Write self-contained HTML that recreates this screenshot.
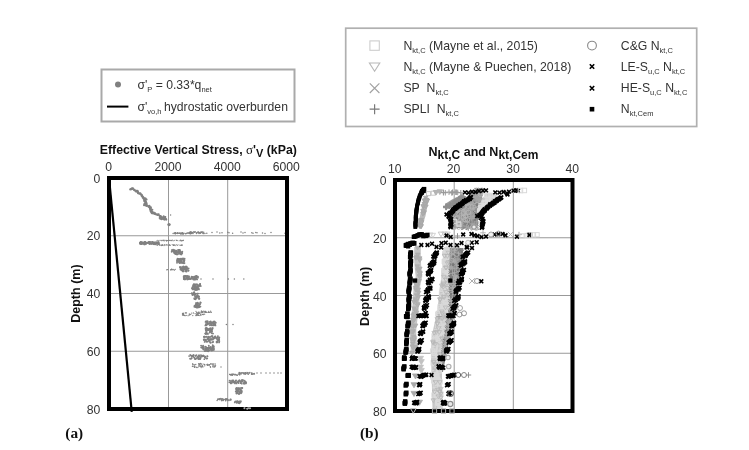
<!DOCTYPE html><html><head><meta charset="utf-8"><title>Chart</title><style>
html,body{margin:0;padding:0;background:#fff;}svg{display:block;filter:blur(0.35px);}text{font-family:"Liberation Sans",sans-serif;}
.ser{font-family:"Liberation Serif",serif;}
</style></head><body>
<svg width="749" height="450" viewBox="0 0 749 450">
<rect width="749" height="450" fill="#fff"/>
<rect x="101.5" y="69.5" width="193" height="52" fill="#fff" stroke="#a9a9a9" stroke-width="2"/>
<circle cx="118" cy="84.5" r="3" fill="#808080"/>
<path d="M107 106.6H128.4" stroke="#000" stroke-width="2"/>
<text x="137.4" y="88.6" font-size="12.2" fill="#333">σ'<tspan font-size="7.5" dy="3">P</tspan><tspan dy="-3" font-size="12.2"> = 0.33*q</tspan><tspan font-size="7.5" dy="3">net</tspan></text>
<text x="137.4" y="110.9" font-size="12.2" fill="#333">σ'<tspan font-size="7.5" dy="3">vo,h</tspan><tspan dy="-3" dx="-0.9" font-size="12.2"> hydrostatic overburden</tspan></text>
<rect x="345.7" y="28.2" width="351" height="98.3" fill="#fff" stroke="#b0b0b0" stroke-width="1.7"/>
<rect x="369.9" y="40.9" width="9.4" height="9.4" stroke="#cdcdcd" stroke-width="1.1" fill="none"/>
<path d="M369.40000000000003 62.99999999999999H379.8L374.6 71.19999999999999Z" stroke="#b8b8b8" stroke-width="1.1" fill="none"/>
<path d="M369.8 83.4L379.4 93.0M369.8 93.0L379.4 83.4" stroke="#a0a0a0" stroke-width="1.1" fill="none"/>
<path d="M369.6 109.2H379.6M374.6 104.2V114.2" stroke="#7a7a7a" stroke-width="1.2" fill="none"/>
<circle cx="592.0" cy="45.6" r="4.4" stroke="#8a8a8a" stroke-width="1.1" fill="none"/>
<path d="M589.8 64.3L594.2 68.8M589.8 68.8L594.2 64.3" stroke="#000" stroke-width="1.6" fill="none"/>
<path d="M589.8 86.0L594.2 90.5M589.8 90.5L594.2 86.0" stroke="#000" stroke-width="1.6" fill="none"/>
<rect x="589.7" y="106.9" width="4.6" height="4.6" stroke="#000" stroke-width="0" fill="#000"/>
<text x="403.4" y="49.5" font-size="12.25" fill="#333">N<tspan font-size="7.5" dy="3">kt,C</tspan><tspan dy="-3" font-size="12.25"> (Mayne et al., 2015)</tspan></text>
<text x="403.4" y="70.5" font-size="12.25" fill="#333">N<tspan font-size="7.5" dy="3">kt,C</tspan><tspan dy="-3" font-size="12.25"> (Mayne &amp; Puechen, 2018)</tspan></text>
<text x="403.4" y="92.10000000000001" font-size="12.25" fill="#333">SP&#160;&#160;N<tspan font-size="7.5" dy="3">kt,C</tspan><tspan dy="-3" font-size="12.25"></tspan></text>
<text x="403.4" y="113.10000000000001" font-size="12.25" fill="#333">SPLI&#160;&#160;N<tspan font-size="7.5" dy="3">kt,C</tspan><tspan dy="-3" font-size="12.25"></tspan></text>
<text x="620.8" y="49.5" font-size="12.25" fill="#333">C&amp;G N<tspan font-size="7.5" dy="3">kt,C</tspan><tspan dy="-3" font-size="12.25"></tspan></text>
<text x="620.8" y="70.5" font-size="12.25" fill="#333">LE-S<tspan font-size="7.5" dy="3">u,C</tspan><tspan dy="-3" font-size="12.25"> N</tspan><tspan font-size="7.5" dy="3">kt,C</tspan><tspan dy="-3" font-size="12.25"></tspan></text>
<text x="620.8" y="92.10000000000001" font-size="12.25" fill="#333">HE-S<tspan font-size="7.5" dy="3">u,C</tspan><tspan dy="-3" font-size="12.25"> N</tspan><tspan font-size="7.5" dy="3">kt,C</tspan><tspan dy="-3" font-size="12.25"></tspan></text>
<text x="620.8" y="113.10000000000001" font-size="12.25" fill="#333">N<tspan font-size="7.5" dy="3">kt,Cem</tspan><tspan dy="-3" font-size="12.25"></tspan></text>
<path d="M168.5 178V409" stroke="#999" stroke-width="1"/>
<path d="M227.7 178V409" stroke="#999" stroke-width="1"/>
<path d="M109 235.75H287" stroke="#999" stroke-width="1"/>
<path d="M109 293.50H287" stroke="#999" stroke-width="1"/>
<path d="M109 351.25H287" stroke="#999" stroke-width="1"/>
<g><circle cx="130.3" cy="189.4" r="1.15" fill="#808080"/><circle cx="131.3" cy="189.0" r="1.15" fill="#808080"/><circle cx="131.8" cy="189.0" r="1.15" fill="#808080"/><circle cx="131.8" cy="188.8" r="1.15" fill="#808080"/><circle cx="132.4" cy="188.4" r="1.15" fill="#808080"/><circle cx="133.1" cy="188.6" r="1.15" fill="#808080"/><circle cx="134.2" cy="190.1" r="1.15" fill="#808080"/><circle cx="134.5" cy="190.0" r="1.15" fill="#808080"/><circle cx="135.7" cy="191.3" r="1.15" fill="#808080"/><circle cx="136.2" cy="191.0" r="1.15" fill="#808080"/><circle cx="137.4" cy="191.0" r="1.15" fill="#808080"/><circle cx="137.8" cy="191.7" r="1.15" fill="#808080"/><circle cx="137.3" cy="191.9" r="1.15" fill="#808080"/><circle cx="138.1" cy="193.2" r="1.15" fill="#808080"/><circle cx="138.6" cy="193.3" r="1.15" fill="#808080"/><circle cx="139.9" cy="193.5" r="1.15" fill="#808080"/><circle cx="140.4" cy="193.6" r="1.15" fill="#808080"/><circle cx="140.4" cy="194.1" r="1.15" fill="#808080"/><circle cx="141.7" cy="195.0" r="1.15" fill="#808080"/><circle cx="141.6" cy="195.8" r="1.15" fill="#808080"/><circle cx="142.2" cy="196.0" r="1.15" fill="#808080"/><circle cx="143.1" cy="197.1" r="1.15" fill="#808080"/><circle cx="142.7" cy="197.5" r="1.15" fill="#808080"/><circle cx="143.5" cy="198.5" r="1.15" fill="#808080"/><circle cx="144.2" cy="198.3" r="1.15" fill="#808080"/><circle cx="144.9" cy="198.7" r="1.15" fill="#808080"/><circle cx="144.5" cy="200.1" r="1.15" fill="#808080"/><circle cx="144.5" cy="200.4" r="1.15" fill="#808080"/><circle cx="144.5" cy="201.3" r="1.15" fill="#808080"/><circle cx="145.7" cy="202.0" r="1.15" fill="#808080"/><circle cx="146.0" cy="202.4" r="1.15" fill="#808080"/><circle cx="145.9" cy="203.4" r="1.15" fill="#808080"/><circle cx="145.9" cy="204.0" r="1.15" fill="#808080"/><circle cx="146.5" cy="205.3" r="1.15" fill="#808080"/><circle cx="146.7" cy="205.3" r="1.15" fill="#808080"/><circle cx="146.8" cy="205.7" r="1.15" fill="#808080"/><circle cx="148.3" cy="206.4" r="1.15" fill="#808080"/><circle cx="149.3" cy="205.9" r="1.15" fill="#808080"/><circle cx="149.3" cy="206.7" r="1.15" fill="#808080"/><circle cx="149.2" cy="207.1" r="1.15" fill="#808080"/><circle cx="149.8" cy="207.3" r="1.15" fill="#808080"/><circle cx="150.0" cy="208.7" r="1.15" fill="#808080"/><circle cx="150.5" cy="208.7" r="1.15" fill="#808080"/><circle cx="151.0" cy="210.2" r="1.15" fill="#808080"/><circle cx="150.7" cy="210.4" r="1.15" fill="#808080"/><circle cx="151.5" cy="211.6" r="1.15" fill="#808080"/><circle cx="152.0" cy="212.3" r="1.15" fill="#808080"/><circle cx="151.4" cy="212.5" r="1.15" fill="#808080"/><circle cx="152.2" cy="213.3" r="1.15" fill="#808080"/><circle cx="153.7" cy="212.7" r="1.15" fill="#808080"/><circle cx="153.2" cy="213.0" r="1.15" fill="#808080"/><circle cx="154.0" cy="213.5" r="1.15" fill="#808080"/><circle cx="155.1" cy="213.5" r="1.15" fill="#808080"/><circle cx="155.0" cy="213.9" r="1.15" fill="#808080"/><circle cx="156.2" cy="214.4" r="1.15" fill="#808080"/><circle cx="157.7" cy="214.7" r="1.15" fill="#808080"/><circle cx="157.7" cy="214.9" r="1.15" fill="#808080"/><circle cx="158.6" cy="214.5" r="1.15" fill="#808080"/><circle cx="159.6" cy="215.8" r="1.15" fill="#808080"/><circle cx="160.2" cy="216.3" r="1.15" fill="#808080"/><circle cx="160.2" cy="216.2" r="1.15" fill="#808080"/><circle cx="160.4" cy="217.0" r="1.15" fill="#808080"/><circle cx="161.0" cy="216.7" r="1.15" fill="#808080"/><circle cx="161.8" cy="217.3" r="1.15" fill="#808080"/><circle cx="162.7" cy="217.6" r="1.15" fill="#808080"/><circle cx="162.8" cy="218.2" r="1.15" fill="#808080"/><circle cx="163.7" cy="218.7" r="1.15" fill="#808080"/><circle cx="164.3" cy="219.6" r="1.15" fill="#808080"/><circle cx="165.9" cy="219.1" r="1.15" fill="#808080"/><circle cx="166.2" cy="219.6" r="1.15" fill="#808080"/><circle cx="145.1" cy="199.4" r="1.1" fill="#808080"/><circle cx="146.5" cy="205.5" r="1.1" fill="#808080"/><circle cx="145.4" cy="201.9" r="1.1" fill="#808080"/><circle cx="144.3" cy="199.2" r="1.1" fill="#808080"/><circle cx="145.0" cy="200.4" r="1.1" fill="#808080"/><circle cx="146.5" cy="199.6" r="1.1" fill="#808080"/><circle cx="144.1" cy="205.2" r="1.1" fill="#808080"/><circle cx="145.6" cy="199.5" r="1.1" fill="#808080"/><circle cx="145.6" cy="198.7" r="1.1" fill="#808080"/><circle cx="145.6" cy="205.3" r="1.1" fill="#808080"/><circle cx="146.6" cy="203.4" r="1.1" fill="#808080"/><circle cx="144.8" cy="201.1" r="1.1" fill="#808080"/><circle cx="144.5" cy="203.9" r="1.1" fill="#808080"/><circle cx="145.6" cy="204.0" r="1.1" fill="#808080"/><circle cx="150.8" cy="208.3" r="1.0" fill="#808080"/><circle cx="152.0" cy="212.9" r="1.0" fill="#808080"/><circle cx="152.1" cy="211.8" r="1.0" fill="#808080"/><circle cx="152.0" cy="211.4" r="1.0" fill="#808080"/><circle cx="150.6" cy="210.1" r="1.0" fill="#808080"/><circle cx="150.9" cy="207.2" r="1.0" fill="#808080"/><circle cx="150.1" cy="208.7" r="1.0" fill="#808080"/><circle cx="150.6" cy="211.2" r="1.0" fill="#808080"/><circle cx="152.4" cy="209.7" r="1.0" fill="#808080"/><circle cx="152.3" cy="212.9" r="1.0" fill="#808080"/><circle cx="165.2" cy="217.0" r="1.0" fill="#808080"/><circle cx="160.4" cy="216.4" r="1.0" fill="#808080"/><circle cx="160.3" cy="216.3" r="1.0" fill="#808080"/><circle cx="163.1" cy="219.1" r="1.0" fill="#808080"/><circle cx="164.5" cy="217.4" r="1.0" fill="#808080"/><circle cx="163.2" cy="218.7" r="1.0" fill="#808080"/><circle cx="159.6" cy="218.1" r="1.0" fill="#808080"/><circle cx="164.9" cy="218.6" r="1.0" fill="#808080"/><circle cx="163.9" cy="217.4" r="1.0" fill="#808080"/><circle cx="160.2" cy="218.7" r="1.0" fill="#808080"/><circle cx="161.2" cy="218.7" r="1.0" fill="#808080"/><circle cx="165.3" cy="217.1" r="1.0" fill="#808080"/><circle cx="161.6" cy="219.3" r="1.0" fill="#808080"/><circle cx="163.7" cy="216.2" r="1.0" fill="#808080"/><circle cx="170.6" cy="215.0" r="0.7" fill="#808080"/><circle cx="169.0" cy="224.6" r="1.7" fill="#808080"/><circle cx="175.3" cy="233.0" r="0.75" fill="#808080"/><circle cx="189.3" cy="233.6" r="0.75" fill="#808080"/><circle cx="175.6" cy="233.6" r="0.75" fill="#808080"/><circle cx="190.6" cy="233.5" r="0.75" fill="#808080"/><circle cx="179.3" cy="233.3" r="0.75" fill="#808080"/><circle cx="175.4" cy="232.8" r="0.75" fill="#808080"/><circle cx="190.5" cy="233.4" r="0.75" fill="#808080"/><circle cx="182.5" cy="233.7" r="0.75" fill="#808080"/><circle cx="180.8" cy="233.7" r="0.75" fill="#808080"/><circle cx="187.9" cy="233.0" r="0.75" fill="#808080"/><circle cx="177.5" cy="233.1" r="0.75" fill="#808080"/><circle cx="177.3" cy="233.4" r="0.75" fill="#808080"/><circle cx="177.7" cy="233.2" r="0.75" fill="#808080"/><circle cx="175.4" cy="233.7" r="0.75" fill="#808080"/><circle cx="179.4" cy="233.3" r="0.75" fill="#808080"/><circle cx="183.5" cy="233.7" r="0.75" fill="#808080"/><circle cx="180.6" cy="233.7" r="0.75" fill="#808080"/><circle cx="182.0" cy="233.3" r="0.75" fill="#808080"/><circle cx="182.4" cy="232.8" r="0.75" fill="#808080"/><circle cx="180.9" cy="233.0" r="0.75" fill="#808080"/><circle cx="173.1" cy="233.6" r="0.75" fill="#808080"/><circle cx="176.1" cy="233.3" r="0.75" fill="#808080"/><circle cx="186.1" cy="233.4" r="0.75" fill="#808080"/><circle cx="178.9" cy="233.3" r="0.75" fill="#808080"/><circle cx="183.0" cy="233.6" r="0.75" fill="#808080"/><circle cx="174.9" cy="233.4" r="0.75" fill="#808080"/><circle cx="177.5" cy="233.1" r="0.75" fill="#808080"/><circle cx="186.9" cy="233.3" r="0.75" fill="#808080"/><circle cx="183.1" cy="233.6" r="0.75" fill="#808080"/><circle cx="189.4" cy="233.2" r="0.75" fill="#808080"/><circle cx="184.0" cy="233.3" r="0.75" fill="#808080"/><circle cx="182.2" cy="233.5" r="0.75" fill="#808080"/><circle cx="181.1" cy="233.3" r="0.75" fill="#808080"/><circle cx="181.6" cy="233.7" r="0.75" fill="#808080"/><circle cx="185.6" cy="233.7" r="0.75" fill="#808080"/><circle cx="190.0" cy="233.1" r="0.75" fill="#808080"/><circle cx="183.1" cy="233.7" r="0.75" fill="#808080"/><circle cx="188.1" cy="232.9" r="0.75" fill="#808080"/><circle cx="175.2" cy="233.2" r="0.75" fill="#808080"/><circle cx="174.3" cy="233.0" r="0.75" fill="#808080"/><circle cx="190.3" cy="233.0" r="0.75" fill="#808080"/><circle cx="203.1" cy="233.4" r="0.75" fill="#808080"/><circle cx="191.8" cy="233.1" r="0.75" fill="#808080"/><circle cx="200.9" cy="232.1" r="0.75" fill="#808080"/><circle cx="204.9" cy="233.5" r="0.75" fill="#808080"/><circle cx="193.0" cy="233.5" r="0.75" fill="#808080"/><circle cx="196.2" cy="232.7" r="0.75" fill="#808080"/><circle cx="206.8" cy="233.3" r="0.75" fill="#808080"/><circle cx="191.9" cy="232.6" r="0.75" fill="#808080"/><circle cx="198.3" cy="232.4" r="0.75" fill="#808080"/><circle cx="192.5" cy="232.4" r="0.75" fill="#808080"/><circle cx="202.0" cy="231.8" r="0.75" fill="#808080"/><circle cx="199.0" cy="232.6" r="0.75" fill="#808080"/><circle cx="189.3" cy="232.4" r="0.75" fill="#808080"/><circle cx="200.2" cy="232.7" r="0.75" fill="#808080"/><circle cx="190.2" cy="233.6" r="0.75" fill="#808080"/><circle cx="203.2" cy="233.5" r="0.75" fill="#808080"/><circle cx="190.9" cy="232.3" r="0.75" fill="#808080"/><circle cx="189.7" cy="233.2" r="0.75" fill="#808080"/><circle cx="193.9" cy="232.0" r="0.75" fill="#808080"/><circle cx="196.6" cy="233.4" r="0.75" fill="#808080"/><circle cx="203.7" cy="232.3" r="0.75" fill="#808080"/><circle cx="191.7" cy="233.5" r="0.75" fill="#808080"/><circle cx="199.3" cy="233.1" r="0.75" fill="#808080"/><circle cx="190.6" cy="231.9" r="0.75" fill="#808080"/><circle cx="201.4" cy="232.6" r="0.75" fill="#808080"/><circle cx="190.3" cy="233.5" r="0.75" fill="#808080"/><circle cx="200.4" cy="233.2" r="0.75" fill="#808080"/><circle cx="190.5" cy="233.3" r="0.75" fill="#808080"/><circle cx="190.2" cy="233.4" r="0.75" fill="#808080"/><circle cx="197.2" cy="232.4" r="0.75" fill="#808080"/><circle cx="199.0" cy="233.5" r="0.75" fill="#808080"/><circle cx="193.8" cy="232.0" r="0.75" fill="#808080"/><circle cx="198.5" cy="232.2" r="0.75" fill="#808080"/><circle cx="191.0" cy="232.1" r="0.75" fill="#808080"/><circle cx="189.9" cy="232.2" r="0.75" fill="#808080"/><circle cx="194.6" cy="232.3" r="0.75" fill="#808080"/><circle cx="202.7" cy="232.3" r="0.75" fill="#808080"/><circle cx="198.0" cy="232.1" r="0.75" fill="#808080"/><circle cx="195.2" cy="231.8" r="0.75" fill="#808080"/><circle cx="212.0" cy="232.4" r="0.75" fill="#808080"/><circle cx="217.0" cy="232.0" r="0.75" fill="#808080"/><circle cx="219.8" cy="233.0" r="0.75" fill="#808080"/><circle cx="222.0" cy="232.8" r="0.75" fill="#808080"/><circle cx="227.8" cy="232.3" r="0.75" fill="#808080"/><circle cx="229.0" cy="232.7" r="0.75" fill="#808080"/><circle cx="232.6" cy="233.3" r="0.75" fill="#808080"/><circle cx="241.0" cy="232.1" r="0.75" fill="#808080"/><circle cx="243.0" cy="233.1" r="0.75" fill="#808080"/><circle cx="245.0" cy="232.6" r="0.75" fill="#808080"/><circle cx="251.8" cy="232.7" r="0.75" fill="#808080"/><circle cx="253.0" cy="233.2" r="0.75" fill="#808080"/><circle cx="255.8" cy="232.6" r="0.75" fill="#808080"/><circle cx="257.0" cy="232.7" r="0.75" fill="#808080"/><circle cx="262.5" cy="233.0" r="0.75" fill="#808080"/><circle cx="265.0" cy="233.4" r="0.75" fill="#808080"/><circle cx="271.0" cy="232.5" r="0.75" fill="#808080"/><circle cx="285.0" cy="233.2" r="0.75" fill="#808080"/><circle cx="153.4" cy="243.5" r="0.9" fill="#808080"/><circle cx="147.7" cy="242.7" r="0.9" fill="#808080"/><circle cx="141.0" cy="242.1" r="0.9" fill="#808080"/><circle cx="141.3" cy="243.7" r="0.9" fill="#808080"/><circle cx="144.9" cy="242.2" r="0.9" fill="#808080"/><circle cx="141.6" cy="244.0" r="0.9" fill="#808080"/><circle cx="156.5" cy="243.5" r="0.9" fill="#808080"/><circle cx="145.4" cy="242.4" r="0.9" fill="#808080"/><circle cx="145.6" cy="243.0" r="0.9" fill="#808080"/><circle cx="143.0" cy="243.0" r="0.9" fill="#808080"/><circle cx="145.0" cy="244.3" r="0.9" fill="#808080"/><circle cx="158.5" cy="243.2" r="0.9" fill="#808080"/><circle cx="144.6" cy="244.3" r="0.9" fill="#808080"/><circle cx="145.9" cy="242.7" r="0.9" fill="#808080"/><circle cx="140.0" cy="242.8" r="0.9" fill="#808080"/><circle cx="149.0" cy="243.1" r="0.9" fill="#808080"/><circle cx="143.8" cy="243.1" r="0.9" fill="#808080"/><circle cx="140.1" cy="242.5" r="0.9" fill="#808080"/><circle cx="141.7" cy="242.8" r="0.9" fill="#808080"/><circle cx="140.8" cy="241.9" r="0.9" fill="#808080"/><circle cx="145.8" cy="242.4" r="0.9" fill="#808080"/><circle cx="151.1" cy="243.2" r="0.9" fill="#808080"/><circle cx="154.3" cy="243.5" r="0.9" fill="#808080"/><circle cx="153.6" cy="244.1" r="0.9" fill="#808080"/><circle cx="147.4" cy="242.6" r="0.9" fill="#808080"/><circle cx="158.7" cy="242.2" r="0.9" fill="#808080"/><circle cx="153.8" cy="243.5" r="0.9" fill="#808080"/><circle cx="140.8" cy="244.0" r="0.9" fill="#808080"/><circle cx="156.9" cy="243.4" r="0.9" fill="#808080"/><circle cx="153.9" cy="243.9" r="0.9" fill="#808080"/><circle cx="142.6" cy="243.2" r="0.9" fill="#808080"/><circle cx="149.6" cy="244.0" r="0.9" fill="#808080"/><circle cx="155.3" cy="243.9" r="0.9" fill="#808080"/><circle cx="151.1" cy="244.1" r="0.9" fill="#808080"/><circle cx="153.0" cy="243.6" r="0.9" fill="#808080"/><circle cx="144.4" cy="241.9" r="0.9" fill="#808080"/><circle cx="142.5" cy="242.7" r="0.9" fill="#808080"/><circle cx="142.0" cy="244.0" r="0.9" fill="#808080"/><circle cx="150.6" cy="243.4" r="0.9" fill="#808080"/><circle cx="151.9" cy="243.6" r="0.9" fill="#808080"/><circle cx="149.3" cy="241.8" r="0.9" fill="#808080"/><circle cx="155.2" cy="243.7" r="0.9" fill="#808080"/><circle cx="149.6" cy="243.2" r="0.9" fill="#808080"/><circle cx="152.5" cy="242.0" r="0.9" fill="#808080"/><circle cx="154.0" cy="242.5" r="0.9" fill="#808080"/><circle cx="141.4" cy="242.5" r="0.9" fill="#808080"/><circle cx="153.9" cy="242.3" r="0.9" fill="#808080"/><circle cx="154.1" cy="244.3" r="0.9" fill="#808080"/><circle cx="149.4" cy="242.8" r="0.9" fill="#808080"/><circle cx="149.1" cy="243.6" r="0.9" fill="#808080"/><circle cx="154.6" cy="243.4" r="0.9" fill="#808080"/><circle cx="152.2" cy="242.0" r="0.9" fill="#808080"/><circle cx="142.8" cy="242.5" r="0.9" fill="#808080"/><circle cx="154.1" cy="242.6" r="0.9" fill="#808080"/><circle cx="150.8" cy="241.8" r="0.9" fill="#808080"/><circle cx="141.2" cy="242.5" r="0.9" fill="#808080"/><circle cx="152.8" cy="243.6" r="0.9" fill="#808080"/><circle cx="152.8" cy="242.6" r="0.9" fill="#808080"/><circle cx="149.8" cy="243.0" r="0.9" fill="#808080"/><circle cx="148.9" cy="242.1" r="0.9" fill="#808080"/><circle cx="157.0" cy="242.3" r="0.9" fill="#808080"/><circle cx="158.6" cy="244.2" r="0.9" fill="#808080"/><circle cx="140.3" cy="243.0" r="0.9" fill="#808080"/><circle cx="155.6" cy="244.3" r="0.9" fill="#808080"/><circle cx="148.5" cy="242.5" r="0.9" fill="#808080"/><circle cx="144.0" cy="244.3" r="0.9" fill="#808080"/><circle cx="144.0" cy="243.3" r="0.9" fill="#808080"/><circle cx="142.7" cy="243.2" r="0.9" fill="#808080"/><circle cx="158.1" cy="242.1" r="0.9" fill="#808080"/><circle cx="155.6" cy="243.1" r="0.9" fill="#808080"/><circle cx="156.9" cy="243.6" r="0.9" fill="#808080"/><circle cx="144.4" cy="244.1" r="0.9" fill="#808080"/><circle cx="149.2" cy="241.9" r="0.9" fill="#808080"/><circle cx="140.1" cy="243.1" r="0.9" fill="#808080"/><circle cx="148.6" cy="242.6" r="0.9" fill="#808080"/><circle cx="142.7" cy="242.7" r="0.9" fill="#808080"/><circle cx="146.0" cy="244.0" r="0.9" fill="#808080"/><circle cx="140.0" cy="243.8" r="0.9" fill="#808080"/><circle cx="155.9" cy="242.1" r="0.9" fill="#808080"/><circle cx="157.6" cy="243.7" r="0.9" fill="#808080"/><circle cx="157.1" cy="242.6" r="0.9" fill="#808080"/><circle cx="147.1" cy="242.8" r="0.9" fill="#808080"/><circle cx="159.0" cy="243.3" r="0.9" fill="#808080"/><circle cx="146.9" cy="242.9" r="0.9" fill="#808080"/><circle cx="145.2" cy="241.9" r="0.9" fill="#808080"/><circle cx="158.8" cy="240.8" r="0.55" fill="#808080"/><circle cx="164.0" cy="240.8" r="0.55" fill="#808080"/><circle cx="163.0" cy="240.3" r="0.55" fill="#808080"/><circle cx="170.3" cy="240.3" r="0.55" fill="#808080"/><circle cx="166.5" cy="240.9" r="0.55" fill="#808080"/><circle cx="180.8" cy="240.7" r="0.55" fill="#808080"/><circle cx="173.7" cy="240.8" r="0.55" fill="#808080"/><circle cx="182.3" cy="240.5" r="0.55" fill="#808080"/><circle cx="176.1" cy="240.1" r="0.55" fill="#808080"/><circle cx="176.5" cy="240.5" r="0.55" fill="#808080"/><circle cx="177.1" cy="240.6" r="0.55" fill="#808080"/><circle cx="164.0" cy="240.1" r="0.55" fill="#808080"/><circle cx="181.9" cy="240.2" r="0.55" fill="#808080"/><circle cx="169.2" cy="240.4" r="0.55" fill="#808080"/><circle cx="164.3" cy="240.7" r="0.55" fill="#808080"/><circle cx="183.3" cy="240.3" r="0.55" fill="#808080"/><circle cx="174.4" cy="240.3" r="0.55" fill="#808080"/><circle cx="171.6" cy="240.4" r="0.55" fill="#808080"/><circle cx="160.7" cy="240.2" r="0.55" fill="#808080"/><circle cx="161.8" cy="240.8" r="0.55" fill="#808080"/><circle cx="169.9" cy="240.3" r="0.55" fill="#808080"/><circle cx="181.4" cy="240.9" r="0.55" fill="#808080"/><circle cx="168.6" cy="240.2" r="0.55" fill="#808080"/><circle cx="161.4" cy="240.2" r="0.55" fill="#808080"/><circle cx="165.6" cy="240.2" r="0.55" fill="#808080"/><circle cx="162.7" cy="240.3" r="0.55" fill="#808080"/><circle cx="171.9" cy="240.8" r="0.55" fill="#808080"/><circle cx="177.0" cy="240.4" r="0.55" fill="#808080"/><circle cx="167.6" cy="240.5" r="0.55" fill="#808080"/><circle cx="166.6" cy="240.4" r="0.55" fill="#808080"/><circle cx="157.7" cy="240.3" r="0.55" fill="#808080"/><circle cx="183.1" cy="240.2" r="0.55" fill="#808080"/><circle cx="170.1" cy="240.6" r="0.55" fill="#808080"/><circle cx="180.2" cy="240.3" r="0.55" fill="#808080"/><circle cx="163.6" cy="240.3" r="0.55" fill="#808080"/><circle cx="167.2" cy="240.5" r="0.55" fill="#808080"/><circle cx="182.7" cy="240.8" r="0.55" fill="#808080"/><circle cx="180.4" cy="240.1" r="0.55" fill="#808080"/><circle cx="156.9" cy="240.7" r="0.55" fill="#808080"/><circle cx="181.1" cy="240.5" r="0.55" fill="#808080"/><circle cx="172.4" cy="240.1" r="0.55" fill="#808080"/><circle cx="167.0" cy="240.8" r="0.55" fill="#808080"/><circle cx="179.1" cy="240.8" r="0.55" fill="#808080"/><circle cx="183.2" cy="240.3" r="0.55" fill="#808080"/><circle cx="159.1" cy="240.2" r="0.55" fill="#808080"/><circle cx="170.1" cy="245.3" r="0.55" fill="#808080"/><circle cx="181.4" cy="245.3" r="0.55" fill="#808080"/><circle cx="173.5" cy="245.4" r="0.55" fill="#808080"/><circle cx="168.3" cy="245.2" r="0.55" fill="#808080"/><circle cx="157.1" cy="245.4" r="0.55" fill="#808080"/><circle cx="162.3" cy="245.5" r="0.55" fill="#808080"/><circle cx="173.4" cy="244.9" r="0.55" fill="#808080"/><circle cx="159.5" cy="244.9" r="0.55" fill="#808080"/><circle cx="173.2" cy="245.3" r="0.55" fill="#808080"/><circle cx="159.0" cy="244.7" r="0.55" fill="#808080"/><circle cx="170.2" cy="245.2" r="0.55" fill="#808080"/><circle cx="166.5" cy="244.8" r="0.55" fill="#808080"/><circle cx="172.2" cy="244.6" r="0.55" fill="#808080"/><circle cx="164.1" cy="245.1" r="0.55" fill="#808080"/><circle cx="181.9" cy="245.2" r="0.55" fill="#808080"/><circle cx="179.9" cy="245.1" r="0.55" fill="#808080"/><circle cx="162.3" cy="244.8" r="0.55" fill="#808080"/><circle cx="181.9" cy="245.3" r="0.55" fill="#808080"/><circle cx="164.3" cy="244.6" r="0.55" fill="#808080"/><circle cx="169.5" cy="245.3" r="0.55" fill="#808080"/><circle cx="167.3" cy="244.9" r="0.55" fill="#808080"/><circle cx="174.0" cy="245.5" r="0.55" fill="#808080"/><circle cx="162.1" cy="244.6" r="0.55" fill="#808080"/><circle cx="165.1" cy="245.0" r="0.55" fill="#808080"/><circle cx="174.4" cy="244.8" r="0.55" fill="#808080"/><circle cx="177.5" cy="245.3" r="0.55" fill="#808080"/><circle cx="169.6" cy="244.8" r="0.55" fill="#808080"/><circle cx="182.2" cy="244.9" r="0.55" fill="#808080"/><circle cx="178.1" cy="244.8" r="0.55" fill="#808080"/><circle cx="162.0" cy="245.4" r="0.55" fill="#808080"/><circle cx="164.0" cy="245.6" r="0.55" fill="#808080"/><circle cx="169.4" cy="244.8" r="0.55" fill="#808080"/><circle cx="162.0" cy="245.0" r="0.55" fill="#808080"/><circle cx="174.0" cy="245.5" r="0.55" fill="#808080"/><circle cx="160.0" cy="245.0" r="0.55" fill="#808080"/><circle cx="161.7" cy="245.6" r="0.55" fill="#808080"/><circle cx="159.8" cy="244.7" r="0.55" fill="#808080"/><circle cx="157.6" cy="245.0" r="0.55" fill="#808080"/><circle cx="180.3" cy="245.5" r="0.55" fill="#808080"/><circle cx="175.8" cy="245.6" r="0.55" fill="#808080"/><circle cx="181.2" cy="244.9" r="0.55" fill="#808080"/><circle cx="161.0" cy="245.5" r="0.55" fill="#808080"/><circle cx="176.2" cy="244.6" r="0.55" fill="#808080"/><circle cx="173.9" cy="245.0" r="0.55" fill="#808080"/><circle cx="166.1" cy="244.9" r="0.55" fill="#808080"/><circle cx="173.1" cy="249.8" r="0.95" fill="#808080"/><circle cx="174.0" cy="250.7" r="0.95" fill="#808080"/><circle cx="179.6" cy="250.1" r="0.95" fill="#808080"/><circle cx="179.7" cy="250.4" r="0.95" fill="#808080"/><circle cx="174.7" cy="252.0" r="0.95" fill="#808080"/><circle cx="178.5" cy="251.0" r="0.95" fill="#808080"/><circle cx="172.1" cy="251.1" r="0.95" fill="#808080"/><circle cx="174.8" cy="252.3" r="0.95" fill="#808080"/><circle cx="173.3" cy="250.8" r="0.95" fill="#808080"/><circle cx="179.1" cy="249.9" r="0.95" fill="#808080"/><circle cx="175.1" cy="252.0" r="0.95" fill="#808080"/><circle cx="178.1" cy="249.9" r="0.95" fill="#808080"/><circle cx="172.0" cy="250.0" r="0.95" fill="#808080"/><circle cx="179.3" cy="250.5" r="0.95" fill="#808080"/><circle cx="177.9" cy="252.2" r="0.95" fill="#808080"/><circle cx="174.5" cy="250.5" r="0.95" fill="#808080"/><circle cx="179.6" cy="251.5" r="0.95" fill="#808080"/><circle cx="173.9" cy="251.7" r="0.95" fill="#808080"/><circle cx="174.3" cy="250.5" r="0.95" fill="#808080"/><circle cx="171.7" cy="251.8" r="0.95" fill="#808080"/><circle cx="179.3" cy="251.5" r="0.95" fill="#808080"/><circle cx="179.5" cy="249.9" r="0.95" fill="#808080"/><circle cx="173.6" cy="251.1" r="0.95" fill="#808080"/><circle cx="179.6" cy="252.4" r="0.95" fill="#808080"/><circle cx="174.9" cy="250.5" r="0.95" fill="#808080"/><circle cx="175.3" cy="251.1" r="0.95" fill="#808080"/><circle cx="179.4" cy="250.3" r="0.95" fill="#808080"/><circle cx="178.4" cy="251.8" r="0.95" fill="#808080"/><circle cx="178.5" cy="251.9" r="0.95" fill="#808080"/><circle cx="176.7" cy="250.7" r="0.95" fill="#808080"/><circle cx="176.7" cy="252.5" r="0.95" fill="#808080"/><circle cx="180.6" cy="251.7" r="0.95" fill="#808080"/><circle cx="175.7" cy="253.7" r="0.95" fill="#808080"/><circle cx="176.1" cy="251.7" r="0.95" fill="#808080"/><circle cx="174.3" cy="253.1" r="0.95" fill="#808080"/><circle cx="176.7" cy="254.3" r="0.95" fill="#808080"/><circle cx="181.4" cy="254.4" r="0.95" fill="#808080"/><circle cx="176.2" cy="251.7" r="0.95" fill="#808080"/><circle cx="174.8" cy="252.9" r="0.95" fill="#808080"/><circle cx="180.0" cy="252.8" r="0.95" fill="#808080"/><circle cx="176.0" cy="252.7" r="0.95" fill="#808080"/><circle cx="179.2" cy="253.5" r="0.95" fill="#808080"/><circle cx="180.3" cy="254.0" r="0.95" fill="#808080"/><circle cx="179.6" cy="251.9" r="0.95" fill="#808080"/><circle cx="181.1" cy="252.4" r="0.95" fill="#808080"/><circle cx="178.8" cy="252.6" r="0.95" fill="#808080"/><circle cx="180.2" cy="252.1" r="0.95" fill="#808080"/><circle cx="176.1" cy="252.2" r="0.95" fill="#808080"/><circle cx="175.3" cy="254.1" r="0.95" fill="#808080"/><circle cx="178.9" cy="252.4" r="0.95" fill="#808080"/><circle cx="177.3" cy="254.4" r="0.95" fill="#808080"/><circle cx="178.3" cy="252.2" r="0.95" fill="#808080"/><circle cx="180.8" cy="253.4" r="0.95" fill="#808080"/><circle cx="182.3" cy="251.8" r="0.95" fill="#808080"/><circle cx="178.0" cy="253.9" r="0.95" fill="#808080"/><circle cx="181.1" cy="254.2" r="0.95" fill="#808080"/><circle cx="174.3" cy="252.4" r="0.95" fill="#808080"/><circle cx="175.0" cy="252.0" r="0.95" fill="#808080"/><circle cx="182.2" cy="253.2" r="0.95" fill="#808080"/><circle cx="181.8" cy="252.6" r="0.95" fill="#808080"/><circle cx="183.9" cy="260.5" r="0.95" fill="#808080"/><circle cx="179.1" cy="262.1" r="0.95" fill="#808080"/><circle cx="184.6" cy="258.8" r="0.95" fill="#808080"/><circle cx="181.8" cy="261.3" r="0.95" fill="#808080"/><circle cx="178.7" cy="260.1" r="0.95" fill="#808080"/><circle cx="178.1" cy="259.3" r="0.95" fill="#808080"/><circle cx="179.0" cy="261.2" r="0.95" fill="#808080"/><circle cx="182.2" cy="259.3" r="0.95" fill="#808080"/><circle cx="177.1" cy="259.9" r="0.95" fill="#808080"/><circle cx="182.4" cy="259.2" r="0.95" fill="#808080"/><circle cx="179.5" cy="259.3" r="0.95" fill="#808080"/><circle cx="183.4" cy="261.0" r="0.95" fill="#808080"/><circle cx="177.5" cy="258.8" r="0.95" fill="#808080"/><circle cx="180.2" cy="261.0" r="0.95" fill="#808080"/><circle cx="182.1" cy="258.7" r="0.95" fill="#808080"/><circle cx="178.3" cy="261.7" r="0.95" fill="#808080"/><circle cx="180.3" cy="259.7" r="0.95" fill="#808080"/><circle cx="179.5" cy="263.0" r="0.95" fill="#808080"/><circle cx="179.5" cy="261.1" r="0.95" fill="#808080"/><circle cx="179.9" cy="260.3" r="0.95" fill="#808080"/><circle cx="183.9" cy="263.2" r="0.95" fill="#808080"/><circle cx="179.9" cy="259.3" r="0.95" fill="#808080"/><circle cx="182.8" cy="259.3" r="0.95" fill="#808080"/><circle cx="177.0" cy="262.7" r="0.95" fill="#808080"/><circle cx="180.4" cy="262.3" r="0.95" fill="#808080"/><circle cx="180.2" cy="262.6" r="0.95" fill="#808080"/><circle cx="180.7" cy="259.1" r="0.95" fill="#808080"/><circle cx="177.1" cy="261.0" r="0.95" fill="#808080"/><circle cx="182.1" cy="262.8" r="0.95" fill="#808080"/><circle cx="177.7" cy="261.3" r="0.95" fill="#808080"/><circle cx="180.0" cy="260.8" r="0.95" fill="#808080"/><circle cx="178.2" cy="259.7" r="0.95" fill="#808080"/><circle cx="181.2" cy="262.8" r="0.95" fill="#808080"/><circle cx="177.9" cy="260.7" r="0.95" fill="#808080"/><circle cx="183.4" cy="263.0" r="0.95" fill="#808080"/><circle cx="178.6" cy="258.9" r="0.95" fill="#808080"/><circle cx="184.5" cy="263.1" r="0.95" fill="#808080"/><circle cx="180.9" cy="258.6" r="0.95" fill="#808080"/><circle cx="184.4" cy="260.2" r="0.95" fill="#808080"/><circle cx="184.2" cy="261.3" r="0.95" fill="#808080"/><circle cx="183.6" cy="259.1" r="0.95" fill="#808080"/><circle cx="183.3" cy="259.4" r="0.95" fill="#808080"/><circle cx="180.2" cy="262.4" r="0.95" fill="#808080"/><circle cx="183.6" cy="259.2" r="0.95" fill="#808080"/><circle cx="178.7" cy="260.3" r="0.95" fill="#808080"/><circle cx="181.1" cy="260.2" r="0.95" fill="#808080"/><circle cx="178.0" cy="259.5" r="0.95" fill="#808080"/><circle cx="182.8" cy="262.7" r="0.95" fill="#808080"/><circle cx="177.3" cy="261.1" r="0.95" fill="#808080"/><circle cx="183.1" cy="258.5" r="0.95" fill="#808080"/><circle cx="175.3" cy="269.3" r="0.6" fill="#808080"/><circle cx="172.8" cy="269.8" r="0.6" fill="#808080"/><circle cx="173.0" cy="269.5" r="0.6" fill="#808080"/><circle cx="170.9" cy="269.8" r="0.6" fill="#808080"/><circle cx="170.9" cy="269.9" r="0.6" fill="#808080"/><circle cx="171.1" cy="269.6" r="0.6" fill="#808080"/><circle cx="166.6" cy="269.8" r="0.6" fill="#808080"/><circle cx="171.6" cy="269.4" r="0.6" fill="#808080"/><circle cx="174.5" cy="270.0" r="0.6" fill="#808080"/><circle cx="171.3" cy="269.4" r="0.6" fill="#808080"/><circle cx="171.4" cy="269.3" r="0.6" fill="#808080"/><circle cx="167.8" cy="269.6" r="0.6" fill="#808080"/><circle cx="167.4" cy="269.6" r="0.6" fill="#808080"/><circle cx="171.8" cy="269.2" r="0.6" fill="#808080"/><circle cx="173.1" cy="269.3" r="0.6" fill="#808080"/><circle cx="174.2" cy="270.0" r="0.6" fill="#808080"/><circle cx="183.4" cy="266.5" r="0.95" fill="#808080"/><circle cx="183.4" cy="267.5" r="0.95" fill="#808080"/><circle cx="186.6" cy="266.7" r="0.95" fill="#808080"/><circle cx="186.0" cy="269.5" r="0.95" fill="#808080"/><circle cx="185.0" cy="268.9" r="0.95" fill="#808080"/><circle cx="181.1" cy="269.4" r="0.95" fill="#808080"/><circle cx="183.3" cy="269.4" r="0.95" fill="#808080"/><circle cx="186.4" cy="266.8" r="0.95" fill="#808080"/><circle cx="185.5" cy="269.3" r="0.95" fill="#808080"/><circle cx="180.2" cy="267.4" r="0.95" fill="#808080"/><circle cx="185.2" cy="266.8" r="0.95" fill="#808080"/><circle cx="186.2" cy="267.2" r="0.95" fill="#808080"/><circle cx="185.7" cy="266.8" r="0.95" fill="#808080"/><circle cx="183.4" cy="269.2" r="0.95" fill="#808080"/><circle cx="181.2" cy="267.1" r="0.95" fill="#808080"/><circle cx="183.4" cy="267.3" r="0.95" fill="#808080"/><circle cx="180.0" cy="266.9" r="0.95" fill="#808080"/><circle cx="180.9" cy="269.3" r="0.95" fill="#808080"/><circle cx="184.7" cy="269.2" r="0.95" fill="#808080"/><circle cx="180.9" cy="268.8" r="0.95" fill="#808080"/><circle cx="180.5" cy="268.0" r="0.95" fill="#808080"/><circle cx="184.3" cy="267.5" r="0.95" fill="#808080"/><circle cx="186.1" cy="268.1" r="0.95" fill="#808080"/><circle cx="183.9" cy="269.1" r="0.95" fill="#808080"/><circle cx="180.5" cy="269.5" r="0.95" fill="#808080"/><circle cx="184.3" cy="267.6" r="0.95" fill="#808080"/><circle cx="185.5" cy="267.1" r="0.95" fill="#808080"/><circle cx="186.9" cy="268.1" r="0.95" fill="#808080"/><circle cx="182.3" cy="268.7" r="0.95" fill="#808080"/><circle cx="182.9" cy="266.9" r="0.95" fill="#808080"/><circle cx="187.2" cy="268.2" r="0.95" fill="#808080"/><circle cx="187.7" cy="268.9" r="0.95" fill="#808080"/><circle cx="186.5" cy="271.5" r="0.95" fill="#808080"/><circle cx="186.1" cy="270.4" r="0.95" fill="#808080"/><circle cx="184.2" cy="268.0" r="0.95" fill="#808080"/><circle cx="182.2" cy="268.5" r="0.95" fill="#808080"/><circle cx="186.3" cy="269.6" r="0.95" fill="#808080"/><circle cx="185.6" cy="271.2" r="0.95" fill="#808080"/><circle cx="182.9" cy="268.8" r="0.95" fill="#808080"/><circle cx="186.6" cy="268.1" r="0.95" fill="#808080"/><circle cx="182.0" cy="269.3" r="0.95" fill="#808080"/><circle cx="182.7" cy="269.3" r="0.95" fill="#808080"/><circle cx="183.6" cy="270.1" r="0.95" fill="#808080"/><circle cx="186.1" cy="268.7" r="0.95" fill="#808080"/><circle cx="186.4" cy="269.7" r="0.95" fill="#808080"/><circle cx="182.9" cy="271.4" r="0.95" fill="#808080"/><circle cx="183.7" cy="268.5" r="0.95" fill="#808080"/><circle cx="182.7" cy="270.3" r="0.95" fill="#808080"/><circle cx="188.1" cy="270.8" r="0.95" fill="#808080"/><circle cx="184.8" cy="269.0" r="0.95" fill="#808080"/><circle cx="182.1" cy="270.3" r="0.95" fill="#808080"/><circle cx="185.9" cy="269.3" r="0.95" fill="#808080"/><circle cx="186.5" cy="269.6" r="0.95" fill="#808080"/><circle cx="188.6" cy="270.6" r="0.95" fill="#808080"/><circle cx="183.7" cy="271.3" r="0.95" fill="#808080"/><circle cx="182.3" cy="269.9" r="0.95" fill="#808080"/><circle cx="184.8" cy="268.9" r="0.95" fill="#808080"/><circle cx="182.4" cy="270.8" r="0.95" fill="#808080"/><circle cx="182.1" cy="270.0" r="0.95" fill="#808080"/><circle cx="188.6" cy="268.5" r="0.95" fill="#808080"/><circle cx="186.6" cy="278.1" r="0.95" fill="#808080"/><circle cx="191.2" cy="278.2" r="0.95" fill="#808080"/><circle cx="195.7" cy="276.5" r="0.95" fill="#808080"/><circle cx="188.2" cy="276.9" r="0.95" fill="#808080"/><circle cx="184.4" cy="279.2" r="0.95" fill="#808080"/><circle cx="195.2" cy="278.5" r="0.95" fill="#808080"/><circle cx="183.8" cy="279.0" r="0.95" fill="#808080"/><circle cx="194.7" cy="277.6" r="0.95" fill="#808080"/><circle cx="194.6" cy="277.5" r="0.95" fill="#808080"/><circle cx="187.0" cy="276.2" r="0.95" fill="#808080"/><circle cx="187.1" cy="275.9" r="0.95" fill="#808080"/><circle cx="188.6" cy="278.6" r="0.95" fill="#808080"/><circle cx="193.9" cy="279.0" r="0.95" fill="#808080"/><circle cx="194.2" cy="276.8" r="0.95" fill="#808080"/><circle cx="191.8" cy="277.5" r="0.95" fill="#808080"/><circle cx="195.3" cy="277.8" r="0.95" fill="#808080"/><circle cx="187.6" cy="278.2" r="0.95" fill="#808080"/><circle cx="197.9" cy="276.6" r="0.95" fill="#808080"/><circle cx="196.6" cy="275.9" r="0.95" fill="#808080"/><circle cx="187.5" cy="276.7" r="0.95" fill="#808080"/><circle cx="194.6" cy="279.4" r="0.95" fill="#808080"/><circle cx="194.7" cy="277.0" r="0.95" fill="#808080"/><circle cx="196.6" cy="277.0" r="0.95" fill="#808080"/><circle cx="187.2" cy="279.2" r="0.95" fill="#808080"/><circle cx="193.0" cy="278.4" r="0.95" fill="#808080"/><circle cx="193.5" cy="279.5" r="0.95" fill="#808080"/><circle cx="190.6" cy="279.0" r="0.95" fill="#808080"/><circle cx="194.0" cy="279.1" r="0.95" fill="#808080"/><circle cx="190.1" cy="278.6" r="0.95" fill="#808080"/><circle cx="192.1" cy="277.0" r="0.95" fill="#808080"/><circle cx="186.8" cy="278.2" r="0.95" fill="#808080"/><circle cx="184.8" cy="279.3" r="0.95" fill="#808080"/><circle cx="185.8" cy="275.9" r="0.95" fill="#808080"/><circle cx="185.3" cy="279.3" r="0.95" fill="#808080"/><circle cx="188.8" cy="276.3" r="0.95" fill="#808080"/><circle cx="184.1" cy="276.0" r="0.95" fill="#808080"/><circle cx="193.9" cy="278.2" r="0.95" fill="#808080"/><circle cx="193.9" cy="278.6" r="0.95" fill="#808080"/><circle cx="184.7" cy="278.0" r="0.95" fill="#808080"/><circle cx="189.0" cy="278.9" r="0.95" fill="#808080"/><circle cx="195.7" cy="279.2" r="0.95" fill="#808080"/><circle cx="184.7" cy="279.1" r="0.95" fill="#808080"/><circle cx="197.1" cy="279.4" r="0.95" fill="#808080"/><circle cx="185.3" cy="276.6" r="0.95" fill="#808080"/><circle cx="185.3" cy="275.9" r="0.95" fill="#808080"/><circle cx="196.2" cy="278.9" r="0.95" fill="#808080"/><circle cx="193.0" cy="278.9" r="0.95" fill="#808080"/><circle cx="193.0" cy="276.9" r="0.95" fill="#808080"/><circle cx="185.2" cy="276.2" r="0.95" fill="#808080"/><circle cx="194.8" cy="276.6" r="0.95" fill="#808080"/><circle cx="188.4" cy="277.4" r="0.95" fill="#808080"/><circle cx="184.0" cy="276.8" r="0.95" fill="#808080"/><circle cx="187.9" cy="278.5" r="0.95" fill="#808080"/><circle cx="189.1" cy="277.0" r="0.95" fill="#808080"/><circle cx="197.9" cy="277.7" r="0.95" fill="#808080"/><circle cx="196.2" cy="278.1" r="0.95" fill="#808080"/><circle cx="184.2" cy="277.4" r="0.95" fill="#808080"/><circle cx="190.1" cy="278.7" r="0.95" fill="#808080"/><circle cx="188.8" cy="278.5" r="0.95" fill="#808080"/><circle cx="191.6" cy="276.6" r="0.95" fill="#808080"/><circle cx="196.4" cy="276.1" r="0.95" fill="#808080"/><circle cx="195.8" cy="276.4" r="0.95" fill="#808080"/><circle cx="183.7" cy="276.6" r="0.95" fill="#808080"/><circle cx="194.9" cy="279.5" r="0.95" fill="#808080"/><circle cx="183.8" cy="277.7" r="0.95" fill="#808080"/><circle cx="190.9" cy="278.8" r="0.95" fill="#808080"/><circle cx="186.4" cy="277.7" r="0.95" fill="#808080"/><circle cx="188.8" cy="279.0" r="0.95" fill="#808080"/><circle cx="187.5" cy="279.4" r="0.95" fill="#808080"/><circle cx="187.9" cy="276.6" r="0.95" fill="#808080"/><circle cx="201.0" cy="279.0" r="0.75" fill="#808080"/><circle cx="213.0" cy="279.0" r="0.75" fill="#808080"/><circle cx="228.3" cy="279.0" r="0.75" fill="#808080"/><circle cx="234.4" cy="279.0" r="0.75" fill="#808080"/><circle cx="243.8" cy="279.0" r="0.75" fill="#808080"/><circle cx="198.4" cy="285.4" r="0.95" fill="#808080"/><circle cx="193.4" cy="285.8" r="0.95" fill="#808080"/><circle cx="193.2" cy="286.3" r="0.95" fill="#808080"/><circle cx="198.4" cy="286.3" r="0.95" fill="#808080"/><circle cx="197.8" cy="284.9" r="0.95" fill="#808080"/><circle cx="195.9" cy="285.1" r="0.95" fill="#808080"/><circle cx="200.1" cy="284.1" r="0.95" fill="#808080"/><circle cx="200.1" cy="283.9" r="0.95" fill="#808080"/><circle cx="194.3" cy="284.6" r="0.95" fill="#808080"/><circle cx="200.2" cy="285.4" r="0.95" fill="#808080"/><circle cx="195.7" cy="286.6" r="0.95" fill="#808080"/><circle cx="194.5" cy="285.3" r="0.95" fill="#808080"/><circle cx="197.0" cy="286.2" r="0.95" fill="#808080"/><circle cx="198.9" cy="285.9" r="0.95" fill="#808080"/><circle cx="195.5" cy="284.8" r="0.95" fill="#808080"/><circle cx="193.8" cy="286.5" r="0.95" fill="#808080"/><circle cx="198.1" cy="286.2" r="0.95" fill="#808080"/><circle cx="193.9" cy="285.2" r="0.95" fill="#808080"/><circle cx="199.1" cy="285.7" r="0.95" fill="#808080"/><circle cx="193.6" cy="285.3" r="0.95" fill="#808080"/><circle cx="200.0" cy="284.6" r="0.95" fill="#808080"/><circle cx="194.1" cy="284.8" r="0.95" fill="#808080"/><circle cx="198.5" cy="286.5" r="0.95" fill="#808080"/><circle cx="193.8" cy="284.3" r="0.95" fill="#808080"/><circle cx="194.6" cy="284.8" r="0.95" fill="#808080"/><circle cx="196.9" cy="284.3" r="0.95" fill="#808080"/><circle cx="195.3" cy="284.4" r="0.95" fill="#808080"/><circle cx="200.8" cy="286.1" r="0.95" fill="#808080"/><circle cx="193.4" cy="286.9" r="0.95" fill="#808080"/><circle cx="193.4" cy="285.0" r="0.95" fill="#808080"/><circle cx="198.9" cy="289.4" r="0.95" fill="#808080"/><circle cx="197.1" cy="288.1" r="0.95" fill="#808080"/><circle cx="193.1" cy="288.9" r="0.95" fill="#808080"/><circle cx="192.5" cy="287.3" r="0.95" fill="#808080"/><circle cx="194.5" cy="286.6" r="0.95" fill="#808080"/><circle cx="194.6" cy="289.4" r="0.95" fill="#808080"/><circle cx="196.8" cy="288.4" r="0.95" fill="#808080"/><circle cx="196.3" cy="288.2" r="0.95" fill="#808080"/><circle cx="192.7" cy="288.7" r="0.95" fill="#808080"/><circle cx="194.7" cy="289.2" r="0.95" fill="#808080"/><circle cx="198.3" cy="288.1" r="0.95" fill="#808080"/><circle cx="195.9" cy="289.3" r="0.95" fill="#808080"/><circle cx="194.8" cy="287.3" r="0.95" fill="#808080"/><circle cx="197.0" cy="289.8" r="0.95" fill="#808080"/><circle cx="197.4" cy="289.1" r="0.95" fill="#808080"/><circle cx="197.9" cy="289.0" r="0.95" fill="#808080"/><circle cx="196.4" cy="288.2" r="0.95" fill="#808080"/><circle cx="194.0" cy="288.8" r="0.95" fill="#808080"/><circle cx="192.4" cy="288.1" r="0.95" fill="#808080"/><circle cx="197.4" cy="289.1" r="0.95" fill="#808080"/><circle cx="196.3" cy="287.4" r="0.95" fill="#808080"/><circle cx="194.8" cy="288.2" r="0.95" fill="#808080"/><circle cx="196.2" cy="288.0" r="0.95" fill="#808080"/><circle cx="196.6" cy="289.9" r="0.95" fill="#808080"/><circle cx="193.0" cy="288.9" r="0.95" fill="#808080"/><circle cx="197.4" cy="287.9" r="0.95" fill="#808080"/><circle cx="195.3" cy="290.1" r="0.95" fill="#808080"/><circle cx="192.0" cy="288.5" r="0.95" fill="#808080"/><circle cx="192.9" cy="289.4" r="0.95" fill="#808080"/><circle cx="198.6" cy="288.4" r="0.95" fill="#808080"/><circle cx="192.4" cy="293.7" r="0.95" fill="#808080"/><circle cx="195.3" cy="294.2" r="0.95" fill="#808080"/><circle cx="195.1" cy="293.9" r="0.95" fill="#808080"/><circle cx="197.3" cy="293.6" r="0.95" fill="#808080"/><circle cx="194.4" cy="294.8" r="0.95" fill="#808080"/><circle cx="193.1" cy="294.1" r="0.95" fill="#808080"/><circle cx="194.3" cy="294.3" r="0.95" fill="#808080"/><circle cx="192.5" cy="295.0" r="0.95" fill="#808080"/><circle cx="194.1" cy="292.2" r="0.95" fill="#808080"/><circle cx="193.5" cy="293.2" r="0.95" fill="#808080"/><circle cx="191.8" cy="293.3" r="0.95" fill="#808080"/><circle cx="194.5" cy="294.1" r="0.95" fill="#808080"/><circle cx="194.1" cy="292.8" r="0.95" fill="#808080"/><circle cx="193.2" cy="294.2" r="0.95" fill="#808080"/><circle cx="198.0" cy="293.6" r="0.95" fill="#808080"/><circle cx="193.2" cy="294.4" r="0.95" fill="#808080"/><circle cx="194.3" cy="292.6" r="0.95" fill="#808080"/><circle cx="192.6" cy="294.3" r="0.95" fill="#808080"/><circle cx="197.1" cy="293.9" r="0.95" fill="#808080"/><circle cx="194.8" cy="293.7" r="0.95" fill="#808080"/><circle cx="195.6" cy="299.2" r="0.95" fill="#808080"/><circle cx="196.3" cy="297.9" r="0.95" fill="#808080"/><circle cx="198.7" cy="298.6" r="0.95" fill="#808080"/><circle cx="196.9" cy="296.6" r="0.95" fill="#808080"/><circle cx="197.3" cy="296.0" r="0.95" fill="#808080"/><circle cx="198.8" cy="296.8" r="0.95" fill="#808080"/><circle cx="198.9" cy="296.5" r="0.95" fill="#808080"/><circle cx="196.4" cy="296.5" r="0.95" fill="#808080"/><circle cx="196.7" cy="296.2" r="0.95" fill="#808080"/><circle cx="194.4" cy="298.2" r="0.95" fill="#808080"/><circle cx="195.9" cy="296.4" r="0.95" fill="#808080"/><circle cx="196.0" cy="297.3" r="0.95" fill="#808080"/><circle cx="196.7" cy="297.9" r="0.95" fill="#808080"/><circle cx="197.9" cy="296.9" r="0.95" fill="#808080"/><circle cx="199.3" cy="298.7" r="0.95" fill="#808080"/><circle cx="194.7" cy="298.6" r="0.95" fill="#808080"/><circle cx="199.2" cy="298.5" r="0.95" fill="#808080"/><circle cx="195.1" cy="298.7" r="0.95" fill="#808080"/><circle cx="197.8" cy="295.6" r="0.95" fill="#808080"/><circle cx="194.5" cy="299.1" r="0.95" fill="#808080"/><circle cx="197.9" cy="296.5" r="0.95" fill="#808080"/><circle cx="194.9" cy="296.0" r="0.95" fill="#808080"/><circle cx="195.9" cy="306.5" r="0.95" fill="#808080"/><circle cx="196.7" cy="303.1" r="0.95" fill="#808080"/><circle cx="200.4" cy="306.6" r="0.95" fill="#808080"/><circle cx="195.5" cy="307.1" r="0.95" fill="#808080"/><circle cx="198.4" cy="306.5" r="0.95" fill="#808080"/><circle cx="198.8" cy="307.1" r="0.95" fill="#808080"/><circle cx="199.6" cy="306.8" r="0.95" fill="#808080"/><circle cx="195.7" cy="306.0" r="0.95" fill="#808080"/><circle cx="197.9" cy="306.3" r="0.95" fill="#808080"/><circle cx="197.3" cy="307.1" r="0.95" fill="#808080"/><circle cx="198.1" cy="303.7" r="0.95" fill="#808080"/><circle cx="195.9" cy="303.1" r="0.95" fill="#808080"/><circle cx="197.7" cy="302.6" r="0.95" fill="#808080"/><circle cx="197.5" cy="303.1" r="0.95" fill="#808080"/><circle cx="197.6" cy="305.0" r="0.95" fill="#808080"/><circle cx="198.0" cy="307.0" r="0.95" fill="#808080"/><circle cx="194.4" cy="306.8" r="0.95" fill="#808080"/><circle cx="197.5" cy="305.3" r="0.95" fill="#808080"/><circle cx="198.8" cy="306.8" r="0.95" fill="#808080"/><circle cx="196.9" cy="304.6" r="0.95" fill="#808080"/><circle cx="200.7" cy="302.7" r="0.95" fill="#808080"/><circle cx="198.6" cy="305.7" r="0.95" fill="#808080"/><circle cx="194.6" cy="305.6" r="0.95" fill="#808080"/><circle cx="198.9" cy="307.3" r="0.95" fill="#808080"/><circle cx="196.6" cy="307.6" r="0.95" fill="#808080"/><circle cx="197.8" cy="304.9" r="0.95" fill="#808080"/><circle cx="200.3" cy="302.5" r="0.95" fill="#808080"/><circle cx="199.1" cy="305.7" r="0.95" fill="#808080"/><circle cx="196.6" cy="307.0" r="0.95" fill="#808080"/><circle cx="196.8" cy="304.9" r="0.95" fill="#808080"/><circle cx="197.9" cy="306.5" r="0.95" fill="#808080"/><circle cx="195.8" cy="304.7" r="0.95" fill="#808080"/><circle cx="197.2" cy="305.3" r="0.95" fill="#808080"/><circle cx="199.9" cy="303.9" r="0.95" fill="#808080"/><circle cx="199.9" cy="304.5" r="0.95" fill="#808080"/><circle cx="197.7" cy="303.8" r="0.95" fill="#808080"/><circle cx="197.7" cy="307.6" r="0.95" fill="#808080"/><circle cx="198.7" cy="306.6" r="0.95" fill="#808080"/><circle cx="196.6" cy="304.0" r="0.95" fill="#808080"/><circle cx="196.4" cy="305.5" r="0.95" fill="#808080"/><circle cx="196.7" cy="315.2" r="0.65" fill="#808080"/><circle cx="183.3" cy="315.0" r="0.65" fill="#808080"/><circle cx="202.4" cy="314.4" r="0.65" fill="#808080"/><circle cx="183.5" cy="313.7" r="0.65" fill="#808080"/><circle cx="182.5" cy="313.4" r="0.65" fill="#808080"/><circle cx="203.2" cy="314.6" r="0.65" fill="#808080"/><circle cx="197.3" cy="315.2" r="0.65" fill="#808080"/><circle cx="203.0" cy="314.6" r="0.65" fill="#808080"/><circle cx="196.3" cy="314.7" r="0.65" fill="#808080"/><circle cx="198.1" cy="314.6" r="0.65" fill="#808080"/><circle cx="197.8" cy="313.4" r="0.65" fill="#808080"/><circle cx="197.5" cy="314.2" r="0.65" fill="#808080"/><circle cx="199.6" cy="313.1" r="0.65" fill="#808080"/><circle cx="186.5" cy="312.9" r="0.65" fill="#808080"/><circle cx="199.9" cy="315.5" r="0.65" fill="#808080"/><circle cx="197.2" cy="313.9" r="0.65" fill="#808080"/><circle cx="201.0" cy="315.2" r="0.65" fill="#808080"/><circle cx="195.1" cy="313.6" r="0.65" fill="#808080"/><circle cx="189.2" cy="314.1" r="0.65" fill="#808080"/><circle cx="189.6" cy="314.1" r="0.65" fill="#808080"/><circle cx="196.9" cy="315.6" r="0.65" fill="#808080"/><circle cx="183.6" cy="314.5" r="0.65" fill="#808080"/><circle cx="183.3" cy="313.2" r="0.65" fill="#808080"/><circle cx="200.7" cy="314.5" r="0.65" fill="#808080"/><circle cx="203.2" cy="314.1" r="0.65" fill="#808080"/><circle cx="182.7" cy="314.0" r="0.65" fill="#808080"/><circle cx="195.8" cy="315.6" r="0.65" fill="#808080"/><circle cx="204.6" cy="314.2" r="0.65" fill="#808080"/><circle cx="191.7" cy="313.1" r="0.65" fill="#808080"/><circle cx="197.0" cy="313.4" r="0.65" fill="#808080"/><circle cx="185.8" cy="312.8" r="0.65" fill="#808080"/><circle cx="182.5" cy="314.9" r="0.65" fill="#808080"/><circle cx="185.1" cy="315.7" r="0.65" fill="#808080"/><circle cx="184.4" cy="315.4" r="0.65" fill="#808080"/><circle cx="185.3" cy="312.9" r="0.65" fill="#808080"/><circle cx="198.7" cy="313.5" r="0.65" fill="#808080"/><circle cx="199.0" cy="313.4" r="0.65" fill="#808080"/><circle cx="183.5" cy="315.1" r="0.65" fill="#808080"/><circle cx="198.5" cy="315.4" r="0.65" fill="#808080"/><circle cx="198.9" cy="313.1" r="0.65" fill="#808080"/><circle cx="196.6" cy="314.9" r="0.65" fill="#808080"/><circle cx="192.8" cy="315.6" r="0.65" fill="#808080"/><circle cx="188.1" cy="315.7" r="0.65" fill="#808080"/><circle cx="198.6" cy="312.8" r="0.65" fill="#808080"/><circle cx="182.7" cy="314.8" r="0.65" fill="#808080"/><circle cx="200.9" cy="313.0" r="0.65" fill="#808080"/><circle cx="189.4" cy="315.0" r="0.65" fill="#808080"/><circle cx="186.2" cy="315.4" r="0.65" fill="#808080"/><circle cx="193.4" cy="313.0" r="0.65" fill="#808080"/><circle cx="190.7" cy="314.5" r="0.65" fill="#808080"/><circle cx="202.9" cy="312.0" r="0.65" fill="#808080"/><circle cx="198.3" cy="312.2" r="0.65" fill="#808080"/><circle cx="201.7" cy="312.0" r="0.65" fill="#808080"/><circle cx="205.9" cy="311.6" r="0.65" fill="#808080"/><circle cx="202.1" cy="312.2" r="0.65" fill="#808080"/><circle cx="210.8" cy="312.2" r="0.65" fill="#808080"/><circle cx="204.9" cy="311.3" r="0.65" fill="#808080"/><circle cx="197.0" cy="312.6" r="0.65" fill="#808080"/><circle cx="207.0" cy="312.3" r="0.65" fill="#808080"/><circle cx="201.2" cy="311.9" r="0.65" fill="#808080"/><circle cx="211.3" cy="312.3" r="0.65" fill="#808080"/><circle cx="205.4" cy="311.4" r="0.65" fill="#808080"/><circle cx="202.7" cy="312.4" r="0.65" fill="#808080"/><circle cx="201.9" cy="312.0" r="0.65" fill="#808080"/><circle cx="205.4" cy="312.4" r="0.65" fill="#808080"/><circle cx="208.7" cy="311.3" r="0.65" fill="#808080"/><circle cx="196.0" cy="311.3" r="0.65" fill="#808080"/><circle cx="202.6" cy="311.9" r="0.65" fill="#808080"/><circle cx="208.8" cy="312.4" r="0.65" fill="#808080"/><circle cx="196.7" cy="312.3" r="0.65" fill="#808080"/><circle cx="208.7" cy="312.4" r="0.65" fill="#808080"/><circle cx="205.0" cy="311.3" r="0.65" fill="#808080"/><circle cx="209.4" cy="312.3" r="0.65" fill="#808080"/><circle cx="206.7" cy="312.4" r="0.65" fill="#808080"/><circle cx="201.4" cy="311.0" r="0.65" fill="#808080"/><circle cx="204.7" cy="312.2" r="0.65" fill="#808080"/><circle cx="199.1" cy="312.2" r="0.65" fill="#808080"/><circle cx="210.6" cy="311.2" r="0.65" fill="#808080"/><circle cx="205.5" cy="312.0" r="0.65" fill="#808080"/><circle cx="203.3" cy="311.2" r="0.65" fill="#808080"/><circle cx="207.8" cy="324.4" r="0.95" fill="#808080"/><circle cx="213.5" cy="323.2" r="0.95" fill="#808080"/><circle cx="205.9" cy="324.6" r="0.95" fill="#808080"/><circle cx="213.3" cy="322.3" r="0.95" fill="#808080"/><circle cx="211.3" cy="325.0" r="0.95" fill="#808080"/><circle cx="214.6" cy="323.4" r="0.95" fill="#808080"/><circle cx="210.1" cy="323.7" r="0.95" fill="#808080"/><circle cx="207.0" cy="322.1" r="0.95" fill="#808080"/><circle cx="207.0" cy="324.2" r="0.95" fill="#808080"/><circle cx="208.9" cy="323.6" r="0.95" fill="#808080"/><circle cx="209.3" cy="323.4" r="0.95" fill="#808080"/><circle cx="206.6" cy="321.5" r="0.95" fill="#808080"/><circle cx="215.8" cy="322.8" r="0.95" fill="#808080"/><circle cx="206.1" cy="323.9" r="0.95" fill="#808080"/><circle cx="213.5" cy="321.9" r="0.95" fill="#808080"/><circle cx="211.4" cy="322.7" r="0.95" fill="#808080"/><circle cx="210.6" cy="321.4" r="0.95" fill="#808080"/><circle cx="205.4" cy="325.4" r="0.95" fill="#808080"/><circle cx="214.4" cy="323.3" r="0.95" fill="#808080"/><circle cx="211.1" cy="322.4" r="0.95" fill="#808080"/><circle cx="213.4" cy="323.0" r="0.95" fill="#808080"/><circle cx="215.2" cy="324.4" r="0.95" fill="#808080"/><circle cx="213.8" cy="325.3" r="0.95" fill="#808080"/><circle cx="207.7" cy="321.5" r="0.95" fill="#808080"/><circle cx="207.2" cy="322.0" r="0.95" fill="#808080"/><circle cx="205.9" cy="321.5" r="0.95" fill="#808080"/><circle cx="211.0" cy="324.9" r="0.95" fill="#808080"/><circle cx="209.9" cy="325.2" r="0.95" fill="#808080"/><circle cx="214.8" cy="321.6" r="0.95" fill="#808080"/><circle cx="211.5" cy="322.9" r="0.95" fill="#808080"/><circle cx="206.3" cy="325.2" r="0.95" fill="#808080"/><circle cx="207.8" cy="323.6" r="0.95" fill="#808080"/><circle cx="211.9" cy="325.2" r="0.95" fill="#808080"/><circle cx="212.2" cy="322.9" r="0.95" fill="#808080"/><circle cx="209.8" cy="322.0" r="0.95" fill="#808080"/><circle cx="215.4" cy="325.4" r="0.95" fill="#808080"/><circle cx="207.4" cy="321.5" r="0.95" fill="#808080"/><circle cx="207.8" cy="322.7" r="0.95" fill="#808080"/><circle cx="214.7" cy="325.0" r="0.95" fill="#808080"/><circle cx="214.0" cy="321.5" r="0.95" fill="#808080"/><circle cx="213.5" cy="324.2" r="0.95" fill="#808080"/><circle cx="212.0" cy="325.3" r="0.95" fill="#808080"/><circle cx="205.6" cy="321.9" r="0.95" fill="#808080"/><circle cx="213.2" cy="325.2" r="0.95" fill="#808080"/><circle cx="212.3" cy="322.5" r="0.95" fill="#808080"/><circle cx="226.4" cy="324.4" r="0.75" fill="#808080"/><circle cx="233.0" cy="324.4" r="0.75" fill="#808080"/><circle cx="209.7" cy="332.5" r="0.95" fill="#808080"/><circle cx="205.8" cy="329.9" r="0.95" fill="#808080"/><circle cx="207.1" cy="328.7" r="0.95" fill="#808080"/><circle cx="208.9" cy="329.0" r="0.95" fill="#808080"/><circle cx="206.9" cy="328.9" r="0.95" fill="#808080"/><circle cx="210.4" cy="328.1" r="0.95" fill="#808080"/><circle cx="210.7" cy="329.2" r="0.95" fill="#808080"/><circle cx="205.3" cy="333.6" r="0.95" fill="#808080"/><circle cx="206.8" cy="333.6" r="0.95" fill="#808080"/><circle cx="211.9" cy="333.3" r="0.95" fill="#808080"/><circle cx="206.1" cy="330.7" r="0.95" fill="#808080"/><circle cx="205.8" cy="333.6" r="0.95" fill="#808080"/><circle cx="211.7" cy="331.8" r="0.95" fill="#808080"/><circle cx="208.6" cy="330.0" r="0.95" fill="#808080"/><circle cx="211.6" cy="330.9" r="0.95" fill="#808080"/><circle cx="210.0" cy="328.9" r="0.95" fill="#808080"/><circle cx="206.8" cy="328.3" r="0.95" fill="#808080"/><circle cx="210.7" cy="331.3" r="0.95" fill="#808080"/><circle cx="206.2" cy="333.2" r="0.95" fill="#808080"/><circle cx="207.1" cy="330.5" r="0.95" fill="#808080"/><circle cx="206.2" cy="329.6" r="0.95" fill="#808080"/><circle cx="211.7" cy="330.0" r="0.95" fill="#808080"/><circle cx="206.3" cy="330.9" r="0.95" fill="#808080"/><circle cx="207.5" cy="333.4" r="0.95" fill="#808080"/><circle cx="205.9" cy="333.9" r="0.95" fill="#808080"/><circle cx="205.5" cy="333.4" r="0.95" fill="#808080"/><circle cx="210.3" cy="329.3" r="0.95" fill="#808080"/><circle cx="208.8" cy="329.7" r="0.95" fill="#808080"/><circle cx="207.1" cy="329.2" r="0.95" fill="#808080"/><circle cx="207.9" cy="333.9" r="0.95" fill="#808080"/><circle cx="213.0" cy="333.6" r="0.95" fill="#808080"/><circle cx="205.8" cy="329.7" r="0.95" fill="#808080"/><circle cx="212.2" cy="328.3" r="0.95" fill="#808080"/><circle cx="210.8" cy="329.8" r="0.95" fill="#808080"/><circle cx="212.8" cy="328.1" r="0.95" fill="#808080"/><circle cx="211.5" cy="330.0" r="0.95" fill="#808080"/><circle cx="206.1" cy="328.0" r="0.95" fill="#808080"/><circle cx="211.7" cy="331.2" r="0.95" fill="#808080"/><circle cx="206.5" cy="330.6" r="0.95" fill="#808080"/><circle cx="212.3" cy="329.3" r="0.95" fill="#808080"/><circle cx="209.6" cy="328.8" r="0.95" fill="#808080"/><circle cx="206.4" cy="332.6" r="0.95" fill="#808080"/><circle cx="210.7" cy="329.2" r="0.95" fill="#808080"/><circle cx="205.6" cy="328.5" r="0.95" fill="#808080"/><circle cx="209.9" cy="331.0" r="0.95" fill="#808080"/><circle cx="207.2" cy="329.2" r="0.95" fill="#808080"/><circle cx="209.9" cy="332.2" r="0.95" fill="#808080"/><circle cx="211.5" cy="331.5" r="0.95" fill="#808080"/><circle cx="206.6" cy="328.4" r="0.95" fill="#808080"/><circle cx="210.9" cy="330.4" r="0.95" fill="#808080"/><circle cx="215.3" cy="336.4" r="0.95" fill="#808080"/><circle cx="216.8" cy="338.3" r="0.95" fill="#808080"/><circle cx="217.3" cy="341.9" r="0.95" fill="#808080"/><circle cx="211.6" cy="336.1" r="0.95" fill="#808080"/><circle cx="218.4" cy="339.2" r="0.95" fill="#808080"/><circle cx="217.7" cy="337.8" r="0.95" fill="#808080"/><circle cx="206.7" cy="341.7" r="0.95" fill="#808080"/><circle cx="209.6" cy="337.1" r="0.95" fill="#808080"/><circle cx="209.7" cy="340.0" r="0.95" fill="#808080"/><circle cx="203.8" cy="339.5" r="0.95" fill="#808080"/><circle cx="210.9" cy="339.5" r="0.95" fill="#808080"/><circle cx="205.6" cy="340.9" r="0.95" fill="#808080"/><circle cx="216.8" cy="341.9" r="0.95" fill="#808080"/><circle cx="208.9" cy="340.8" r="0.95" fill="#808080"/><circle cx="209.8" cy="341.1" r="0.95" fill="#808080"/><circle cx="204.7" cy="341.9" r="0.95" fill="#808080"/><circle cx="219.1" cy="339.4" r="0.95" fill="#808080"/><circle cx="212.0" cy="339.6" r="0.95" fill="#808080"/><circle cx="212.4" cy="336.1" r="0.95" fill="#808080"/><circle cx="219.3" cy="337.5" r="0.95" fill="#808080"/><circle cx="206.6" cy="336.7" r="0.95" fill="#808080"/><circle cx="207.7" cy="341.6" r="0.95" fill="#808080"/><circle cx="204.2" cy="336.7" r="0.95" fill="#808080"/><circle cx="215.0" cy="337.3" r="0.95" fill="#808080"/><circle cx="204.0" cy="340.1" r="0.95" fill="#808080"/><circle cx="213.0" cy="339.6" r="0.95" fill="#808080"/><circle cx="215.0" cy="336.7" r="0.95" fill="#808080"/><circle cx="217.7" cy="340.9" r="0.95" fill="#808080"/><circle cx="204.4" cy="336.8" r="0.95" fill="#808080"/><circle cx="211.6" cy="339.4" r="0.95" fill="#808080"/><circle cx="208.2" cy="336.8" r="0.95" fill="#808080"/><circle cx="210.2" cy="336.9" r="0.95" fill="#808080"/><circle cx="213.2" cy="341.9" r="0.95" fill="#808080"/><circle cx="206.1" cy="339.9" r="0.95" fill="#808080"/><circle cx="215.7" cy="337.1" r="0.95" fill="#808080"/><circle cx="217.0" cy="342.4" r="0.95" fill="#808080"/><circle cx="210.0" cy="338.9" r="0.95" fill="#808080"/><circle cx="217.2" cy="339.6" r="0.95" fill="#808080"/><circle cx="210.1" cy="342.4" r="0.95" fill="#808080"/><circle cx="216.2" cy="338.3" r="0.95" fill="#808080"/><circle cx="207.6" cy="338.3" r="0.95" fill="#808080"/><circle cx="210.7" cy="342.7" r="0.95" fill="#808080"/><circle cx="216.7" cy="342.2" r="0.95" fill="#808080"/><circle cx="216.8" cy="341.8" r="0.95" fill="#808080"/><circle cx="204.6" cy="339.5" r="0.95" fill="#808080"/><circle cx="219.1" cy="342.4" r="0.95" fill="#808080"/><circle cx="207.7" cy="338.9" r="0.95" fill="#808080"/><circle cx="213.9" cy="338.5" r="0.95" fill="#808080"/><circle cx="212.2" cy="336.5" r="0.95" fill="#808080"/><circle cx="210.7" cy="339.4" r="0.95" fill="#808080"/><circle cx="204.0" cy="336.9" r="0.95" fill="#808080"/><circle cx="219.3" cy="341.3" r="0.95" fill="#808080"/><circle cx="218.8" cy="340.3" r="0.95" fill="#808080"/><circle cx="216.7" cy="342.0" r="0.95" fill="#808080"/><circle cx="217.9" cy="336.2" r="0.95" fill="#808080"/><circle cx="214.0" cy="337.8" r="0.95" fill="#808080"/><circle cx="214.6" cy="337.9" r="0.95" fill="#808080"/><circle cx="212.4" cy="342.3" r="0.95" fill="#808080"/><circle cx="213.7" cy="337.7" r="0.95" fill="#808080"/><circle cx="212.1" cy="338.9" r="0.95" fill="#808080"/><circle cx="219.0" cy="338.0" r="0.95" fill="#808080"/><circle cx="208.6" cy="340.4" r="0.95" fill="#808080"/><circle cx="205.6" cy="340.0" r="0.95" fill="#808080"/><circle cx="219.1" cy="339.5" r="0.95" fill="#808080"/><circle cx="208.0" cy="339.2" r="0.95" fill="#808080"/><circle cx="212.3" cy="337.0" r="0.95" fill="#808080"/><circle cx="205.7" cy="336.9" r="0.95" fill="#808080"/><circle cx="208.4" cy="338.8" r="0.95" fill="#808080"/><circle cx="208.3" cy="337.7" r="0.95" fill="#808080"/><circle cx="205.1" cy="339.7" r="0.95" fill="#808080"/><circle cx="212.3" cy="348.9" r="0.95" fill="#808080"/><circle cx="208.6" cy="349.1" r="0.95" fill="#808080"/><circle cx="203.7" cy="349.5" r="0.95" fill="#808080"/><circle cx="207.2" cy="348.5" r="0.95" fill="#808080"/><circle cx="209.2" cy="348.1" r="0.95" fill="#808080"/><circle cx="205.2" cy="346.7" r="0.95" fill="#808080"/><circle cx="204.0" cy="348.3" r="0.95" fill="#808080"/><circle cx="206.1" cy="348.8" r="0.95" fill="#808080"/><circle cx="201.2" cy="347.4" r="0.95" fill="#808080"/><circle cx="212.5" cy="346.7" r="0.95" fill="#808080"/><circle cx="208.5" cy="348.2" r="0.95" fill="#808080"/><circle cx="204.8" cy="351.1" r="0.95" fill="#808080"/><circle cx="205.0" cy="349.9" r="0.95" fill="#808080"/><circle cx="203.1" cy="345.7" r="0.95" fill="#808080"/><circle cx="212.7" cy="347.9" r="0.95" fill="#808080"/><circle cx="201.8" cy="347.6" r="0.95" fill="#808080"/><circle cx="206.9" cy="349.6" r="0.95" fill="#808080"/><circle cx="202.5" cy="346.6" r="0.95" fill="#808080"/><circle cx="213.9" cy="349.7" r="0.95" fill="#808080"/><circle cx="203.1" cy="347.3" r="0.95" fill="#808080"/><circle cx="205.7" cy="349.3" r="0.95" fill="#808080"/><circle cx="209.3" cy="350.3" r="0.95" fill="#808080"/><circle cx="212.0" cy="348.4" r="0.95" fill="#808080"/><circle cx="210.9" cy="349.7" r="0.95" fill="#808080"/><circle cx="211.2" cy="348.1" r="0.95" fill="#808080"/><circle cx="211.5" cy="349.5" r="0.95" fill="#808080"/><circle cx="213.3" cy="346.1" r="0.95" fill="#808080"/><circle cx="212.7" cy="345.3" r="0.95" fill="#808080"/><circle cx="211.3" cy="348.8" r="0.95" fill="#808080"/><circle cx="207.7" cy="351.0" r="0.95" fill="#808080"/><circle cx="208.7" cy="347.8" r="0.95" fill="#808080"/><circle cx="211.5" cy="350.4" r="0.95" fill="#808080"/><circle cx="209.1" cy="347.5" r="0.95" fill="#808080"/><circle cx="207.1" cy="348.0" r="0.95" fill="#808080"/><circle cx="210.7" cy="347.0" r="0.95" fill="#808080"/><circle cx="206.2" cy="348.6" r="0.95" fill="#808080"/><circle cx="206.2" cy="347.2" r="0.95" fill="#808080"/><circle cx="211.5" cy="350.3" r="0.95" fill="#808080"/><circle cx="207.7" cy="347.9" r="0.95" fill="#808080"/><circle cx="203.5" cy="347.1" r="0.95" fill="#808080"/><circle cx="202.9" cy="348.7" r="0.95" fill="#808080"/><circle cx="208.8" cy="345.8" r="0.95" fill="#808080"/><circle cx="213.3" cy="347.2" r="0.95" fill="#808080"/><circle cx="212.3" cy="350.2" r="0.95" fill="#808080"/><circle cx="213.8" cy="346.5" r="0.95" fill="#808080"/><circle cx="206.7" cy="350.7" r="0.95" fill="#808080"/><circle cx="201.1" cy="345.6" r="0.95" fill="#808080"/><circle cx="208.6" cy="348.2" r="0.95" fill="#808080"/><circle cx="213.3" cy="349.9" r="0.95" fill="#808080"/><circle cx="208.2" cy="351.2" r="0.95" fill="#808080"/><circle cx="207.9" cy="348.4" r="0.95" fill="#808080"/><circle cx="210.2" cy="347.6" r="0.95" fill="#808080"/><circle cx="205.8" cy="348.8" r="0.95" fill="#808080"/><circle cx="205.7" cy="350.9" r="0.95" fill="#808080"/><circle cx="210.1" cy="348.4" r="0.95" fill="#808080"/><circle cx="202.3" cy="347.5" r="0.95" fill="#808080"/><circle cx="206.4" cy="348.6" r="0.95" fill="#808080"/><circle cx="208.7" cy="350.5" r="0.95" fill="#808080"/><circle cx="213.9" cy="348.2" r="0.95" fill="#808080"/><circle cx="206.9" cy="349.0" r="0.95" fill="#808080"/><circle cx="207.6" cy="356.3" r="0.85" fill="#808080"/><circle cx="198.9" cy="358.4" r="0.85" fill="#808080"/><circle cx="192.2" cy="356.2" r="0.85" fill="#808080"/><circle cx="207.3" cy="358.4" r="0.85" fill="#808080"/><circle cx="198.6" cy="355.3" r="0.85" fill="#808080"/><circle cx="205.7" cy="357.8" r="0.85" fill="#808080"/><circle cx="204.3" cy="359.2" r="0.85" fill="#808080"/><circle cx="205.6" cy="356.7" r="0.85" fill="#808080"/><circle cx="191.9" cy="356.1" r="0.85" fill="#808080"/><circle cx="198.6" cy="357.0" r="0.85" fill="#808080"/><circle cx="192.5" cy="355.6" r="0.85" fill="#808080"/><circle cx="200.8" cy="357.5" r="0.85" fill="#808080"/><circle cx="195.6" cy="359.2" r="0.85" fill="#808080"/><circle cx="200.9" cy="355.0" r="0.85" fill="#808080"/><circle cx="196.7" cy="358.3" r="0.85" fill="#808080"/><circle cx="194.7" cy="357.8" r="0.85" fill="#808080"/><circle cx="189.1" cy="356.1" r="0.85" fill="#808080"/><circle cx="204.7" cy="357.4" r="0.85" fill="#808080"/><circle cx="201.5" cy="355.7" r="0.85" fill="#808080"/><circle cx="198.3" cy="357.2" r="0.85" fill="#808080"/><circle cx="194.0" cy="357.6" r="0.85" fill="#808080"/><circle cx="198.9" cy="359.2" r="0.85" fill="#808080"/><circle cx="199.7" cy="356.6" r="0.85" fill="#808080"/><circle cx="191.3" cy="355.5" r="0.85" fill="#808080"/><circle cx="203.2" cy="355.3" r="0.85" fill="#808080"/><circle cx="190.9" cy="355.6" r="0.85" fill="#808080"/><circle cx="198.8" cy="358.4" r="0.85" fill="#808080"/><circle cx="200.5" cy="358.3" r="0.85" fill="#808080"/><circle cx="190.2" cy="354.9" r="0.85" fill="#808080"/><circle cx="203.4" cy="356.2" r="0.85" fill="#808080"/><circle cx="202.4" cy="356.4" r="0.85" fill="#808080"/><circle cx="192.2" cy="356.0" r="0.85" fill="#808080"/><circle cx="190.9" cy="358.8" r="0.85" fill="#808080"/><circle cx="199.9" cy="356.3" r="0.85" fill="#808080"/><circle cx="197.4" cy="356.5" r="0.85" fill="#808080"/><circle cx="190.0" cy="358.7" r="0.85" fill="#808080"/><circle cx="199.9" cy="359.0" r="0.85" fill="#808080"/><circle cx="197.2" cy="357.5" r="0.85" fill="#808080"/><circle cx="193.7" cy="355.0" r="0.85" fill="#808080"/><circle cx="206.4" cy="358.6" r="0.85" fill="#808080"/><circle cx="194.9" cy="358.8" r="0.85" fill="#808080"/><circle cx="204.3" cy="356.1" r="0.85" fill="#808080"/><circle cx="200.3" cy="359.0" r="0.85" fill="#808080"/><circle cx="198.3" cy="359.0" r="0.85" fill="#808080"/><circle cx="193.5" cy="356.5" r="0.85" fill="#808080"/><circle cx="202.4" cy="355.8" r="0.85" fill="#808080"/><circle cx="194.8" cy="358.7" r="0.85" fill="#808080"/><circle cx="198.1" cy="358.3" r="0.85" fill="#808080"/><circle cx="193.6" cy="355.6" r="0.85" fill="#808080"/><circle cx="195.7" cy="355.6" r="0.85" fill="#808080"/><circle cx="207.2" cy="356.1" r="0.85" fill="#808080"/><circle cx="199.5" cy="355.3" r="0.85" fill="#808080"/><circle cx="199.0" cy="356.5" r="0.85" fill="#808080"/><circle cx="196.5" cy="355.1" r="0.85" fill="#808080"/><circle cx="191.3" cy="358.4" r="0.85" fill="#808080"/><circle cx="195.6" cy="355.9" r="0.85" fill="#808080"/><circle cx="192.6" cy="356.0" r="0.85" fill="#808080"/><circle cx="193.4" cy="355.0" r="0.85" fill="#808080"/><circle cx="201.4" cy="356.3" r="0.85" fill="#808080"/><circle cx="191.9" cy="357.9" r="0.85" fill="#808080"/><circle cx="194.0" cy="364.7" r="0.65" fill="#808080"/><circle cx="212.8" cy="364.0" r="0.65" fill="#808080"/><circle cx="202.9" cy="367.1" r="0.65" fill="#808080"/><circle cx="212.1" cy="364.2" r="0.65" fill="#808080"/><circle cx="200.6" cy="366.6" r="0.65" fill="#808080"/><circle cx="201.2" cy="367.6" r="0.65" fill="#808080"/><circle cx="197.0" cy="367.6" r="0.65" fill="#808080"/><circle cx="204.5" cy="364.5" r="0.65" fill="#808080"/><circle cx="203.2" cy="364.1" r="0.65" fill="#808080"/><circle cx="209.6" cy="364.6" r="0.65" fill="#808080"/><circle cx="214.5" cy="366.0" r="0.65" fill="#808080"/><circle cx="201.0" cy="364.6" r="0.65" fill="#808080"/><circle cx="207.1" cy="364.4" r="0.65" fill="#808080"/><circle cx="213.8" cy="364.0" r="0.65" fill="#808080"/><circle cx="204.7" cy="365.8" r="0.65" fill="#808080"/><circle cx="198.5" cy="366.8" r="0.65" fill="#808080"/><circle cx="201.4" cy="366.3" r="0.65" fill="#808080"/><circle cx="206.1" cy="364.8" r="0.65" fill="#808080"/><circle cx="201.6" cy="363.9" r="0.65" fill="#808080"/><circle cx="196.2" cy="367.2" r="0.65" fill="#808080"/><circle cx="199.8" cy="366.3" r="0.65" fill="#808080"/><circle cx="194.5" cy="365.9" r="0.65" fill="#808080"/><circle cx="200.8" cy="365.7" r="0.65" fill="#808080"/><circle cx="199.2" cy="363.8" r="0.65" fill="#808080"/><circle cx="199.6" cy="364.5" r="0.65" fill="#808080"/><circle cx="194.9" cy="366.6" r="0.65" fill="#808080"/><circle cx="198.8" cy="365.2" r="0.65" fill="#808080"/><circle cx="214.7" cy="366.8" r="0.65" fill="#808080"/><circle cx="214.0" cy="367.2" r="0.65" fill="#808080"/><circle cx="195.0" cy="364.7" r="0.65" fill="#808080"/><circle cx="192.4" cy="366.4" r="0.65" fill="#808080"/><circle cx="208.5" cy="365.0" r="0.65" fill="#808080"/><circle cx="202.1" cy="366.3" r="0.65" fill="#808080"/><circle cx="209.4" cy="364.6" r="0.65" fill="#808080"/><circle cx="213.1" cy="365.0" r="0.65" fill="#808080"/><circle cx="207.6" cy="364.3" r="0.65" fill="#808080"/><circle cx="194.6" cy="367.4" r="0.65" fill="#808080"/><circle cx="210.3" cy="366.6" r="0.65" fill="#808080"/><circle cx="192.7" cy="363.7" r="0.65" fill="#808080"/><circle cx="195.8" cy="364.4" r="0.65" fill="#808080"/><circle cx="199.4" cy="365.1" r="0.65" fill="#808080"/><circle cx="192.7" cy="364.8" r="0.65" fill="#808080"/><circle cx="207.8" cy="364.3" r="0.65" fill="#808080"/><circle cx="212.9" cy="366.0" r="0.65" fill="#808080"/><circle cx="209.8" cy="364.6" r="0.65" fill="#808080"/><circle cx="202.7" cy="366.4" r="0.65" fill="#808080"/><circle cx="200.5" cy="363.5" r="0.65" fill="#808080"/><circle cx="212.8" cy="366.8" r="0.65" fill="#808080"/><circle cx="198.9" cy="363.7" r="0.65" fill="#808080"/><circle cx="213.3" cy="366.1" r="0.65" fill="#808080"/><circle cx="192.9" cy="364.6" r="0.65" fill="#808080"/><circle cx="194.5" cy="366.9" r="0.65" fill="#808080"/><circle cx="197.0" cy="367.4" r="0.65" fill="#808080"/><circle cx="210.7" cy="363.9" r="0.65" fill="#808080"/><circle cx="209.3" cy="365.2" r="0.65" fill="#808080"/><circle cx="210.6" cy="367.1" r="0.65" fill="#808080"/><circle cx="198.8" cy="363.9" r="0.65" fill="#808080"/><circle cx="215.6" cy="365.3" r="0.65" fill="#808080"/><circle cx="215.2" cy="366.5" r="0.65" fill="#808080"/><circle cx="210.4" cy="367.1" r="0.65" fill="#808080"/><circle cx="207.6" cy="365.4" r="0.65" fill="#808080"/><circle cx="193.1" cy="366.5" r="0.65" fill="#808080"/><circle cx="202.5" cy="365.7" r="0.65" fill="#808080"/><circle cx="215.2" cy="364.0" r="0.65" fill="#808080"/><circle cx="211.0" cy="363.7" r="0.65" fill="#808080"/><circle cx="221.0" cy="367.0" r="0.7" fill="#808080"/><circle cx="236.7" cy="375.1" r="0.7" fill="#808080"/><circle cx="231.9" cy="374.8" r="0.7" fill="#808080"/><circle cx="239.7" cy="374.9" r="0.7" fill="#808080"/><circle cx="235.0" cy="374.3" r="0.7" fill="#808080"/><circle cx="229.7" cy="374.5" r="0.7" fill="#808080"/><circle cx="233.5" cy="374.3" r="0.7" fill="#808080"/><circle cx="232.4" cy="374.2" r="0.7" fill="#808080"/><circle cx="236.8" cy="374.9" r="0.7" fill="#808080"/><circle cx="231.6" cy="374.3" r="0.7" fill="#808080"/><circle cx="234.7" cy="374.6" r="0.7" fill="#808080"/><circle cx="239.3" cy="374.5" r="0.7" fill="#808080"/><circle cx="232.3" cy="375.2" r="0.7" fill="#808080"/><circle cx="230.6" cy="374.8" r="0.7" fill="#808080"/><circle cx="232.7" cy="375.1" r="0.7" fill="#808080"/><circle cx="235.0" cy="375.1" r="0.7" fill="#808080"/><circle cx="230.9" cy="374.9" r="0.7" fill="#808080"/><circle cx="235.6" cy="374.6" r="0.7" fill="#808080"/><circle cx="237.4" cy="375.2" r="0.7" fill="#808080"/><circle cx="230.3" cy="374.4" r="0.7" fill="#808080"/><circle cx="233.0" cy="374.3" r="0.7" fill="#808080"/><circle cx="229.7" cy="374.4" r="0.7" fill="#808080"/><circle cx="231.2" cy="375.0" r="0.7" fill="#808080"/><circle cx="245.4" cy="372.8" r="0.75" fill="#808080"/><circle cx="243.4" cy="373.4" r="0.75" fill="#808080"/><circle cx="244.0" cy="372.9" r="0.75" fill="#808080"/><circle cx="239.2" cy="372.6" r="0.75" fill="#808080"/><circle cx="254.4" cy="374.0" r="0.75" fill="#808080"/><circle cx="239.4" cy="373.9" r="0.75" fill="#808080"/><circle cx="254.2" cy="373.6" r="0.75" fill="#808080"/><circle cx="239.8" cy="373.5" r="0.75" fill="#808080"/><circle cx="245.2" cy="372.9" r="0.75" fill="#808080"/><circle cx="247.0" cy="372.6" r="0.75" fill="#808080"/><circle cx="253.2" cy="373.8" r="0.75" fill="#808080"/><circle cx="248.4" cy="374.3" r="0.75" fill="#808080"/><circle cx="248.8" cy="373.1" r="0.75" fill="#808080"/><circle cx="242.1" cy="372.8" r="0.75" fill="#808080"/><circle cx="238.5" cy="374.0" r="0.75" fill="#808080"/><circle cx="251.9" cy="373.1" r="0.75" fill="#808080"/><circle cx="241.1" cy="373.7" r="0.75" fill="#808080"/><circle cx="252.0" cy="374.3" r="0.75" fill="#808080"/><circle cx="240.8" cy="374.0" r="0.75" fill="#808080"/><circle cx="251.7" cy="373.9" r="0.75" fill="#808080"/><circle cx="243.4" cy="372.9" r="0.75" fill="#808080"/><circle cx="251.6" cy="373.2" r="0.75" fill="#808080"/><circle cx="244.1" cy="373.6" r="0.75" fill="#808080"/><circle cx="244.1" cy="374.1" r="0.75" fill="#808080"/><circle cx="241.9" cy="372.7" r="0.75" fill="#808080"/><circle cx="247.4" cy="373.7" r="0.75" fill="#808080"/><circle cx="251.5" cy="373.9" r="0.75" fill="#808080"/><circle cx="252.9" cy="374.3" r="0.75" fill="#808080"/><circle cx="246.2" cy="373.5" r="0.75" fill="#808080"/><circle cx="240.6" cy="373.1" r="0.75" fill="#808080"/><circle cx="247.6" cy="372.7" r="0.75" fill="#808080"/><circle cx="249.4" cy="372.9" r="0.75" fill="#808080"/><circle cx="245.3" cy="374.3" r="0.75" fill="#808080"/><circle cx="239.5" cy="372.7" r="0.75" fill="#808080"/><circle cx="245.3" cy="372.9" r="0.75" fill="#808080"/><circle cx="249.9" cy="372.6" r="0.75" fill="#808080"/><circle cx="257.0" cy="373.0" r="0.75" fill="#808080"/><circle cx="261.0" cy="373.0" r="0.75" fill="#808080"/><circle cx="266.0" cy="373.0" r="0.75" fill="#808080"/><circle cx="270.0" cy="373.0" r="0.75" fill="#808080"/><circle cx="274.0" cy="373.0" r="0.75" fill="#808080"/><circle cx="278.0" cy="373.0" r="0.75" fill="#808080"/><circle cx="281.0" cy="373.0" r="0.75" fill="#808080"/><circle cx="243.6" cy="383.3" r="0.85" fill="#808080"/><circle cx="242.7" cy="381.7" r="0.85" fill="#808080"/><circle cx="233.9" cy="382.6" r="0.85" fill="#808080"/><circle cx="238.0" cy="381.6" r="0.85" fill="#808080"/><circle cx="234.9" cy="381.7" r="0.85" fill="#808080"/><circle cx="240.6" cy="383.2" r="0.85" fill="#808080"/><circle cx="244.7" cy="380.6" r="0.85" fill="#808080"/><circle cx="234.1" cy="381.7" r="0.85" fill="#808080"/><circle cx="238.8" cy="381.4" r="0.85" fill="#808080"/><circle cx="232.4" cy="380.3" r="0.85" fill="#808080"/><circle cx="234.6" cy="381.8" r="0.85" fill="#808080"/><circle cx="245.9" cy="383.5" r="0.85" fill="#808080"/><circle cx="244.1" cy="383.8" r="0.85" fill="#808080"/><circle cx="245.7" cy="382.4" r="0.85" fill="#808080"/><circle cx="243.1" cy="380.2" r="0.85" fill="#808080"/><circle cx="240.8" cy="382.4" r="0.85" fill="#808080"/><circle cx="234.2" cy="382.2" r="0.85" fill="#808080"/><circle cx="245.6" cy="381.9" r="0.85" fill="#808080"/><circle cx="240.3" cy="381.2" r="0.85" fill="#808080"/><circle cx="235.0" cy="383.5" r="0.85" fill="#808080"/><circle cx="229.5" cy="380.7" r="0.85" fill="#808080"/><circle cx="240.8" cy="381.7" r="0.85" fill="#808080"/><circle cx="230.5" cy="382.6" r="0.85" fill="#808080"/><circle cx="235.5" cy="382.3" r="0.85" fill="#808080"/><circle cx="236.2" cy="382.1" r="0.85" fill="#808080"/><circle cx="238.8" cy="381.5" r="0.85" fill="#808080"/><circle cx="231.0" cy="380.7" r="0.85" fill="#808080"/><circle cx="244.5" cy="382.1" r="0.85" fill="#808080"/><circle cx="231.0" cy="383.4" r="0.85" fill="#808080"/><circle cx="233.4" cy="380.4" r="0.85" fill="#808080"/><circle cx="238.2" cy="381.0" r="0.85" fill="#808080"/><circle cx="237.5" cy="382.2" r="0.85" fill="#808080"/><circle cx="232.9" cy="382.2" r="0.85" fill="#808080"/><circle cx="231.0" cy="382.0" r="0.85" fill="#808080"/><circle cx="239.2" cy="380.3" r="0.85" fill="#808080"/><circle cx="236.1" cy="380.3" r="0.85" fill="#808080"/><circle cx="236.6" cy="383.4" r="0.85" fill="#808080"/><circle cx="238.6" cy="382.8" r="0.85" fill="#808080"/><circle cx="242.2" cy="380.4" r="0.85" fill="#808080"/><circle cx="246.2" cy="382.8" r="0.85" fill="#808080"/><circle cx="230.8" cy="383.2" r="0.85" fill="#808080"/><circle cx="235.8" cy="380.7" r="0.85" fill="#808080"/><circle cx="245.7" cy="382.2" r="0.85" fill="#808080"/><circle cx="242.5" cy="380.5" r="0.85" fill="#808080"/><circle cx="242.5" cy="380.2" r="0.85" fill="#808080"/><circle cx="233.1" cy="381.5" r="0.85" fill="#808080"/><circle cx="229.3" cy="382.3" r="0.85" fill="#808080"/><circle cx="232.7" cy="381.2" r="0.85" fill="#808080"/><circle cx="241.3" cy="381.7" r="0.85" fill="#808080"/><circle cx="244.5" cy="382.4" r="0.85" fill="#808080"/><circle cx="244.2" cy="382.2" r="0.85" fill="#808080"/><circle cx="245.0" cy="383.4" r="0.85" fill="#808080"/><circle cx="231.9" cy="382.9" r="0.85" fill="#808080"/><circle cx="234.9" cy="383.0" r="0.85" fill="#808080"/><circle cx="240.8" cy="383.2" r="0.85" fill="#808080"/><circle cx="231.1" cy="381.5" r="0.85" fill="#808080"/><circle cx="241.8" cy="383.7" r="0.85" fill="#808080"/><circle cx="241.6" cy="380.2" r="0.85" fill="#808080"/><circle cx="239.5" cy="380.4" r="0.85" fill="#808080"/><circle cx="238.5" cy="383.1" r="0.85" fill="#808080"/><circle cx="236.5" cy="393.5" r="0.95" fill="#808080"/><circle cx="240.3" cy="389.4" r="0.95" fill="#808080"/><circle cx="237.1" cy="390.6" r="0.95" fill="#808080"/><circle cx="241.3" cy="391.4" r="0.95" fill="#808080"/><circle cx="236.5" cy="387.9" r="0.95" fill="#808080"/><circle cx="236.5" cy="392.8" r="0.95" fill="#808080"/><circle cx="237.0" cy="391.2" r="0.95" fill="#808080"/><circle cx="237.7" cy="392.1" r="0.95" fill="#808080"/><circle cx="238.3" cy="388.7" r="0.95" fill="#808080"/><circle cx="241.6" cy="391.1" r="0.95" fill="#808080"/><circle cx="240.4" cy="392.8" r="0.95" fill="#808080"/><circle cx="242.1" cy="387.9" r="0.95" fill="#808080"/><circle cx="238.1" cy="388.7" r="0.95" fill="#808080"/><circle cx="239.1" cy="393.2" r="0.95" fill="#808080"/><circle cx="241.1" cy="388.0" r="0.95" fill="#808080"/><circle cx="237.0" cy="392.9" r="0.95" fill="#808080"/><circle cx="240.3" cy="390.2" r="0.95" fill="#808080"/><circle cx="238.9" cy="388.8" r="0.95" fill="#808080"/><circle cx="241.4" cy="390.2" r="0.95" fill="#808080"/><circle cx="241.6" cy="391.6" r="0.95" fill="#808080"/><circle cx="236.3" cy="389.8" r="0.95" fill="#808080"/><circle cx="237.2" cy="393.3" r="0.95" fill="#808080"/><circle cx="239.7" cy="388.1" r="0.95" fill="#808080"/><circle cx="236.9" cy="390.0" r="0.95" fill="#808080"/><circle cx="238.9" cy="391.4" r="0.95" fill="#808080"/><circle cx="238.4" cy="390.0" r="0.95" fill="#808080"/><circle cx="235.8" cy="391.4" r="0.95" fill="#808080"/><circle cx="238.0" cy="387.9" r="0.95" fill="#808080"/><circle cx="238.8" cy="393.9" r="0.95" fill="#808080"/><circle cx="236.1" cy="388.7" r="0.95" fill="#808080"/><circle cx="240.2" cy="389.5" r="0.95" fill="#808080"/><circle cx="237.6" cy="390.9" r="0.95" fill="#808080"/><circle cx="237.5" cy="391.3" r="0.95" fill="#808080"/><circle cx="239.3" cy="393.7" r="0.95" fill="#808080"/><circle cx="242.3" cy="388.0" r="0.95" fill="#808080"/><circle cx="239.5" cy="392.6" r="0.95" fill="#808080"/><circle cx="241.6" cy="392.6" r="0.95" fill="#808080"/><circle cx="240.0" cy="391.7" r="0.95" fill="#808080"/><circle cx="238.2" cy="389.5" r="0.95" fill="#808080"/><circle cx="241.0" cy="393.2" r="0.95" fill="#808080"/><circle cx="230.9" cy="400.0" r="0.75" fill="#808080"/><circle cx="221.5" cy="400.2" r="0.75" fill="#808080"/><circle cx="227.9" cy="399.7" r="0.75" fill="#808080"/><circle cx="226.4" cy="399.3" r="0.75" fill="#808080"/><circle cx="225.2" cy="399.5" r="0.75" fill="#808080"/><circle cx="217.9" cy="399.3" r="0.75" fill="#808080"/><circle cx="221.8" cy="400.7" r="0.75" fill="#808080"/><circle cx="224.1" cy="399.4" r="0.75" fill="#808080"/><circle cx="220.6" cy="399.1" r="0.75" fill="#808080"/><circle cx="222.2" cy="398.9" r="0.75" fill="#808080"/><circle cx="217.1" cy="400.4" r="0.75" fill="#808080"/><circle cx="223.7" cy="399.5" r="0.75" fill="#808080"/><circle cx="225.4" cy="399.2" r="0.75" fill="#808080"/><circle cx="219.5" cy="398.7" r="0.75" fill="#808080"/><circle cx="221.5" cy="399.2" r="0.75" fill="#808080"/><circle cx="227.8" cy="399.8" r="0.75" fill="#808080"/><circle cx="230.9" cy="399.3" r="0.75" fill="#808080"/><circle cx="230.6" cy="399.8" r="0.75" fill="#808080"/><circle cx="218.2" cy="399.0" r="0.75" fill="#808080"/><circle cx="225.6" cy="400.7" r="0.75" fill="#808080"/><circle cx="222.3" cy="400.2" r="0.75" fill="#808080"/><circle cx="223.3" cy="400.4" r="0.75" fill="#808080"/><circle cx="218.0" cy="399.6" r="0.75" fill="#808080"/><circle cx="230.3" cy="399.2" r="0.75" fill="#808080"/><circle cx="220.8" cy="398.6" r="0.75" fill="#808080"/><circle cx="219.4" cy="399.2" r="0.75" fill="#808080"/><circle cx="227.4" cy="399.1" r="0.75" fill="#808080"/><circle cx="222.9" cy="399.0" r="0.75" fill="#808080"/><circle cx="225.9" cy="400.4" r="0.75" fill="#808080"/><circle cx="226.6" cy="399.0" r="0.75" fill="#808080"/><circle cx="227.9" cy="400.6" r="0.75" fill="#808080"/><circle cx="225.9" cy="398.8" r="0.75" fill="#808080"/><circle cx="229.0" cy="400.4" r="0.75" fill="#808080"/><circle cx="222.0" cy="398.9" r="0.75" fill="#808080"/><circle cx="219.8" cy="399.7" r="0.75" fill="#808080"/><circle cx="230.0" cy="399.9" r="0.75" fill="#808080"/><circle cx="240.5" cy="401.6" r="0.85" fill="#808080"/><circle cx="236.6" cy="402.8" r="0.85" fill="#808080"/><circle cx="238.7" cy="402.0" r="0.85" fill="#808080"/><circle cx="238.9" cy="401.9" r="0.85" fill="#808080"/><circle cx="234.8" cy="402.1" r="0.85" fill="#808080"/><circle cx="234.7" cy="402.5" r="0.85" fill="#808080"/><circle cx="236.6" cy="402.2" r="0.85" fill="#808080"/><circle cx="238.3" cy="401.7" r="0.85" fill="#808080"/><circle cx="237.5" cy="401.1" r="0.85" fill="#808080"/><circle cx="240.5" cy="402.4" r="0.85" fill="#808080"/><circle cx="240.9" cy="401.2" r="0.85" fill="#808080"/><circle cx="238.5" cy="402.8" r="0.85" fill="#808080"/><circle cx="236.6" cy="401.3" r="0.85" fill="#808080"/><circle cx="235.4" cy="401.4" r="0.85" fill="#808080"/><circle cx="239.5" cy="401.3" r="0.85" fill="#808080"/><circle cx="239.8" cy="402.1" r="0.85" fill="#808080"/><circle cx="238.0" cy="402.5" r="0.85" fill="#808080"/><circle cx="238.1" cy="402.6" r="0.85" fill="#808080"/><circle cx="238.4" cy="401.9" r="0.85" fill="#808080"/><circle cx="239.3" cy="401.7" r="0.85" fill="#808080"/><circle cx="239.1" cy="402.9" r="0.85" fill="#808080"/><circle cx="239.5" cy="401.8" r="0.85" fill="#808080"/><circle cx="239.5" cy="403.3" r="0.85" fill="#808080"/><circle cx="237.4" cy="401.7" r="0.85" fill="#808080"/></g>
<path d="M109 178L131.75 411.8" stroke="#000" stroke-width="2.2"/>
<rect x="109" y="178" width="178" height="231" fill="none" stroke="#000" stroke-width="4"/>
<circle cx="247.3" cy="408.9" r="0.8" fill="#aaa"/><circle cx="244.8" cy="408.0" r="0.8" fill="#aaa"/><circle cx="247.0" cy="408.7" r="0.8" fill="#aaa"/><circle cx="249.0" cy="408.4" r="0.8" fill="#aaa"/><circle cx="250.3" cy="408.2" r="0.8" fill="#aaa"/><circle cx="248.8" cy="408.1" r="0.8" fill="#aaa"/><circle cx="244.2" cy="408.1" r="0.8" fill="#aaa"/><circle cx="244.4" cy="408.5" r="0.8" fill="#aaa"/><circle cx="247.6" cy="408.2" r="0.8" fill="#aaa"/><circle cx="250.0" cy="408.4" r="0.8" fill="#aaa"/>
<text x="198.3" y="154" font-size="12.3" font-weight="bold" fill="#111" text-anchor="middle">Effective Vertical Stress, <tspan class="ser" font-weight="normal" font-size="13">σ</tspan>'<tspan dy="3" font-size="11">V</tspan><tspan dy="-3"> (kPa)</tspan></text>
<text x="108.7" y="171.2" font-size="12.2" fill="#333" text-anchor="middle">0</text>
<text x="168" y="171.2" font-size="12.2" fill="#333" text-anchor="middle">2000</text>
<text x="227.2" y="171.2" font-size="12.2" fill="#333" text-anchor="middle">4000</text>
<text x="286.3" y="171.2" font-size="12.2" fill="#333" text-anchor="middle">6000</text>
<text x="100.3" y="182.6" font-size="12.2" fill="#333" text-anchor="end">0</text>
<text x="100.3" y="240.3" font-size="12.2" fill="#333" text-anchor="end">20</text>
<text x="100.3" y="298.1" font-size="12.2" fill="#333" text-anchor="end">40</text>
<text x="100.3" y="355.9" font-size="12.2" fill="#333" text-anchor="end">60</text>
<text x="100.3" y="413.6" font-size="12.2" fill="#333" text-anchor="end">80</text>
<text transform="translate(79.8,293.6) rotate(-90)" font-size="12.5" font-weight="bold" fill="#111" text-anchor="middle">Depth (m)</text>
<text x="65.3" y="437.7" font-size="15.3" font-weight="bold" class="ser" fill="#111">(a)</text>
<path d="M454.2 180V411" stroke="#999" stroke-width="1"/>
<path d="M513.3 180V411" stroke="#999" stroke-width="1"/>
<path d="M395 237.75H572.5" stroke="#999" stroke-width="1"/>
<path d="M395 295.50H572.5" stroke="#999" stroke-width="1"/>
<path d="M395 353.25H572.5" stroke="#999" stroke-width="1"/>
<g><rect x="426.5" y="191.6" width="4" height="4" stroke="#c9c9c9" stroke-width="1" fill="none"/><rect x="431.2" y="191.2" width="4" height="4" stroke="#c9c9c9" stroke-width="1" fill="none"/><path d="M433.3 190.5H438.8L436.0 195.1Z" stroke="#b4b4b4" stroke-width="1" fill="#b4b4b4"/><path d="M437.1 189.8H442.6L439.8 194.5Z" stroke="#b4b4b4" stroke-width="1" fill="#b4b4b4"/><path d="M440.7 192.7H446.2M443.4 190.0V195.5" stroke="#9a9a9a" stroke-width="1" fill="none"/><path d="M440.8 192.3H446.3M443.5 189.6V195.1" stroke="#9a9a9a" stroke-width="1" fill="none"/><path d="M442.5 192.7H448.0M445.3 190.0V195.5" stroke="#9a9a9a" stroke-width="1" fill="none"/><path d="M446.3 192.1H451.8M449.0 189.4V194.9" stroke="#9a9a9a" stroke-width="1" fill="none"/><path d="M449.0 192.9H454.5M451.7 190.1V195.6" stroke="#9a9a9a" stroke-width="1" fill="none"/><path d="M449.7 192.6H455.2M452.5 189.8V195.3" stroke="#9a9a9a" stroke-width="1" fill="none"/><path d="M450.0 192.1H455.5M452.7 189.4V194.9" stroke="#9a9a9a" stroke-width="1" fill="none"/><path d="M452.9 192.1H458.4M455.7 189.4V194.9" stroke="#9a9a9a" stroke-width="1" fill="none"/><path d="M453.7 192.3H459.2M456.4 189.5V195.0" stroke="#9a9a9a" stroke-width="1" fill="none"/><path d="M454.9 192.5H460.4M457.7 189.7V195.2" stroke="#9a9a9a" stroke-width="1" fill="none"/><path d="M458.1 192.8H463.6M460.8 190.0V195.5" stroke="#9a9a9a" stroke-width="1" fill="none"/><path d="M424.0 198.0L422.0 206.0L420.0 216.0L417.5 227.0L422.0 227.0L425.5 216.0L427.5 206.0L429.0 198.0Z" fill="#bcbcbc" opacity="1"/><path d="M421.6 211.3H426.1L423.8 215.1Z" stroke="#a8a8a8" stroke-width="0.8" fill="#adadad"/><path d="M421.8 210.7H426.3L424.0 214.5Z" stroke="#a8a8a8" stroke-width="0.8" fill="#adadad"/><path d="M420.7 209.5H425.2L422.9 213.3Z" stroke="#a8a8a8" stroke-width="0.8" fill="#adadad"/><path d="M418.8 225.1H423.3L421.0 229.0Z" stroke="#a8a8a8" stroke-width="0.8" fill="#adadad"/><path d="M419.4 220.6H423.9L421.6 224.4Z" stroke="#a8a8a8" stroke-width="0.8" fill="#adadad"/><path d="M421.3 205.3H425.8L423.6 209.2Z" stroke="#a8a8a8" stroke-width="0.8" fill="#adadad"/><path d="M420.9 204.6H425.4L423.2 208.4Z" stroke="#a8a8a8" stroke-width="0.8" fill="#adadad"/><path d="M419.0 218.4H423.5L421.3 222.2Z" stroke="#a8a8a8" stroke-width="0.8" fill="#adadad"/><path d="M418.4 220.8H422.9L420.6 224.6Z" stroke="#a8a8a8" stroke-width="0.8" fill="#adadad"/><path d="M418.7 224.0H423.2L421.0 227.8Z" stroke="#a8a8a8" stroke-width="0.8" fill="#adadad"/><path d="M423.4 196.2H427.9L425.6 200.0Z" stroke="#a8a8a8" stroke-width="0.8" fill="#adadad"/><path d="M418.1 222.6H422.6L420.4 226.4Z" stroke="#a8a8a8" stroke-width="0.8" fill="#adadad"/><path d="M417.4 224.6H421.9L419.6 228.5Z" stroke="#a8a8a8" stroke-width="0.8" fill="#adadad"/><path d="M424.2 198.3H428.7L426.4 202.1Z" stroke="#a8a8a8" stroke-width="0.8" fill="#adadad"/><path d="M418.5 218.8H423.0L420.8 222.6Z" stroke="#a8a8a8" stroke-width="0.8" fill="#adadad"/><path d="M423.2 198.7H427.7L425.4 202.6Z" stroke="#a8a8a8" stroke-width="0.8" fill="#adadad"/><path d="M418.5 224.2H423.0L420.7 228.0Z" stroke="#a8a8a8" stroke-width="0.8" fill="#adadad"/><path d="M422.7 199.6H427.2L424.9 203.4Z" stroke="#a8a8a8" stroke-width="0.8" fill="#adadad"/><path d="M422.2 199.1H426.7L424.5 203.0Z" stroke="#a8a8a8" stroke-width="0.8" fill="#adadad"/><path d="M418.1 219.3H422.6L420.4 223.1Z" stroke="#a8a8a8" stroke-width="0.8" fill="#adadad"/><path d="M420.7 212.4H425.2L422.9 216.2Z" stroke="#a8a8a8" stroke-width="0.8" fill="#adadad"/><path d="M423.8 201.7H428.3L426.1 205.6Z" stroke="#a8a8a8" stroke-width="0.8" fill="#adadad"/><path d="M423.9 200.0H428.4L426.1 203.8Z" stroke="#a8a8a8" stroke-width="0.8" fill="#adadad"/><path d="M423.3 199.6H427.8L425.5 203.4Z" stroke="#a8a8a8" stroke-width="0.8" fill="#adadad"/><path d="M422.1 202.4H426.6L424.4 206.2Z" stroke="#a8a8a8" stroke-width="0.8" fill="#adadad"/><path d="M418.5 224.4H423.0L420.8 228.2Z" stroke="#a8a8a8" stroke-width="0.8" fill="#adadad"/><path d="M423.7 205.0H428.2L425.9 208.8Z" stroke="#a8a8a8" stroke-width="0.8" fill="#adadad"/><path d="M422.6 202.3H427.1L424.8 206.1Z" stroke="#a8a8a8" stroke-width="0.8" fill="#adadad"/><path d="M419.1 221.0H423.6L421.3 224.8Z" stroke="#a8a8a8" stroke-width="0.8" fill="#adadad"/><path d="M425.2 199.1H429.7L427.4 202.9Z" stroke="#a8a8a8" stroke-width="0.8" fill="#adadad"/><path d="M462.0 194.5L452.0 199.5L445.0 204.0L449.0 209.5L458.0 203.0L467.0 197.0Z" fill="#9c9c9c" opacity="1"/><path d="M459.2 196.3H464.7M462.0 193.6V199.1" stroke="#8e8e8e" stroke-width="1.1" fill="none"/><path d="M460.5 196.9H466.0M463.2 194.2V199.7" stroke="#8e8e8e" stroke-width="1.1" fill="none"/><path d="M458.0 197.2H463.5M460.8 194.5V200.0" stroke="#8e8e8e" stroke-width="1.1" fill="none"/><path d="M456.6 198.2H462.1M459.3 195.4V200.9" stroke="#8e8e8e" stroke-width="1.1" fill="none"/><path d="M456.4 198.7H461.9M459.1 196.0V201.5" stroke="#8e8e8e" stroke-width="1.1" fill="none"/><path d="M456.1 199.2H461.6M458.8 196.4V201.9" stroke="#8e8e8e" stroke-width="1.1" fill="none"/><path d="M457.4 199.7H462.9M460.1 197.0V202.5" stroke="#8e8e8e" stroke-width="1.1" fill="none"/><path d="M455.3 200.6H460.8M458.0 197.8V203.3" stroke="#8e8e8e" stroke-width="1.1" fill="none"/><path d="M453.1 200.5H458.6M455.9 197.8V203.3" stroke="#8e8e8e" stroke-width="1.1" fill="none"/><path d="M454.9 201.6H460.4M457.7 198.8V204.3" stroke="#8e8e8e" stroke-width="1.1" fill="none"/><path d="M451.9 201.6H457.4M454.6 198.9V204.4" stroke="#8e8e8e" stroke-width="1.1" fill="none"/><path d="M452.8 202.7H458.3M455.6 200.0V205.5" stroke="#8e8e8e" stroke-width="1.1" fill="none"/><path d="M450.2 203.3H455.7M452.9 200.5V206.0" stroke="#8e8e8e" stroke-width="1.1" fill="none"/><path d="M451.8 203.5H457.3M454.6 200.8V206.3" stroke="#8e8e8e" stroke-width="1.1" fill="none"/><path d="M449.5 203.6H455.0M452.2 200.9V206.4" stroke="#8e8e8e" stroke-width="1.1" fill="none"/><path d="M447.4 204.8H452.9M450.1 202.1V207.6" stroke="#8e8e8e" stroke-width="1.1" fill="none"/><path d="M447.3 205.2H452.8M450.1 202.4V207.9" stroke="#8e8e8e" stroke-width="1.1" fill="none"/><path d="M446.5 205.7H452.0M449.2 202.9V208.4" stroke="#8e8e8e" stroke-width="1.1" fill="none"/><path d="M446.7 205.6H452.2M449.5 202.9V208.4" stroke="#8e8e8e" stroke-width="1.1" fill="none"/><path d="M444.3 206.4H449.8M447.1 203.6V209.1" stroke="#8e8e8e" stroke-width="1.1" fill="none"/><path d="M443.0 206.4H448.5M445.8 203.6V209.1" stroke="#8e8e8e" stroke-width="1.1" fill="none"/><path d="M443.8 207.3H449.3M446.6 204.5V210.0" stroke="#8e8e8e" stroke-width="1.1" fill="none"/><path d="M443.1 207.2H448.6M445.8 204.5V210.0" stroke="#8e8e8e" stroke-width="1.1" fill="none"/><path d="M443.2 207.6H448.7M446.0 204.8V210.3" stroke="#8e8e8e" stroke-width="1.1" fill="none"/><path d="M476.0 190.0L468.0 198.0L461.0 204.0L454.0 210.0L449.5 215.0L451.0 221.0L452.0 228.0L478.0 228.0L478.0 221.0L478.0 215.0L478.5 210.0L480.0 204.0L482.0 198.0L483.0 190.0Z" fill="#929292" opacity="1"/><path d="M475.1 187.9L480.6 193.4M475.1 193.4L480.6 187.9" stroke="#7e7e7e" stroke-width="0.9" fill="none"/><path d="M457.0 204.2L462.5 209.7M457.0 209.7L462.5 204.2" stroke="#7e7e7e" stroke-width="0.9" fill="none"/><path d="M471.6 193.9L477.1 199.4M471.6 199.4L477.1 193.9" stroke="#7e7e7e" stroke-width="0.9" fill="none"/><path d="M453.8 209.0L459.3 214.5M453.8 214.5L459.3 209.0" stroke="#7e7e7e" stroke-width="0.9" fill="none"/><path d="M474.5 201.0L480.0 206.5M474.5 206.5L480.0 201.0" stroke="#7e7e7e" stroke-width="0.9" fill="none"/><path d="M466.0 224.5L471.5 230.0M466.0 230.0L471.5 224.5" stroke="#7e7e7e" stroke-width="0.9" fill="none"/><path d="M463.4 213.5L468.9 219.0M463.4 219.0L468.9 213.5" stroke="#7e7e7e" stroke-width="0.9" fill="none"/><path d="M469.3 192.6L474.8 198.1M469.3 198.1L474.8 192.6" stroke="#7e7e7e" stroke-width="0.9" fill="none"/><path d="M478.7 187.9L484.2 193.4M478.7 193.4L484.2 187.9" stroke="#7e7e7e" stroke-width="0.9" fill="none"/><path d="M473.3 213.9L478.8 219.4M473.3 219.4L478.8 213.9" stroke="#7e7e7e" stroke-width="0.9" fill="none"/><path d="M477.1 188.1L482.6 193.6M477.1 193.6L482.6 188.1" stroke="#7e7e7e" stroke-width="0.9" fill="none"/><path d="M469.5 205.6L475.0 211.1M469.5 211.1L475.0 205.6" stroke="#7e7e7e" stroke-width="0.9" fill="none"/><path d="M476.9 199.4L482.4 204.9M476.9 204.9L482.4 199.4" stroke="#7e7e7e" stroke-width="0.9" fill="none"/><path d="M475.5 190.1L481.0 195.6M475.5 195.6L481.0 190.1" stroke="#7e7e7e" stroke-width="0.9" fill="none"/><path d="M471.7 215.3L477.2 220.8M471.7 220.8L477.2 215.3" stroke="#7e7e7e" stroke-width="0.9" fill="none"/><path d="M466.6 215.3L472.1 220.8M466.6 220.8L472.1 215.3" stroke="#7e7e7e" stroke-width="0.9" fill="none"/><path d="M472.1 217.4L477.6 222.9M472.1 222.9L477.6 217.4" stroke="#7e7e7e" stroke-width="0.9" fill="none"/><path d="M471.3 200.6L476.8 206.1M471.3 206.1L476.8 200.6" stroke="#7e7e7e" stroke-width="0.9" fill="none"/><path d="M471.1 221.5L476.6 227.0M471.1 227.0L476.6 221.5" stroke="#7e7e7e" stroke-width="0.9" fill="none"/><path d="M471.9 203.1L477.4 208.6M471.9 208.6L477.4 203.1" stroke="#7e7e7e" stroke-width="0.9" fill="none"/><path d="M463.7 220.1L469.2 225.6M463.7 225.6L469.2 220.1" stroke="#7e7e7e" stroke-width="0.9" fill="none"/><path d="M458.6 211.0L464.1 216.5M458.6 216.5L464.1 211.0" stroke="#7e7e7e" stroke-width="0.9" fill="none"/><path d="M465.1 209.4L470.6 214.9M465.1 214.9L470.6 209.4" stroke="#7e7e7e" stroke-width="0.9" fill="none"/><path d="M476.1 190.3L481.6 195.8M476.1 195.8L481.6 190.3" stroke="#7e7e7e" stroke-width="0.9" fill="none"/><path d="M471.4 225.0L476.9 230.5M471.4 230.5L476.9 225.0" stroke="#7e7e7e" stroke-width="0.9" fill="none"/><path d="M458.5 214.9L464.0 220.4M458.5 220.4L464.0 214.9" stroke="#7e7e7e" stroke-width="0.9" fill="none"/><path d="M463.5 215.2L469.0 220.7M463.5 220.7L469.0 215.2" stroke="#7e7e7e" stroke-width="0.9" fill="none"/><path d="M472.4 204.0L477.9 209.5M472.4 209.5L477.9 204.0" stroke="#7e7e7e" stroke-width="0.9" fill="none"/><path d="M476.9 190.4L482.4 195.9M476.9 195.9L482.4 190.4" stroke="#7e7e7e" stroke-width="0.9" fill="none"/><path d="M476.7 188.4L482.2 193.9M476.7 193.9L482.2 188.4" stroke="#7e7e7e" stroke-width="0.9" fill="none"/><path d="M459.1 205.5L464.6 211.0M459.1 211.0L464.6 205.5" stroke="#7e7e7e" stroke-width="0.9" fill="none"/><path d="M461.1 213.8L466.6 219.3M461.1 219.3L466.6 213.8" stroke="#7e7e7e" stroke-width="0.9" fill="none"/><path d="M472.4 210.6L477.9 216.1M472.4 216.1L477.9 210.6" stroke="#7e7e7e" stroke-width="0.9" fill="none"/><path d="M464.4 197.0L469.9 202.5M464.4 202.5L469.9 197.0" stroke="#7e7e7e" stroke-width="0.9" fill="none"/><path d="M472.3 198.7L477.8 204.2M472.3 204.2L477.8 198.7" stroke="#7e7e7e" stroke-width="0.9" fill="none"/><path d="M468.5 194.9L474.0 200.4M468.5 200.4L474.0 194.9" stroke="#7e7e7e" stroke-width="0.9" fill="none"/><path d="M465.9 221.7L471.4 227.2M465.9 227.2L471.4 221.7" stroke="#7e7e7e" stroke-width="0.9" fill="none"/><path d="M473.4 204.0L478.9 209.5M473.4 209.5L478.9 204.0" stroke="#7e7e7e" stroke-width="0.9" fill="none"/><path d="M471.5 199.7L477.0 205.2M471.5 205.2L477.0 199.7" stroke="#7e7e7e" stroke-width="0.9" fill="none"/><path d="M471.7 194.8L477.2 200.3M471.7 200.3L477.2 194.8" stroke="#7e7e7e" stroke-width="0.9" fill="none"/><path d="M472.1 217.9L477.6 223.4M472.1 223.4L477.6 217.9" stroke="#7e7e7e" stroke-width="0.9" fill="none"/><path d="M459.1 220.7L464.6 226.2M459.1 226.2L464.6 220.7" stroke="#7e7e7e" stroke-width="0.9" fill="none"/><path d="M458.0 209.4L463.5 214.9M458.0 214.9L463.5 209.4" stroke="#7e7e7e" stroke-width="0.9" fill="none"/><path d="M473.8 192.4L479.3 197.9M473.8 197.9L479.3 192.4" stroke="#7e7e7e" stroke-width="0.9" fill="none"/><path d="M470.5 219.1L476.0 224.6M470.5 224.6L476.0 219.1" stroke="#7e7e7e" stroke-width="0.9" fill="none"/><path d="M473.0 214.3L478.5 219.8M473.0 219.8L478.5 214.3" stroke="#7e7e7e" stroke-width="0.9" fill="none"/><path d="M465.7 197.8L471.2 203.3M465.7 203.3L471.2 197.8" stroke="#7e7e7e" stroke-width="0.9" fill="none"/><path d="M461.1 204.4L466.6 209.9M461.1 209.9L466.6 204.4" stroke="#7e7e7e" stroke-width="0.9" fill="none"/><path d="M471.1 195.4L476.6 200.9M471.1 200.9L476.6 195.4" stroke="#7e7e7e" stroke-width="0.9" fill="none"/><path d="M461.5 211.0L467.0 216.5M461.5 216.5L467.0 211.0" stroke="#7e7e7e" stroke-width="0.9" fill="none"/><path d="M474.5 199.2L480.0 204.7M474.5 204.7L480.0 199.2" stroke="#7e7e7e" stroke-width="0.9" fill="none"/><path d="M461.1 224.6L466.6 230.1M461.1 230.1L466.6 224.6" stroke="#7e7e7e" stroke-width="0.9" fill="none"/><path d="M471.6 190.1L477.1 195.6M471.6 195.6L477.1 190.1" stroke="#7e7e7e" stroke-width="0.9" fill="none"/><path d="M450.6 220.4L456.1 225.9M450.6 225.9L456.1 220.4" stroke="#7e7e7e" stroke-width="0.9" fill="none"/><path d="M463.1 214.2L468.6 219.7M463.1 219.7L468.6 214.2" stroke="#7e7e7e" stroke-width="0.9" fill="none"/><path d="M473.9 199.0L479.4 204.5M473.9 204.5L479.4 199.0" stroke="#7e7e7e" stroke-width="0.9" fill="none"/><path d="M474.3 188.0L479.8 193.5M474.3 193.5L479.8 188.0" stroke="#7e7e7e" stroke-width="0.9" fill="none"/><path d="M455.9 204.5L461.4 210.0M455.9 210.0L461.4 204.5" stroke="#7e7e7e" stroke-width="0.9" fill="none"/><path d="M455.2 218.8L460.7 224.3M455.2 224.3L460.7 218.8" stroke="#7e7e7e" stroke-width="0.9" fill="none"/><path d="M469.4 192.6L474.9 198.1M469.4 198.1L474.9 192.6" stroke="#7e7e7e" stroke-width="0.9" fill="none"/><path d="M460.2 211.2L465.7 216.7M460.2 216.7L465.7 211.2" stroke="#7e7e7e" stroke-width="0.9" fill="none"/><path d="M465.5 211.2L471.0 216.7M465.5 216.7L471.0 211.2" stroke="#7e7e7e" stroke-width="0.9" fill="none"/><path d="M473.2 217.9L478.7 223.4M473.2 223.4L478.7 217.9" stroke="#7e7e7e" stroke-width="0.9" fill="none"/><path d="M453.2 213.3L458.7 218.8M453.2 218.8L458.7 213.3" stroke="#7e7e7e" stroke-width="0.9" fill="none"/><path d="M458.2 205.3L463.7 210.8M458.2 210.8L463.7 205.3" stroke="#7e7e7e" stroke-width="0.9" fill="none"/><path d="M476.4 187.7L481.9 193.2M476.4 193.2L481.9 187.7" stroke="#7e7e7e" stroke-width="0.9" fill="none"/><path d="M452.9 214.4L458.4 219.9M452.9 219.9L458.4 214.4" stroke="#7e7e7e" stroke-width="0.9" fill="none"/><path d="M468.3 197.6L473.8 203.1M468.3 203.1L473.8 197.6" stroke="#7e7e7e" stroke-width="0.9" fill="none"/><path d="M461.7 213.7L467.2 219.2M461.7 219.2L467.2 213.7" stroke="#7e7e7e" stroke-width="0.9" fill="none"/><path d="M468.3 210.6L473.8 216.1M468.3 216.1L473.8 210.6" stroke="#7e7e7e" stroke-width="0.9" fill="none"/><path d="M472.3 202.2L477.8 207.7M472.3 207.7L477.8 202.2" stroke="#7e7e7e" stroke-width="0.9" fill="none"/><path d="M451.9 221.7L457.4 227.2M451.9 227.2L457.4 221.7" stroke="#7e7e7e" stroke-width="0.9" fill="none"/><path d="M467.5 222.7L473.0 228.2M467.5 228.2L473.0 222.7" stroke="#7e7e7e" stroke-width="0.9" fill="none"/><path d="M473.5 192.2L479.0 197.7M473.5 197.7L479.0 192.2" stroke="#7e7e7e" stroke-width="0.9" fill="none"/><path d="M472.1 211.0L477.6 216.5M472.1 216.5L477.6 211.0" stroke="#7e7e7e" stroke-width="0.9" fill="none"/><path d="M468.7 201.6L474.2 207.1M468.7 207.1L474.2 201.6" stroke="#7e7e7e" stroke-width="0.9" fill="none"/><path d="M469.2 220.7L474.7 226.2M469.2 226.2L474.7 220.7" stroke="#7e7e7e" stroke-width="0.9" fill="none"/><path d="M461.2 223.1L466.7 228.6M461.2 228.6L466.7 223.1" stroke="#7e7e7e" stroke-width="0.9" fill="none"/><path d="M453.4 212.0L458.9 217.5M453.4 217.5L458.9 212.0" stroke="#7e7e7e" stroke-width="0.9" fill="none"/><path d="M469.5 214.7L475.0 220.2M469.5 220.2L475.0 214.7" stroke="#7e7e7e" stroke-width="0.9" fill="none"/><path d="M467.0 211.6L472.5 217.1M467.0 217.1L472.5 211.6" stroke="#7e7e7e" stroke-width="0.9" fill="none"/><path d="M477.0 195.4L482.5 200.9M477.0 200.9L482.5 195.4" stroke="#7e7e7e" stroke-width="0.9" fill="none"/><path d="M473.7 224.5L479.2 230.0M473.7 230.0L479.2 224.5" stroke="#7e7e7e" stroke-width="0.9" fill="none"/><path d="M469.9 207.7L475.4 213.2M469.9 213.2L475.4 207.7" stroke="#7e7e7e" stroke-width="0.9" fill="none"/><path d="M475.5 199.4L481.0 204.9M475.5 204.9L481.0 199.4" stroke="#7e7e7e" stroke-width="0.9" fill="none"/><path d="M458.1 219.8L463.6 225.3M458.1 225.3L463.6 219.8" stroke="#7e7e7e" stroke-width="0.9" fill="none"/><path d="M474.5 190.4L480.0 195.9M474.5 195.9L480.0 190.4" stroke="#7e7e7e" stroke-width="0.9" fill="none"/><path d="M469.3 208.2L474.8 213.7M469.3 213.7L474.8 208.2" stroke="#7e7e7e" stroke-width="0.9" fill="none"/><path d="M454.6 205.8L460.1 211.3M454.6 211.3L460.1 205.8" stroke="#7e7e7e" stroke-width="0.9" fill="none"/><path d="M450.8 218.0L456.3 223.5M450.8 223.5L456.3 218.0" stroke="#7e7e7e" stroke-width="0.9" fill="none"/><path d="M453.4 217.6L458.9 223.1M453.4 223.1L458.9 217.6" stroke="#7e7e7e" stroke-width="0.9" fill="none"/><path d="M473.3 200.0L478.8 205.5M473.3 205.5L478.8 200.0" stroke="#7e7e7e" stroke-width="0.9" fill="none"/><path d="M470.3 192.6L475.8 198.1M470.3 198.1L475.8 192.6" stroke="#7e7e7e" stroke-width="0.9" fill="none"/><path d="M468.7 206.9L474.2 212.4M468.7 212.4L474.2 206.9" stroke="#7e7e7e" stroke-width="0.9" fill="none"/><path d="M466.5 219.2L472.0 224.7M466.5 224.7L472.0 219.2" stroke="#7e7e7e" stroke-width="0.9" fill="none"/><path d="M461.9 223.2L467.4 228.7M461.9 228.7L467.4 223.2" stroke="#7e7e7e" stroke-width="0.9" fill="none"/><path d="M452.1 223.3L457.6 228.8M452.1 228.8L457.6 223.3" stroke="#7e7e7e" stroke-width="0.9" fill="none"/><path d="M472.3 195.7L477.8 201.2M472.3 201.2L477.8 195.7" stroke="#7e7e7e" stroke-width="0.9" fill="none"/><path d="M473.3 198.3L478.8 203.8M473.3 203.8L478.8 198.3" stroke="#7e7e7e" stroke-width="0.9" fill="none"/><path d="M462.0 211.5L467.5 217.0M462.0 217.0L467.5 211.5" stroke="#7e7e7e" stroke-width="0.9" fill="none"/><path d="M463.3 219.3L468.8 224.8M463.3 224.8L468.8 219.3" stroke="#7e7e7e" stroke-width="0.9" fill="none"/><path d="M467.6 199.1L473.1 204.6M467.6 204.6L473.1 199.1" stroke="#7e7e7e" stroke-width="0.9" fill="none"/><path d="M471.8 219.4L477.3 224.9M471.8 224.9L477.3 219.4" stroke="#7e7e7e" stroke-width="0.9" fill="none"/><path d="M476.5 195.2L482.0 200.7M476.5 200.7L482.0 195.2" stroke="#7e7e7e" stroke-width="0.9" fill="none"/><path d="M462.7 224.1L468.2 229.6M462.7 229.6L468.2 224.1" stroke="#7e7e7e" stroke-width="0.9" fill="none"/><path d="M455.5 209.0L461.0 214.5M455.5 214.5L461.0 209.0" stroke="#7e7e7e" stroke-width="0.9" fill="none"/><path d="M463.4 207.6L468.9 213.1M463.4 213.1L468.9 207.6" stroke="#7e7e7e" stroke-width="0.9" fill="none"/><path d="M450.2 210.2L455.7 215.7M450.2 215.7L455.7 210.2" stroke="#7e7e7e" stroke-width="0.9" fill="none"/><path d="M462.6 224.1L468.1 229.6M462.6 229.6L468.1 224.1" stroke="#7e7e7e" stroke-width="0.9" fill="none"/><path d="M472.3 202.5L477.8 208.0M472.3 208.0L477.8 202.5" stroke="#7e7e7e" stroke-width="0.9" fill="none"/><path d="M462.6 208.6L468.1 214.1M462.6 214.1L468.1 208.6" stroke="#7e7e7e" stroke-width="0.9" fill="none"/><path d="M449.8 213.5L455.3 219.0M449.8 219.0L455.3 213.5" stroke="#7e7e7e" stroke-width="0.9" fill="none"/><path d="M461.3 207.7L466.8 213.2M461.3 213.2L466.8 207.7" stroke="#7e7e7e" stroke-width="0.9" fill="none"/><path d="M472.4 223.6L477.9 229.1M472.4 229.1L477.9 223.6" stroke="#7e7e7e" stroke-width="0.9" fill="none"/><path d="M470.2 197.5L475.7 203.0M470.2 203.0L475.7 197.5" stroke="#7e7e7e" stroke-width="0.9" fill="none"/><path d="M473.4 192.1L478.9 197.6M473.4 197.6L478.9 192.1" stroke="#7e7e7e" stroke-width="0.9" fill="none"/><path d="M471.8 218.2L477.3 223.7M471.8 223.7L477.3 218.2" stroke="#7e7e7e" stroke-width="0.9" fill="none"/><path d="M461.0 205.4L466.5 210.9M461.0 210.9L466.5 205.4" stroke="#7e7e7e" stroke-width="0.9" fill="none"/><path d="M474.0 194.5L479.5 200.0M474.0 200.0L479.5 194.5" stroke="#7e7e7e" stroke-width="0.9" fill="none"/><path d="M453.0 222.4L458.5 227.9M453.0 227.9L458.5 222.4" stroke="#7e7e7e" stroke-width="0.9" fill="none"/><path d="M449.5 219.6H455.0M452.2 216.9V222.4" stroke="#a6a6a6" stroke-width="0.9" fill="none"/><path d="M469.5 197.4H475.0M472.2 194.6V200.1" stroke="#a6a6a6" stroke-width="0.9" fill="none"/><path d="M456.5 216.1H462.0M459.2 213.4V218.9" stroke="#a6a6a6" stroke-width="0.9" fill="none"/><path d="M470.1 203.5H475.6M472.9 200.8V206.3" stroke="#a6a6a6" stroke-width="0.9" fill="none"/><path d="M476.5 194.0H482.0M479.2 191.2V196.7" stroke="#a6a6a6" stroke-width="0.9" fill="none"/><path d="M474.2 194.7H479.7M477.0 191.9V197.4" stroke="#a6a6a6" stroke-width="0.9" fill="none"/><path d="M467.1 199.5H472.6M469.8 196.8V202.3" stroke="#a6a6a6" stroke-width="0.9" fill="none"/><path d="M462.0 210.2H467.5M464.7 207.4V212.9" stroke="#a6a6a6" stroke-width="0.9" fill="none"/><path d="M466.1 204.3H471.6M468.8 201.5V207.0" stroke="#a6a6a6" stroke-width="0.9" fill="none"/><path d="M455.8 210.1H461.3M458.5 207.4V212.9" stroke="#a6a6a6" stroke-width="0.9" fill="none"/><path d="M473.9 197.8H479.4M476.7 195.0V200.5" stroke="#a6a6a6" stroke-width="0.9" fill="none"/><path d="M462.1 214.3H467.6M464.9 211.5V217.0" stroke="#a6a6a6" stroke-width="0.9" fill="none"/><path d="M464.6 222.3H470.1M467.4 219.6V225.1" stroke="#a6a6a6" stroke-width="0.9" fill="none"/><path d="M455.2 222.6H460.7M458.0 219.8V225.3" stroke="#a6a6a6" stroke-width="0.9" fill="none"/><path d="M469.4 218.1H474.9M472.1 215.4V220.9" stroke="#a6a6a6" stroke-width="0.9" fill="none"/><path d="M457.5 224.3H463.0M460.2 221.6V227.1" stroke="#a6a6a6" stroke-width="0.9" fill="none"/><path d="M475.7 202.0H481.2M478.5 199.2V204.7" stroke="#a6a6a6" stroke-width="0.9" fill="none"/><path d="M478.1 198.3H483.6M480.9 195.5V201.0" stroke="#a6a6a6" stroke-width="0.9" fill="none"/><path d="M452.9 223.7H458.4M455.7 221.0V226.5" stroke="#a6a6a6" stroke-width="0.9" fill="none"/><path d="M474.4 199.1H479.9M477.1 196.3V201.8" stroke="#a6a6a6" stroke-width="0.9" fill="none"/><path d="M465.4 199.9H470.9M468.1 197.1V202.6" stroke="#a6a6a6" stroke-width="0.9" fill="none"/><path d="M459.8 221.6H465.3M462.6 218.9V224.4" stroke="#a6a6a6" stroke-width="0.9" fill="none"/><path d="M452.2 220.0H457.7M454.9 217.3V222.8" stroke="#a6a6a6" stroke-width="0.9" fill="none"/><path d="M470.2 205.3H475.7M472.9 202.6V208.1" stroke="#a6a6a6" stroke-width="0.9" fill="none"/><path d="M474.7 190.7H480.2M477.4 187.9V193.4" stroke="#a6a6a6" stroke-width="0.9" fill="none"/><path d="M471.9 215.9H477.4M474.7 213.2V218.7" stroke="#a6a6a6" stroke-width="0.9" fill="none"/><path d="M452.9 226.8H458.4M455.6 224.0V229.5" stroke="#a6a6a6" stroke-width="0.9" fill="none"/><path d="M469.7 209.2H475.2M472.4 206.5V212.0" stroke="#a6a6a6" stroke-width="0.9" fill="none"/><path d="M468.2 209.1H473.7M470.9 206.4V211.9" stroke="#a6a6a6" stroke-width="0.9" fill="none"/><path d="M467.9 197.2H473.4M470.6 194.4V199.9" stroke="#a6a6a6" stroke-width="0.9" fill="none"/><path d="M470.5 194.0H476.0M473.3 191.3V196.8" stroke="#a6a6a6" stroke-width="0.9" fill="none"/><path d="M463.4 211.0H468.9M466.1 208.2V213.7" stroke="#a6a6a6" stroke-width="0.9" fill="none"/><path d="M454.3 211.6H459.8M457.0 208.9V214.4" stroke="#a6a6a6" stroke-width="0.9" fill="none"/><path d="M469.5 197.0H475.0M472.3 194.3V199.8" stroke="#a6a6a6" stroke-width="0.9" fill="none"/><path d="M474.0 221.9H479.5M476.8 219.2V224.7" stroke="#a6a6a6" stroke-width="0.9" fill="none"/><path d="M452.2 225.2H457.7M454.9 222.5V228.0" stroke="#a6a6a6" stroke-width="0.9" fill="none"/><path d="M478.6 192.4H484.1M481.4 189.6V195.1" stroke="#a6a6a6" stroke-width="0.9" fill="none"/><path d="M470.6 207.6H476.1M473.3 204.8V210.3" stroke="#a6a6a6" stroke-width="0.9" fill="none"/><path d="M468.4 202.4H473.9M471.2 199.7V205.2" stroke="#a6a6a6" stroke-width="0.9" fill="none"/><path d="M462.3 209.6H467.8M465.0 206.8V212.3" stroke="#a6a6a6" stroke-width="0.9" fill="none"/><path d="M450.0 212.8H455.5M452.8 210.1V215.6" stroke="#a6a6a6" stroke-width="0.9" fill="none"/><path d="M470.2 216.6H475.7M472.9 213.9V219.4" stroke="#a6a6a6" stroke-width="0.9" fill="none"/><path d="M472.4 196.9H477.9M475.1 194.1V199.6" stroke="#a6a6a6" stroke-width="0.9" fill="none"/><path d="M459.0 218.1H464.5M461.7 215.3V220.8" stroke="#a6a6a6" stroke-width="0.9" fill="none"/><path d="M468.7 197.4H474.2M471.5 194.7V200.2" stroke="#a6a6a6" stroke-width="0.9" fill="none"/><path d="M453.2 209.5H458.7M455.9 206.7V212.2" stroke="#a6a6a6" stroke-width="0.9" fill="none"/><path d="M469.4 223.9H474.9M472.1 221.2V226.7" stroke="#a6a6a6" stroke-width="0.9" fill="none"/><path d="M470.6 216.8H476.1M473.4 214.0V219.5" stroke="#a6a6a6" stroke-width="0.9" fill="none"/><path d="M459.1 213.9H464.6M461.8 211.2V216.7" stroke="#a6a6a6" stroke-width="0.9" fill="none"/><path d="M462.2 212.8H467.7M465.0 210.0V215.5" stroke="#a6a6a6" stroke-width="0.9" fill="none"/><path d="M469.5 227.3H475.0M472.3 224.6V230.1" stroke="#a6a6a6" stroke-width="0.9" fill="none"/><path d="M476.4 199.8H481.9M479.2 197.1V202.6" stroke="#a6a6a6" stroke-width="0.9" fill="none"/><path d="M468.5 218.3H474.0M471.3 215.5V221.0" stroke="#a6a6a6" stroke-width="0.9" fill="none"/><path d="M459.4 221.0H464.9M462.1 218.2V223.7" stroke="#a6a6a6" stroke-width="0.9" fill="none"/><path d="M471.3 224.1H476.8M474.0 221.3V226.8" stroke="#a6a6a6" stroke-width="0.9" fill="none"/><path d="M468.2 216.4H473.7M470.9 213.7V219.2" stroke="#a6a6a6" stroke-width="0.9" fill="none"/><path d="M459.1 219.1H464.6M461.9 216.3V221.8" stroke="#a6a6a6" stroke-width="0.9" fill="none"/><path d="M450.2 217.5H455.7M452.9 214.7V220.2" stroke="#a6a6a6" stroke-width="0.9" fill="none"/><path d="M468.0 203.0H473.5M470.8 200.2V205.7" stroke="#a6a6a6" stroke-width="0.9" fill="none"/><path d="M475.8 190.4H481.3M478.5 187.7V193.2" stroke="#a6a6a6" stroke-width="0.9" fill="none"/><path d="M464.6 214.3H470.1M467.3 211.5V217.0" stroke="#a6a6a6" stroke-width="0.9" fill="none"/><path d="M477.3 198.8H482.8M480.0 196.1V201.6" stroke="#a6a6a6" stroke-width="0.9" fill="none"/><path d="M456.8 215.3H462.3M459.5 212.6V218.1" stroke="#a6a6a6" stroke-width="0.9" fill="none"/><path d="M462.9 215.1H468.4M465.6 212.3V217.8" stroke="#a6a6a6" stroke-width="0.9" fill="none"/><path d="M460.9 210.3H466.4M463.6 207.5V213.0" stroke="#a6a6a6" stroke-width="0.9" fill="none"/><path d="M465.7 228.0H471.2M468.4 225.2V230.7" stroke="#a6a6a6" stroke-width="0.9" fill="none"/><path d="M468.0 216.6H473.5M470.8 213.9V219.4" stroke="#a6a6a6" stroke-width="0.9" fill="none"/><path d="M450.7 227.2H456.2M453.4 224.5V230.0" stroke="#a6a6a6" stroke-width="0.9" fill="none"/><path d="M467.8 213.4H473.3M470.6 210.6V216.1" stroke="#a6a6a6" stroke-width="0.9" fill="none"/><path d="M469.6 199.8H475.1M472.4 197.0V202.5" stroke="#a6a6a6" stroke-width="0.9" fill="none"/><path d="M473.6 191.9H479.1M476.4 189.2V194.7" stroke="#a6a6a6" stroke-width="0.9" fill="none"/><path d="M460.6 204.3H466.1M463.4 201.5V207.0" stroke="#a6a6a6" stroke-width="0.9" fill="none"/><path d="M476.5 199.5H482.0M479.2 196.8V202.3" stroke="#a6a6a6" stroke-width="0.9" fill="none"/><path d="M463.2 210.9H468.7M466.0 208.2V213.7" stroke="#a6a6a6" stroke-width="0.9" fill="none"/><path d="M463.8 226.8H469.3M466.6 224.0V229.5" stroke="#a6a6a6" stroke-width="0.9" fill="none"/><path d="M465.6 227.8H471.1M468.3 225.1V230.6" stroke="#a6a6a6" stroke-width="0.9" fill="none"/><path d="M451.1 220.8H456.6M453.8 218.0V223.5" stroke="#a6a6a6" stroke-width="0.9" fill="none"/><path d="M468.5 212.7H474.0M471.3 210.0V215.5" stroke="#a6a6a6" stroke-width="0.9" fill="none"/><path d="M478.6 191.7H484.1M481.3 189.0V194.5" stroke="#a6a6a6" stroke-width="0.9" fill="none"/><path d="M473.0 196.1H478.5M475.8 193.3V198.8" stroke="#a6a6a6" stroke-width="0.9" fill="none"/><path d="M473.1 196.4H478.6M475.8 193.7V199.2" stroke="#a6a6a6" stroke-width="0.9" fill="none"/><path d="M450.8 213.2H456.3M453.6 210.5V216.0" stroke="#a6a6a6" stroke-width="0.9" fill="none"/><path d="M460.2 225.9H465.7M462.9 223.2V228.7" stroke="#a6a6a6" stroke-width="0.9" fill="none"/><path d="M465.7 210.0H471.2M468.4 207.3V212.8" stroke="#a6a6a6" stroke-width="0.9" fill="none"/><path d="M464.2 203.9H469.7M467.0 201.1V206.6" stroke="#a6a6a6" stroke-width="0.9" fill="none"/><path d="M462.7 214.9H468.2M465.4 212.1V217.6" stroke="#a6a6a6" stroke-width="0.9" fill="none"/><path d="M473.3 200.8H478.8M476.0 198.0V203.5" stroke="#a6a6a6" stroke-width="0.9" fill="none"/><path d="M462.7 201.2H468.2M465.4 198.5V204.0" stroke="#a6a6a6" stroke-width="0.9" fill="none"/><path d="M465.3 199.3H470.8M468.0 196.6V202.1" stroke="#a6a6a6" stroke-width="0.9" fill="none"/><path d="M476.0 196.0H481.5M478.8 193.2V198.7" stroke="#a6a6a6" stroke-width="0.9" fill="none"/><circle cx="477.0" cy="204.8" r="2.25" stroke="#b5b5b5" stroke-width="0.9" fill="none"/><circle cx="452.6" cy="218.4" r="2.25" stroke="#b5b5b5" stroke-width="0.9" fill="none"/><circle cx="475.7" cy="227.6" r="2.25" stroke="#b5b5b5" stroke-width="0.9" fill="none"/><circle cx="480.9" cy="192.8" r="2.25" stroke="#b5b5b5" stroke-width="0.9" fill="none"/><circle cx="468.4" cy="206.3" r="2.25" stroke="#b5b5b5" stroke-width="0.9" fill="none"/><circle cx="458.7" cy="227.0" r="2.25" stroke="#b5b5b5" stroke-width="0.9" fill="none"/><circle cx="476.1" cy="209.9" r="2.25" stroke="#b5b5b5" stroke-width="0.9" fill="none"/><circle cx="463.2" cy="217.5" r="2.25" stroke="#b5b5b5" stroke-width="0.9" fill="none"/><circle cx="472.6" cy="227.2" r="2.25" stroke="#b5b5b5" stroke-width="0.9" fill="none"/><circle cx="455.2" cy="212.9" r="2.25" stroke="#b5b5b5" stroke-width="0.9" fill="none"/><circle cx="463.3" cy="213.7" r="2.25" stroke="#b5b5b5" stroke-width="0.9" fill="none"/><circle cx="469.9" cy="197.7" r="2.25" stroke="#b5b5b5" stroke-width="0.9" fill="none"/><circle cx="457.7" cy="210.1" r="2.25" stroke="#b5b5b5" stroke-width="0.9" fill="none"/><circle cx="471.8" cy="206.8" r="2.25" stroke="#b5b5b5" stroke-width="0.9" fill="none"/><circle cx="463.4" cy="207.3" r="2.25" stroke="#b5b5b5" stroke-width="0.9" fill="none"/><circle cx="463.2" cy="212.1" r="2.25" stroke="#b5b5b5" stroke-width="0.9" fill="none"/><circle cx="465.1" cy="219.6" r="2.25" stroke="#b5b5b5" stroke-width="0.9" fill="none"/><circle cx="475.9" cy="227.9" r="2.25" stroke="#b5b5b5" stroke-width="0.9" fill="none"/><circle cx="457.4" cy="217.9" r="2.25" stroke="#b5b5b5" stroke-width="0.9" fill="none"/><circle cx="480.5" cy="194.3" r="2.25" stroke="#b5b5b5" stroke-width="0.9" fill="none"/><circle cx="467.5" cy="219.8" r="2.25" stroke="#b5b5b5" stroke-width="0.9" fill="none"/><circle cx="466.9" cy="203.6" r="2.25" stroke="#b5b5b5" stroke-width="0.9" fill="none"/><circle cx="465.6" cy="216.0" r="2.25" stroke="#b5b5b5" stroke-width="0.9" fill="none"/><circle cx="468.3" cy="212.5" r="2.25" stroke="#b5b5b5" stroke-width="0.9" fill="none"/><circle cx="456.3" cy="218.6" r="2.25" stroke="#b5b5b5" stroke-width="0.9" fill="none"/><rect x="452.5" y="219.4" width="4" height="4" stroke="#d6d6d6" stroke-width="1" fill="none"/><rect x="456.3" y="221.3" width="4" height="4" stroke="#d6d6d6" stroke-width="1" fill="none"/><rect x="457.1" y="222.6" width="4" height="4" stroke="#d6d6d6" stroke-width="1" fill="none"/><path d="M486.0 193.5L481.5 200.0L479.5 206.0L478.0 212.0L478.0 216.0L479.0 216.0L482.0 212.0L489.0 206.0L497.0 200.0L497.0 193.5Z" fill="#cbcbcb" opacity="1"/><rect x="486.3" y="197.5" width="4.2" height="4.2" stroke="#dedede" stroke-width="0.9" fill="none"/><rect x="478.6" y="205.4" width="4.2" height="4.2" stroke="#dedede" stroke-width="0.9" fill="none"/><rect x="479.1" y="203.6" width="4.2" height="4.2" stroke="#dedede" stroke-width="0.9" fill="none"/><rect x="490.6" y="193.3" width="4.2" height="4.2" stroke="#dedede" stroke-width="0.9" fill="none"/><rect x="483.2" y="203.8" width="4.2" height="4.2" stroke="#dedede" stroke-width="0.9" fill="none"/><rect x="485.3" y="199.8" width="4.2" height="4.2" stroke="#dedede" stroke-width="0.9" fill="none"/><rect x="485.8" y="196.1" width="4.2" height="4.2" stroke="#dedede" stroke-width="0.9" fill="none"/><rect x="480.4" y="208.2" width="4.2" height="4.2" stroke="#dedede" stroke-width="0.9" fill="none"/><rect x="485.0" y="193.1" width="4.2" height="4.2" stroke="#dedede" stroke-width="0.9" fill="none"/><rect x="478.4" y="209.6" width="4.2" height="4.2" stroke="#dedede" stroke-width="0.9" fill="none"/><rect x="477.9" y="208.7" width="4.2" height="4.2" stroke="#dedede" stroke-width="0.9" fill="none"/><rect x="482.1" y="200.9" width="4.2" height="4.2" stroke="#dedede" stroke-width="0.9" fill="none"/><rect x="477.8" y="209.6" width="4.2" height="4.2" stroke="#dedede" stroke-width="0.9" fill="none"/><rect x="483.3" y="206.1" width="4.2" height="4.2" stroke="#dedede" stroke-width="0.9" fill="none"/><rect x="487.1" y="198.7" width="4.2" height="4.2" stroke="#dedede" stroke-width="0.9" fill="none"/><rect x="480.6" y="208.2" width="4.2" height="4.2" stroke="#dedede" stroke-width="0.9" fill="none"/><rect x="483.2" y="201.0" width="4.2" height="4.2" stroke="#dedede" stroke-width="0.9" fill="none"/><rect x="492.6" y="193.6" width="4.2" height="4.2" stroke="#dedede" stroke-width="0.9" fill="none"/><rect x="484.5" y="193.2" width="4.2" height="4.2" stroke="#dedede" stroke-width="0.9" fill="none"/><rect x="481.9" y="204.1" width="4.2" height="4.2" stroke="#dedede" stroke-width="0.9" fill="none"/><rect x="479.1" y="206.8" width="4.2" height="4.2" stroke="#dedede" stroke-width="0.9" fill="none"/><rect x="477.4" y="208.8" width="4.2" height="4.2" stroke="#dedede" stroke-width="0.9" fill="none"/><rect x="489.7" y="196.2" width="4.2" height="4.2" stroke="#dedede" stroke-width="0.9" fill="none"/><rect x="486.7" y="193.2" width="4.2" height="4.2" stroke="#dedede" stroke-width="0.9" fill="none"/><rect x="480.2" y="207.7" width="4.2" height="4.2" stroke="#dedede" stroke-width="0.9" fill="none"/><path d="M443.5 248.0L442.3 270.0L439.5 290.0L437.5 310.0L433.5 328.0L431.5 340.0L431.0 356.0L431.5 372.0L432.0 390.0L432.5 408.5L442.0 408.5L442.0 390.0L442.0 372.0L442.5 356.0L444.0 340.0L446.0 328.0L450.0 310.0L450.0 290.0L449.5 270.0L450.0 248.0Z" fill="#c6c6c6" opacity="1"/><rect x="439.3" y="291.3" width="4.2" height="4.2" stroke="#dadada" stroke-width="0.9" fill="none"/><rect x="444.1" y="303.3" width="4.2" height="4.2" stroke="#dadada" stroke-width="0.9" fill="none"/><rect x="437.9" y="304.7" width="4.2" height="4.2" stroke="#dadada" stroke-width="0.9" fill="none"/><rect x="435.3" y="359.7" width="4.2" height="4.2" stroke="#dadada" stroke-width="0.9" fill="none"/><rect x="438.4" y="393.3" width="4.2" height="4.2" stroke="#dadada" stroke-width="0.9" fill="none"/><rect x="434.5" y="392.5" width="4.2" height="4.2" stroke="#dadada" stroke-width="0.9" fill="none"/><rect x="433.1" y="374.8" width="4.2" height="4.2" stroke="#dadada" stroke-width="0.9" fill="none"/><rect x="441.3" y="296.9" width="4.2" height="4.2" stroke="#dadada" stroke-width="0.9" fill="none"/><rect x="438.1" y="395.9" width="4.2" height="4.2" stroke="#dadada" stroke-width="0.9" fill="none"/><rect x="441.6" y="285.8" width="4.2" height="4.2" stroke="#dadada" stroke-width="0.9" fill="none"/><rect x="440.4" y="304.6" width="4.2" height="4.2" stroke="#dadada" stroke-width="0.9" fill="none"/><rect x="440.1" y="309.4" width="4.2" height="4.2" stroke="#dadada" stroke-width="0.9" fill="none"/><rect x="443.7" y="277.2" width="4.2" height="4.2" stroke="#dadada" stroke-width="0.9" fill="none"/><rect x="435.0" y="373.8" width="4.2" height="4.2" stroke="#dadada" stroke-width="0.9" fill="none"/><rect x="435.3" y="380.1" width="4.2" height="4.2" stroke="#dadada" stroke-width="0.9" fill="none"/><rect x="445.1" y="274.2" width="4.2" height="4.2" stroke="#dadada" stroke-width="0.9" fill="none"/><rect x="433.1" y="387.3" width="4.2" height="4.2" stroke="#dadada" stroke-width="0.9" fill="none"/><rect x="444.6" y="249.5" width="4.2" height="4.2" stroke="#dadada" stroke-width="0.9" fill="none"/><rect x="437.1" y="333.2" width="4.2" height="4.2" stroke="#dadada" stroke-width="0.9" fill="none"/><rect x="436.2" y="401.0" width="4.2" height="4.2" stroke="#dadada" stroke-width="0.9" fill="none"/><rect x="431.1" y="375.0" width="4.2" height="4.2" stroke="#dadada" stroke-width="0.9" fill="none"/><rect x="439.4" y="333.7" width="4.2" height="4.2" stroke="#dadada" stroke-width="0.9" fill="none"/><rect x="442.1" y="259.4" width="4.2" height="4.2" stroke="#dadada" stroke-width="0.9" fill="none"/><rect x="438.2" y="364.2" width="4.2" height="4.2" stroke="#dadada" stroke-width="0.9" fill="none"/><rect x="444.8" y="259.5" width="4.2" height="4.2" stroke="#dadada" stroke-width="0.9" fill="none"/><rect x="445.1" y="269.0" width="4.2" height="4.2" stroke="#dadada" stroke-width="0.9" fill="none"/><rect x="432.4" y="350.1" width="4.2" height="4.2" stroke="#dadada" stroke-width="0.9" fill="none"/><rect x="445.0" y="281.3" width="4.2" height="4.2" stroke="#dadada" stroke-width="0.9" fill="none"/><rect x="439.8" y="329.6" width="4.2" height="4.2" stroke="#dadada" stroke-width="0.9" fill="none"/><rect x="439.7" y="309.2" width="4.2" height="4.2" stroke="#dadada" stroke-width="0.9" fill="none"/><rect x="436.4" y="401.3" width="4.2" height="4.2" stroke="#dadada" stroke-width="0.9" fill="none"/><rect x="438.2" y="325.1" width="4.2" height="4.2" stroke="#dadada" stroke-width="0.9" fill="none"/><rect x="436.5" y="361.6" width="4.2" height="4.2" stroke="#dadada" stroke-width="0.9" fill="none"/><rect x="434.3" y="392.8" width="4.2" height="4.2" stroke="#dadada" stroke-width="0.9" fill="none"/><rect x="436.1" y="378.5" width="4.2" height="4.2" stroke="#dadada" stroke-width="0.9" fill="none"/><rect x="437.3" y="382.9" width="4.2" height="4.2" stroke="#dadada" stroke-width="0.9" fill="none"/><rect x="438.0" y="379.7" width="4.2" height="4.2" stroke="#dadada" stroke-width="0.9" fill="none"/><rect x="436.1" y="399.6" width="4.2" height="4.2" stroke="#dadada" stroke-width="0.9" fill="none"/><rect x="439.2" y="330.0" width="4.2" height="4.2" stroke="#dadada" stroke-width="0.9" fill="none"/><rect x="434.1" y="374.7" width="4.2" height="4.2" stroke="#dadada" stroke-width="0.9" fill="none"/><rect x="436.7" y="313.4" width="4.2" height="4.2" stroke="#dadada" stroke-width="0.9" fill="none"/><rect x="439.0" y="364.9" width="4.2" height="4.2" stroke="#dadada" stroke-width="0.9" fill="none"/><rect x="438.3" y="306.2" width="4.2" height="4.2" stroke="#dadada" stroke-width="0.9" fill="none"/><rect x="442.7" y="278.7" width="4.2" height="4.2" stroke="#dadada" stroke-width="0.9" fill="none"/><rect x="446.6" y="292.8" width="4.2" height="4.2" stroke="#dadada" stroke-width="0.9" fill="none"/><rect x="443.4" y="255.4" width="4.2" height="4.2" stroke="#dadada" stroke-width="0.9" fill="none"/><rect x="444.7" y="264.3" width="4.2" height="4.2" stroke="#dadada" stroke-width="0.9" fill="none"/><rect x="431.9" y="370.4" width="4.2" height="4.2" stroke="#dadada" stroke-width="0.9" fill="none"/><rect x="444.1" y="255.9" width="4.2" height="4.2" stroke="#dadada" stroke-width="0.9" fill="none"/><rect x="439.8" y="339.6" width="4.2" height="4.2" stroke="#dadada" stroke-width="0.9" fill="none"/><rect x="442.6" y="251.7" width="4.2" height="4.2" stroke="#dadada" stroke-width="0.9" fill="none"/><rect x="441.5" y="275.5" width="4.2" height="4.2" stroke="#dadada" stroke-width="0.9" fill="none"/><rect x="444.6" y="283.7" width="4.2" height="4.2" stroke="#dadada" stroke-width="0.9" fill="none"/><rect x="432.6" y="341.4" width="4.2" height="4.2" stroke="#dadada" stroke-width="0.9" fill="none"/><rect x="441.9" y="275.6" width="4.2" height="4.2" stroke="#dadada" stroke-width="0.9" fill="none"/><rect x="445.1" y="273.6" width="4.2" height="4.2" stroke="#dadada" stroke-width="0.9" fill="none"/><rect x="442.7" y="295.9" width="4.2" height="4.2" stroke="#dadada" stroke-width="0.9" fill="none"/><rect x="434.6" y="377.0" width="4.2" height="4.2" stroke="#dadada" stroke-width="0.9" fill="none"/><rect x="445.9" y="287.7" width="4.2" height="4.2" stroke="#dadada" stroke-width="0.9" fill="none"/><rect x="433.7" y="392.6" width="4.2" height="4.2" stroke="#dadada" stroke-width="0.9" fill="none"/><rect x="441.1" y="333.7" width="4.2" height="4.2" stroke="#dadada" stroke-width="0.9" fill="none"/><rect x="435.3" y="323.4" width="4.2" height="4.2" stroke="#dadada" stroke-width="0.9" fill="none"/><rect x="446.5" y="253.9" width="4.2" height="4.2" stroke="#dadada" stroke-width="0.9" fill="none"/><rect x="433.8" y="374.5" width="4.2" height="4.2" stroke="#dadada" stroke-width="0.9" fill="none"/><rect x="437.0" y="330.6" width="4.2" height="4.2" stroke="#dadada" stroke-width="0.9" fill="none"/><rect x="446.8" y="290.0" width="4.2" height="4.2" stroke="#dadada" stroke-width="0.9" fill="none"/><rect x="432.3" y="351.4" width="4.2" height="4.2" stroke="#dadada" stroke-width="0.9" fill="none"/><rect x="444.5" y="247.6" width="4.2" height="4.2" stroke="#dadada" stroke-width="0.9" fill="none"/><rect x="444.8" y="305.5" width="4.2" height="4.2" stroke="#dadada" stroke-width="0.9" fill="none"/><rect x="435.6" y="360.4" width="4.2" height="4.2" stroke="#dadada" stroke-width="0.9" fill="none"/><rect x="441.6" y="271.1" width="4.2" height="4.2" stroke="#dadada" stroke-width="0.9" fill="none"/><rect x="439.9" y="297.5" width="4.2" height="4.2" stroke="#dadada" stroke-width="0.9" fill="none"/><rect x="435.0" y="385.4" width="4.2" height="4.2" stroke="#dadada" stroke-width="0.9" fill="none"/><rect x="439.9" y="348.1" width="4.2" height="4.2" stroke="#dadada" stroke-width="0.9" fill="none"/><rect x="442.9" y="288.7" width="4.2" height="4.2" stroke="#dadada" stroke-width="0.9" fill="none"/><rect x="445.2" y="270.1" width="4.2" height="4.2" stroke="#dadada" stroke-width="0.9" fill="none"/><rect x="446.1" y="246.1" width="4.2" height="4.2" stroke="#dadada" stroke-width="0.9" fill="none"/><rect x="437.4" y="381.7" width="4.2" height="4.2" stroke="#dadada" stroke-width="0.9" fill="none"/><rect x="443.0" y="259.1" width="4.2" height="4.2" stroke="#dadada" stroke-width="0.9" fill="none"/><rect x="431.0" y="360.9" width="4.2" height="4.2" stroke="#dadada" stroke-width="0.9" fill="none"/><rect x="438.0" y="323.0" width="4.2" height="4.2" stroke="#dadada" stroke-width="0.9" fill="none"/><rect x="435.7" y="399.3" width="4.2" height="4.2" stroke="#dadada" stroke-width="0.9" fill="none"/><rect x="433.2" y="383.5" width="4.2" height="4.2" stroke="#dadada" stroke-width="0.9" fill="none"/><rect x="434.0" y="372.6" width="4.2" height="4.2" stroke="#dadada" stroke-width="0.9" fill="none"/><rect x="431.8" y="393.0" width="4.2" height="4.2" stroke="#dadada" stroke-width="0.9" fill="none"/><rect x="432.4" y="378.5" width="4.2" height="4.2" stroke="#dadada" stroke-width="0.9" fill="none"/><rect x="436.7" y="333.1" width="4.2" height="4.2" stroke="#dadada" stroke-width="0.9" fill="none"/><rect x="445.5" y="271.2" width="4.2" height="4.2" stroke="#dadada" stroke-width="0.9" fill="none"/><rect x="440.5" y="295.9" width="4.2" height="4.2" stroke="#dadada" stroke-width="0.9" fill="none"/><rect x="443.2" y="258.1" width="4.2" height="4.2" stroke="#dadada" stroke-width="0.9" fill="none"/><rect x="441.0" y="320.9" width="4.2" height="4.2" stroke="#dadada" stroke-width="0.9" fill="none"/><rect x="443.7" y="303.6" width="4.2" height="4.2" stroke="#dadada" stroke-width="0.9" fill="none"/><rect x="443.5" y="262.9" width="4.2" height="4.2" stroke="#dadada" stroke-width="0.9" fill="none"/><rect x="443.9" y="320.0" width="4.2" height="4.2" stroke="#dadada" stroke-width="0.9" fill="none"/><rect x="436.0" y="379.1" width="4.2" height="4.2" stroke="#dadada" stroke-width="0.9" fill="none"/><rect x="444.0" y="247.9" width="4.2" height="4.2" stroke="#dadada" stroke-width="0.9" fill="none"/><rect x="432.3" y="359.9" width="4.2" height="4.2" stroke="#dadada" stroke-width="0.9" fill="none"/><rect x="435.5" y="336.4" width="4.2" height="4.2" stroke="#dadada" stroke-width="0.9" fill="none"/><rect x="446.8" y="247.6" width="4.2" height="4.2" stroke="#dadada" stroke-width="0.9" fill="none"/><rect x="432.3" y="374.2" width="4.2" height="4.2" stroke="#dadada" stroke-width="0.9" fill="none"/><rect x="433.1" y="344.8" width="4.2" height="4.2" stroke="#dadada" stroke-width="0.9" fill="none"/><rect x="442.1" y="306.2" width="4.2" height="4.2" stroke="#dadada" stroke-width="0.9" fill="none"/><rect x="440.9" y="293.8" width="4.2" height="4.2" stroke="#dadada" stroke-width="0.9" fill="none"/><rect x="443.2" y="308.8" width="4.2" height="4.2" stroke="#dadada" stroke-width="0.9" fill="none"/><rect x="440.2" y="287.1" width="4.2" height="4.2" stroke="#dadada" stroke-width="0.9" fill="none"/><rect x="433.1" y="363.3" width="4.2" height="4.2" stroke="#dadada" stroke-width="0.9" fill="none"/><rect x="435.5" y="397.6" width="4.2" height="4.2" stroke="#dadada" stroke-width="0.9" fill="none"/><rect x="433.1" y="362.1" width="4.2" height="4.2" stroke="#dadada" stroke-width="0.9" fill="none"/><rect x="431.4" y="378.6" width="4.2" height="4.2" stroke="#dadada" stroke-width="0.9" fill="none"/><rect x="441.6" y="268.5" width="4.2" height="4.2" stroke="#dadada" stroke-width="0.9" fill="none"/><rect x="436.6" y="354.7" width="4.2" height="4.2" stroke="#dadada" stroke-width="0.9" fill="none"/><rect x="442.8" y="274.8" width="4.2" height="4.2" stroke="#dadada" stroke-width="0.9" fill="none"/><rect x="435.6" y="380.2" width="4.2" height="4.2" stroke="#dadada" stroke-width="0.9" fill="none"/><rect x="442.7" y="260.4" width="4.2" height="4.2" stroke="#dadada" stroke-width="0.9" fill="none"/><rect x="441.5" y="271.1" width="4.2" height="4.2" stroke="#dadada" stroke-width="0.9" fill="none"/><rect x="436.4" y="311.2" width="4.2" height="4.2" stroke="#dadada" stroke-width="0.9" fill="none"/><rect x="434.4" y="393.7" width="4.2" height="4.2" stroke="#dadada" stroke-width="0.9" fill="none"/><rect x="438.8" y="328.0" width="4.2" height="4.2" stroke="#dadada" stroke-width="0.9" fill="none"/><rect x="437.4" y="369.0" width="4.2" height="4.2" stroke="#dadada" stroke-width="0.9" fill="none"/><rect x="439.9" y="307.8" width="4.2" height="4.2" stroke="#dadada" stroke-width="0.9" fill="none"/><rect x="435.6" y="312.0" width="4.2" height="4.2" stroke="#dadada" stroke-width="0.9" fill="none"/><rect x="443.2" y="310.2" width="4.2" height="4.2" stroke="#dadada" stroke-width="0.9" fill="none"/><rect x="437.3" y="403.5" width="4.2" height="4.2" stroke="#dadada" stroke-width="0.9" fill="none"/><rect x="435.8" y="351.9" width="4.2" height="4.2" stroke="#dadada" stroke-width="0.9" fill="none"/><rect x="443.8" y="248.9" width="4.2" height="4.2" stroke="#dadada" stroke-width="0.9" fill="none"/><rect x="443.5" y="300.8" width="4.2" height="4.2" stroke="#dadada" stroke-width="0.9" fill="none"/><rect x="443.4" y="263.0" width="4.2" height="4.2" stroke="#dadada" stroke-width="0.9" fill="none"/><rect x="440.4" y="327.7" width="4.2" height="4.2" stroke="#dadada" stroke-width="0.9" fill="none"/><rect x="435.7" y="378.3" width="4.2" height="4.2" stroke="#dadada" stroke-width="0.9" fill="none"/><rect x="445.1" y="271.3" width="4.2" height="4.2" stroke="#dadada" stroke-width="0.9" fill="none"/><rect x="435.3" y="390.8" width="4.2" height="4.2" stroke="#dadada" stroke-width="0.9" fill="none"/><rect x="441.9" y="302.5" width="4.2" height="4.2" stroke="#dadada" stroke-width="0.9" fill="none"/><rect x="444.9" y="268.7" width="4.2" height="4.2" stroke="#dadada" stroke-width="0.9" fill="none"/><rect x="435.2" y="404.3" width="4.2" height="4.2" stroke="#dadada" stroke-width="0.9" fill="none"/><rect x="437.7" y="360.7" width="4.2" height="4.2" stroke="#dadada" stroke-width="0.9" fill="none"/><rect x="446.3" y="277.6" width="4.2" height="4.2" stroke="#dadada" stroke-width="0.9" fill="none"/><rect x="432.1" y="346.6" width="4.2" height="4.2" stroke="#dadada" stroke-width="0.9" fill="none"/><rect x="442.9" y="259.3" width="4.2" height="4.2" stroke="#dadada" stroke-width="0.9" fill="none"/><rect x="437.7" y="338.4" width="4.2" height="4.2" stroke="#dadada" stroke-width="0.9" fill="none"/><rect x="446.2" y="298.7" width="4.2" height="4.2" stroke="#dadada" stroke-width="0.9" fill="none"/><rect x="441.5" y="303.9" width="4.2" height="4.2" stroke="#dadada" stroke-width="0.9" fill="none"/><rect x="446.3" y="265.8" width="4.2" height="4.2" stroke="#dadada" stroke-width="0.9" fill="none"/><rect x="445.9" y="267.7" width="4.2" height="4.2" stroke="#dadada" stroke-width="0.9" fill="none"/><rect x="437.1" y="333.1" width="4.2" height="4.2" stroke="#dadada" stroke-width="0.9" fill="none"/><rect x="433.5" y="335.8" width="4.2" height="4.2" stroke="#dadada" stroke-width="0.9" fill="none"/><rect x="438.8" y="391.8" width="4.2" height="4.2" stroke="#dadada" stroke-width="0.9" fill="none"/><rect x="435.6" y="377.1" width="4.2" height="4.2" stroke="#dadada" stroke-width="0.9" fill="none"/><rect x="445.6" y="265.6" width="4.2" height="4.2" stroke="#dadada" stroke-width="0.9" fill="none"/><rect x="446.0" y="292.2" width="4.2" height="4.2" stroke="#dadada" stroke-width="0.9" fill="none"/><rect x="443.4" y="284.6" width="4.2" height="4.2" stroke="#dadada" stroke-width="0.9" fill="none"/><rect x="432.2" y="379.2" width="4.2" height="4.2" stroke="#dadada" stroke-width="0.9" fill="none"/><rect x="431.9" y="333.8" width="4.2" height="4.2" stroke="#dadada" stroke-width="0.9" fill="none"/><rect x="443.0" y="251.0" width="4.2" height="4.2" stroke="#dadada" stroke-width="0.9" fill="none"/><rect x="438.4" y="404.3" width="4.2" height="4.2" stroke="#dadada" stroke-width="0.9" fill="none"/><rect x="432.9" y="351.6" width="4.2" height="4.2" stroke="#dadada" stroke-width="0.9" fill="none"/><rect x="436.9" y="353.6" width="4.2" height="4.2" stroke="#dadada" stroke-width="0.9" fill="none"/><rect x="442.6" y="307.2" width="4.2" height="4.2" stroke="#dadada" stroke-width="0.9" fill="none"/><rect x="430.7" y="374.9" width="4.2" height="4.2" stroke="#dadada" stroke-width="0.9" fill="none"/><rect x="443.0" y="277.9" width="4.2" height="4.2" stroke="#dadada" stroke-width="0.9" fill="none"/><rect x="443.1" y="268.8" width="4.2" height="4.2" stroke="#dadada" stroke-width="0.9" fill="none"/><rect x="432.3" y="337.3" width="4.2" height="4.2" stroke="#dadada" stroke-width="0.9" fill="none"/><rect x="434.6" y="329.3" width="4.2" height="4.2" stroke="#dadada" stroke-width="0.9" fill="none"/><rect x="434.0" y="337.1" width="4.2" height="4.2" stroke="#dadada" stroke-width="0.9" fill="none"/><rect x="430.4" y="348.9" width="4.2" height="4.2" stroke="#dadada" stroke-width="0.9" fill="none"/><rect x="431.3" y="353.6" width="4.2" height="4.2" stroke="#dadada" stroke-width="0.9" fill="none"/><rect x="435.8" y="399.9" width="4.2" height="4.2" stroke="#dadada" stroke-width="0.9" fill="none"/><rect x="437.7" y="321.3" width="4.2" height="4.2" stroke="#dadada" stroke-width="0.9" fill="none"/><rect x="437.0" y="346.0" width="4.2" height="4.2" stroke="#dadada" stroke-width="0.9" fill="none"/><rect x="436.8" y="367.6" width="4.2" height="4.2" stroke="#dadada" stroke-width="0.9" fill="none"/><rect x="443.3" y="323.9" width="4.2" height="4.2" stroke="#dadada" stroke-width="0.9" fill="none"/><path d="M437.6 380.7H442.1L439.8 384.6Z" stroke="#b8b8b8" stroke-width="0.8" fill="none"/><path d="M440.0 311.8H444.5L442.2 315.7Z" stroke="#b8b8b8" stroke-width="0.8" fill="none"/><path d="M439.9 337.0H444.4L442.2 340.9Z" stroke="#b8b8b8" stroke-width="0.8" fill="none"/><path d="M437.0 330.6H441.5L439.3 334.4Z" stroke="#b8b8b8" stroke-width="0.8" fill="none"/><path d="M444.1 315.6H448.6L446.4 319.4Z" stroke="#b8b8b8" stroke-width="0.8" fill="none"/><path d="M437.8 297.7H442.3L440.1 301.5Z" stroke="#b8b8b8" stroke-width="0.8" fill="none"/><path d="M438.1 362.7H442.6L440.3 366.5Z" stroke="#b8b8b8" stroke-width="0.8" fill="none"/><path d="M435.4 363.7H439.9L437.6 367.5Z" stroke="#b8b8b8" stroke-width="0.8" fill="none"/><path d="M432.8 366.9H437.3L435.0 370.7Z" stroke="#b8b8b8" stroke-width="0.8" fill="none"/><path d="M430.9 341.4H435.4L433.1 345.3Z" stroke="#b8b8b8" stroke-width="0.8" fill="none"/><path d="M443.5 266.2H448.0L445.7 270.0Z" stroke="#b8b8b8" stroke-width="0.8" fill="none"/><path d="M436.3 326.9H440.8L438.6 330.7Z" stroke="#b8b8b8" stroke-width="0.8" fill="none"/><path d="M445.1 254.5H449.6L447.4 258.4Z" stroke="#b8b8b8" stroke-width="0.8" fill="none"/><path d="M434.0 330.7H438.5L436.3 334.5Z" stroke="#b8b8b8" stroke-width="0.8" fill="none"/><path d="M441.2 295.4H445.7L443.4 299.2Z" stroke="#b8b8b8" stroke-width="0.8" fill="none"/><path d="M439.4 284.1H443.9L441.6 287.9Z" stroke="#b8b8b8" stroke-width="0.8" fill="none"/><path d="M438.5 392.5H443.0L440.7 396.3Z" stroke="#b8b8b8" stroke-width="0.8" fill="none"/><path d="M438.1 353.0H442.6L440.3 356.9Z" stroke="#b8b8b8" stroke-width="0.8" fill="none"/><path d="M443.5 313.8H448.0L445.7 317.7Z" stroke="#b8b8b8" stroke-width="0.8" fill="none"/><path d="M444.7 281.8H449.2L447.0 285.6Z" stroke="#b8b8b8" stroke-width="0.8" fill="none"/><path d="M439.9 337.2H444.4L442.2 341.0Z" stroke="#b8b8b8" stroke-width="0.8" fill="none"/><path d="M445.4 262.0H449.9L447.6 265.8Z" stroke="#b8b8b8" stroke-width="0.8" fill="none"/><path d="M443.9 266.1H448.4L446.2 269.9Z" stroke="#b8b8b8" stroke-width="0.8" fill="none"/><path d="M431.0 398.8H435.5L433.3 402.7Z" stroke="#b8b8b8" stroke-width="0.8" fill="none"/><path d="M441.1 285.4H445.6L443.3 289.2Z" stroke="#b8b8b8" stroke-width="0.8" fill="none"/><path d="M437.8 298.3H442.3L440.1 302.1Z" stroke="#b8b8b8" stroke-width="0.8" fill="none"/><path d="M437.3 389.9H441.8L439.5 393.7Z" stroke="#b8b8b8" stroke-width="0.8" fill="none"/><path d="M439.6 310.0H444.1L441.9 313.8Z" stroke="#b8b8b8" stroke-width="0.8" fill="none"/><path d="M430.7 340.2H435.2L432.9 344.0Z" stroke="#b8b8b8" stroke-width="0.8" fill="none"/><path d="M446.2 251.2H450.7L448.4 255.0Z" stroke="#b8b8b8" stroke-width="0.8" fill="none"/><path d="M442.1 295.6H446.6L444.4 299.4Z" stroke="#b8b8b8" stroke-width="0.8" fill="none"/><path d="M438.6 396.1H443.1L440.8 399.9Z" stroke="#b8b8b8" stroke-width="0.8" fill="none"/><path d="M435.3 322.1H439.8L437.6 325.9Z" stroke="#b8b8b8" stroke-width="0.8" fill="none"/><path d="M446.1 293.6H450.6L448.3 297.4Z" stroke="#b8b8b8" stroke-width="0.8" fill="none"/><path d="M432.4 390.1H436.9L434.6 394.0Z" stroke="#b8b8b8" stroke-width="0.8" fill="none"/><path d="M433.4 380.7H437.9L435.7 384.5Z" stroke="#b8b8b8" stroke-width="0.8" fill="none"/><path d="M435.0 322.0H439.5L437.2 325.9Z" stroke="#b8b8b8" stroke-width="0.8" fill="none"/><path d="M438.7 387.4H443.2L441.0 391.2Z" stroke="#b8b8b8" stroke-width="0.8" fill="none"/><path d="M444.0 278.6H448.5L446.2 282.4Z" stroke="#b8b8b8" stroke-width="0.8" fill="none"/><path d="M445.7 276.9H450.2L447.9 280.8Z" stroke="#b8b8b8" stroke-width="0.8" fill="none"/><path d="M442.3 254.2H446.8L444.6 258.1Z" stroke="#b8b8b8" stroke-width="0.8" fill="none"/><path d="M432.8 362.7H437.3L435.1 366.5Z" stroke="#b8b8b8" stroke-width="0.8" fill="none"/><path d="M437.7 390.7H442.2L440.0 394.5Z" stroke="#b8b8b8" stroke-width="0.8" fill="none"/><path d="M431.2 360.7H435.7L433.4 364.5Z" stroke="#b8b8b8" stroke-width="0.8" fill="none"/><path d="M438.6 357.9H443.1L440.8 361.7Z" stroke="#b8b8b8" stroke-width="0.8" fill="none"/><path d="M435.0 317.6H439.5L437.2 321.5Z" stroke="#b8b8b8" stroke-width="0.8" fill="none"/><path d="M441.4 282.0H445.9L443.7 285.9Z" stroke="#b8b8b8" stroke-width="0.8" fill="none"/><path d="M431.7 360.2H436.2L434.0 364.1Z" stroke="#b8b8b8" stroke-width="0.8" fill="none"/><path d="M441.6 275.3H446.1L443.8 279.1Z" stroke="#b8b8b8" stroke-width="0.8" fill="none"/><path d="M437.4 352.9H441.9L439.6 356.7Z" stroke="#b8b8b8" stroke-width="0.8" fill="none"/><path d="M443.3 306.0H447.8L445.5 309.8Z" stroke="#b8b8b8" stroke-width="0.8" fill="none"/><path d="M435.5 388.2H440.0L437.7 392.0Z" stroke="#b8b8b8" stroke-width="0.8" fill="none"/><path d="M441.3 283.0H445.8L443.5 286.8Z" stroke="#b8b8b8" stroke-width="0.8" fill="none"/><path d="M436.1 394.9H440.6L438.4 398.8Z" stroke="#b8b8b8" stroke-width="0.8" fill="none"/><path d="M443.6 290.6H448.1L445.9 294.5Z" stroke="#b8b8b8" stroke-width="0.8" fill="none"/><path d="M446.3 260.6H450.8L448.6 264.5Z" stroke="#b8b8b8" stroke-width="0.8" fill="none"/><path d="M439.9 316.9H444.4L442.1 320.7Z" stroke="#b8b8b8" stroke-width="0.8" fill="none"/><path d="M431.9 331.4H436.4L434.1 335.2Z" stroke="#b8b8b8" stroke-width="0.8" fill="none"/><path d="M433.0 342.5H437.5L435.3 346.3Z" stroke="#b8b8b8" stroke-width="0.8" fill="none"/><path d="M445.1 286.5H449.6L447.3 290.3Z" stroke="#b8b8b8" stroke-width="0.8" fill="none"/><path d="M450.0 248.0L449.5 270.0L450.0 290.0L450.0 310.0L446.0 328.0L444.0 340.0L442.5 356.0L442.0 372.0L443.0 372.0L446.0 356.0L449.0 340.0L451.5 328.0L454.5 310.0L456.5 290.0L460.5 270.0L463.5 248.0Z" fill="#888888" opacity="1"/><path d="M451.3 254.9L456.3 259.9M451.3 259.9L456.3 254.9" stroke="#777" stroke-width="0.9" fill="none"/><path d="M445.1 327.1L450.1 332.1M445.1 332.1L450.1 327.1" stroke="#777" stroke-width="0.9" fill="none"/><path d="M452.1 275.6L457.1 280.6M452.1 280.6L457.1 275.6" stroke="#777" stroke-width="0.9" fill="none"/><path d="M456.3 265.6L461.3 270.6M456.3 270.6L461.3 265.6" stroke="#777" stroke-width="0.9" fill="none"/><path d="M441.2 352.2L446.2 357.2M441.2 357.2L446.2 352.2" stroke="#777" stroke-width="0.9" fill="none"/><path d="M451.3 295.4L456.3 300.4M451.3 300.4L456.3 295.4" stroke="#777" stroke-width="0.9" fill="none"/><path d="M452.8 287.0L457.8 292.0M452.8 292.0L457.8 287.0" stroke="#777" stroke-width="0.9" fill="none"/><path d="M449.1 299.5L454.1 304.5M449.1 304.5L454.1 299.5" stroke="#777" stroke-width="0.9" fill="none"/><path d="M450.2 305.5L455.2 310.5M450.2 310.5L455.2 305.5" stroke="#777" stroke-width="0.9" fill="none"/><path d="M451.9 284.3L456.9 289.3M451.9 289.3L456.9 284.3" stroke="#777" stroke-width="0.9" fill="none"/><path d="M445.4 330.1L450.4 335.1M445.4 335.1L450.4 330.1" stroke="#777" stroke-width="0.9" fill="none"/><path d="M451.2 300.1L456.2 305.1M451.2 305.1L456.2 300.1" stroke="#777" stroke-width="0.9" fill="none"/><path d="M447.5 319.4L452.5 324.4M447.5 324.4L452.5 319.4" stroke="#777" stroke-width="0.9" fill="none"/><path d="M441.8 348.3L446.8 353.3M441.8 353.3L446.8 348.3" stroke="#777" stroke-width="0.9" fill="none"/><path d="M444.3 329.7L449.3 334.7M444.3 334.7L449.3 329.7" stroke="#777" stroke-width="0.9" fill="none"/><path d="M448.3 311.2L453.3 316.2M448.3 316.2L453.3 311.2" stroke="#777" stroke-width="0.9" fill="none"/><path d="M451.5 293.1L456.5 298.1M451.5 298.1L456.5 293.1" stroke="#777" stroke-width="0.9" fill="none"/><path d="M446.3 330.4L451.3 335.4M446.3 335.4L451.3 330.4" stroke="#777" stroke-width="0.9" fill="none"/><path d="M452.1 271.0L457.1 276.0M452.1 276.0L457.1 271.0" stroke="#777" stroke-width="0.9" fill="none"/><path d="M453.0 269.4L458.0 274.4M453.0 274.4L458.0 269.4" stroke="#777" stroke-width="0.9" fill="none"/><path d="M448.6 299.4L453.6 304.4M448.6 304.4L453.6 299.4" stroke="#777" stroke-width="0.9" fill="none"/><path d="M449.8 310.0L454.8 315.0M449.8 315.0L454.8 310.0" stroke="#777" stroke-width="0.9" fill="none"/><path d="M450.7 307.3L455.7 312.3M450.7 312.3L455.7 307.3" stroke="#777" stroke-width="0.9" fill="none"/><path d="M449.5 264.9L454.5 269.9M449.5 269.9L454.5 264.9" stroke="#777" stroke-width="0.9" fill="none"/><path d="M454.1 247.4L459.1 252.4M454.1 252.4L459.1 247.4" stroke="#777" stroke-width="0.9" fill="none"/><path d="M450.3 292.4L455.3 297.4M450.3 297.4L455.3 292.4" stroke="#777" stroke-width="0.9" fill="none"/><path d="M454.2 273.9L459.2 278.9M454.2 278.9L459.2 273.9" stroke="#777" stroke-width="0.9" fill="none"/><path d="M457.9 253.3L462.9 258.3M457.9 258.3L462.9 253.3" stroke="#777" stroke-width="0.9" fill="none"/><path d="M449.9 306.9L454.9 311.9M449.9 311.9L454.9 306.9" stroke="#777" stroke-width="0.9" fill="none"/><path d="M444.4 331.0L449.4 336.0M444.4 336.0L449.4 331.0" stroke="#777" stroke-width="0.9" fill="none"/><path d="M451.2 261.3L456.2 266.3M451.2 266.3L456.2 261.3" stroke="#777" stroke-width="0.9" fill="none"/><path d="M451.8 250.1L456.8 255.1M451.8 255.1L456.8 250.1" stroke="#777" stroke-width="0.9" fill="none"/><path d="M448.8 312.6L453.8 317.6M448.8 317.6L453.8 312.6" stroke="#777" stroke-width="0.9" fill="none"/><path d="M452.6 274.1L457.6 279.1M452.6 279.1L457.6 274.1" stroke="#777" stroke-width="0.9" fill="none"/><path d="M456.8 255.1L461.8 260.1M456.8 260.1L461.8 255.1" stroke="#777" stroke-width="0.9" fill="none"/><path d="M450.5 264.0L455.5 269.0M450.5 269.0L455.5 264.0" stroke="#777" stroke-width="0.9" fill="none"/><path d="M454.7 262.8L459.7 267.8M454.7 267.8L459.7 262.8" stroke="#777" stroke-width="0.9" fill="none"/><path d="M445.3 335.2L450.3 340.2M445.3 340.2L450.3 335.2" stroke="#777" stroke-width="0.9" fill="none"/><path d="M452.8 252.1L457.8 257.1M452.8 257.1L457.8 252.1" stroke="#777" stroke-width="0.9" fill="none"/><path d="M449.5 284.9L454.5 289.9M449.5 289.9L454.5 284.9" stroke="#777" stroke-width="0.9" fill="none"/><path d="M441.4 350.3L446.4 355.3M441.4 355.3L446.4 350.3" stroke="#777" stroke-width="0.9" fill="none"/><path d="M451.1 298.4L456.1 303.4M451.1 303.4L456.1 298.4" stroke="#777" stroke-width="0.9" fill="none"/><path d="M441.4 352.0L446.4 357.0M441.4 357.0L446.4 352.0" stroke="#777" stroke-width="0.9" fill="none"/><path d="M451.3 294.7L456.3 299.7M451.3 299.7L456.3 294.7" stroke="#777" stroke-width="0.9" fill="none"/><path d="M451.1 249.7L456.1 254.7M451.1 254.7L456.1 249.7" stroke="#777" stroke-width="0.9" fill="none"/><path d="M442.5 341.6L447.5 346.6M442.5 346.6L447.5 341.6" stroke="#777" stroke-width="0.9" fill="none"/><path d="M449.8 287.9L454.8 292.9M449.8 292.9L454.8 287.9" stroke="#777" stroke-width="0.9" fill="none"/><path d="M448.8 291.3L453.8 296.3M448.8 296.3L453.8 291.3" stroke="#777" stroke-width="0.9" fill="none"/><path d="M459.5 249.2L464.5 254.2M459.5 254.2L464.5 249.2" stroke="#777" stroke-width="0.9" fill="none"/><path d="M446.6 327.9L451.6 332.9M446.6 332.9L451.6 327.9" stroke="#777" stroke-width="0.9" fill="none"/><path d="M450.2 270.3L455.2 275.3M450.2 275.3L455.2 270.3" stroke="#777" stroke-width="0.9" fill="none"/><path d="M449.2 305.1L454.2 310.1M449.2 310.1L454.2 305.1" stroke="#777" stroke-width="0.9" fill="none"/><path d="M452.0 295.3L457.0 300.3M452.0 300.3L457.0 295.3" stroke="#777" stroke-width="0.9" fill="none"/><path d="M450.2 284.8L455.2 289.8M450.2 289.8L455.2 284.8" stroke="#777" stroke-width="0.9" fill="none"/><path d="M442.2 351.5L447.2 356.5M442.2 356.5L447.2 351.5" stroke="#777" stroke-width="0.9" fill="none"/><path d="M452.8 249.8L457.8 254.8M452.8 254.8L457.8 249.8" stroke="#777" stroke-width="0.9" fill="none"/><path d="M446.9 315.7L451.9 320.7M446.9 320.7L451.9 315.7" stroke="#777" stroke-width="0.9" fill="none"/><path d="M452.3 282.6L457.3 287.6M452.3 287.6L457.3 282.6" stroke="#777" stroke-width="0.9" fill="none"/><path d="M444.1 338.9L449.1 343.9M444.1 343.9L449.1 338.9" stroke="#777" stroke-width="0.9" fill="none"/><path d="M443.4 341.2L448.4 346.2M443.4 346.2L448.4 341.2" stroke="#777" stroke-width="0.9" fill="none"/><path d="M452.3 287.9L457.3 292.9M452.3 292.9L457.3 287.9" stroke="#777" stroke-width="0.9" fill="none"/><path d="M452.1 286.7L457.1 291.7M452.1 291.7L457.1 286.7" stroke="#777" stroke-width="0.9" fill="none"/><path d="M451.1 268.8L456.1 273.8M451.1 273.8L456.1 268.8" stroke="#777" stroke-width="0.9" fill="none"/><path d="M453.1 265.3L458.1 270.3M453.1 270.3L458.1 265.3" stroke="#777" stroke-width="0.9" fill="none"/><path d="M450.0 263.2L455.0 268.2M450.0 268.2L455.0 263.2" stroke="#777" stroke-width="0.9" fill="none"/><path d="M452.1 268.7L457.1 273.7M452.1 273.7L457.1 268.7" stroke="#777" stroke-width="0.9" fill="none"/><path d="M451.2 278.8L456.2 283.8M451.2 283.8L456.2 278.8" stroke="#777" stroke-width="0.9" fill="none"/><path d="M442.1 352.8L447.1 357.8M442.1 357.8L447.1 352.8" stroke="#777" stroke-width="0.9" fill="none"/><path d="M443.0 338.7L448.0 343.7M443.0 343.7L448.0 338.7" stroke="#777" stroke-width="0.9" fill="none"/><path d="M448.8 286.9L453.8 291.9M448.8 291.9L453.8 286.9" stroke="#777" stroke-width="0.9" fill="none"/><path d="M446.8 320.2L451.8 325.2M446.8 325.2L451.8 320.2" stroke="#777" stroke-width="0.9" fill="none"/><path d="M448.3 275.1L453.3 280.1M448.3 280.1L453.3 275.1" stroke="#777" stroke-width="0.9" fill="none"/><path d="M450.5 265.2L455.5 270.2M450.5 270.2L455.5 265.2" stroke="#777" stroke-width="0.9" fill="none"/><path d="M452.6 287.9L457.6 292.9M452.6 292.9L457.6 287.9" stroke="#777" stroke-width="0.9" fill="none"/><path d="M446.0 322.7L451.0 327.7M446.0 327.7L451.0 322.7" stroke="#777" stroke-width="0.9" fill="none"/><path d="M449.2 284.5L454.2 289.5M449.2 289.5L454.2 284.5" stroke="#777" stroke-width="0.9" fill="none"/><path d="M442.4 346.7L447.4 351.7M442.4 351.7L447.4 346.7" stroke="#777" stroke-width="0.9" fill="none"/><path d="M446.5 328.2L451.5 333.2M446.5 333.2L451.5 328.2" stroke="#777" stroke-width="0.9" fill="none"/><path d="M442.0 343.5L447.0 348.5M442.0 348.5L447.0 343.5" stroke="#777" stroke-width="0.9" fill="none"/><path d="M450.7 280.3L455.7 285.3M450.7 285.3L455.7 280.3" stroke="#777" stroke-width="0.9" fill="none"/><path d="M457.5 254.5L462.5 259.5M457.5 259.5L462.5 254.5" stroke="#777" stroke-width="0.9" fill="none"/><path d="M453.0 280.6L458.0 285.6M453.0 285.6L458.0 280.6" stroke="#777" stroke-width="0.9" fill="none"/><path d="M448.7 301.6L453.7 306.6M448.7 306.6L453.7 301.6" stroke="#777" stroke-width="0.9" fill="none"/><path d="M449.6 288.0L454.6 293.0M449.6 293.0L454.6 288.0" stroke="#777" stroke-width="0.9" fill="none"/><path d="M450.1 249.9L455.1 254.9M450.1 254.9L455.1 249.9" stroke="#777" stroke-width="0.9" fill="none"/><path d="M448.1 309.8L453.1 314.8M448.1 314.8L453.1 309.8" stroke="#777" stroke-width="0.9" fill="none"/><path d="M451.0 279.2L456.0 284.2M451.0 284.2L456.0 279.2" stroke="#777" stroke-width="0.9" fill="none"/><path d="M448.9 304.3L453.9 309.3M448.9 309.3L453.9 304.3" stroke="#777" stroke-width="0.9" fill="none"/><path d="M446.2 321.8L451.2 326.8M446.2 326.8L451.2 321.8" stroke="#777" stroke-width="0.9" fill="none"/><path d="M447.1 323.9L452.1 328.9M447.1 328.9L452.1 323.9" stroke="#777" stroke-width="0.9" fill="none"/><path d="M450.1 261.4L455.1 266.4M450.1 266.4L455.1 261.4" stroke="#777" stroke-width="0.9" fill="none"/><path d="M453.3 275.8L458.3 280.8M453.3 280.8L458.3 275.8" stroke="#777" stroke-width="0.9" fill="none"/><path d="M450.2 289.3L455.2 294.3M450.2 294.3L455.2 289.3" stroke="#777" stroke-width="0.9" fill="none"/><path d="M443.0 339.0L448.0 344.0M443.0 344.0L448.0 339.0" stroke="#777" stroke-width="0.9" fill="none"/><path d="M450.6 277.0L455.6 282.0M450.6 282.0L455.6 277.0" stroke="#777" stroke-width="0.9" fill="none"/><path d="M448.4 268.8L453.4 273.8M448.4 273.8L453.4 268.8" stroke="#777" stroke-width="0.9" fill="none"/><path d="M455.5 248.1L460.5 253.1M455.5 253.1L460.5 248.1" stroke="#777" stroke-width="0.9" fill="none"/><path d="M450.6 306.6L455.6 311.6M450.6 311.6L455.6 306.6" stroke="#777" stroke-width="0.9" fill="none"/><path d="M441.8 350.9L446.8 355.9M441.8 355.9L446.8 350.9" stroke="#777" stroke-width="0.9" fill="none"/><path d="M449.0 317.9L454.0 322.9M449.0 322.9L454.0 317.9" stroke="#777" stroke-width="0.9" fill="none"/><path d="M454.0 268.9L459.0 273.9M454.0 273.9L459.0 268.9" stroke="#777" stroke-width="0.9" fill="none"/><path d="M449.2 317.5L454.2 322.5M449.2 322.5L454.2 317.5" stroke="#777" stroke-width="0.9" fill="none"/><path d="M443.0 339.3L448.0 344.3M443.0 344.3L448.0 339.3" stroke="#777" stroke-width="0.9" fill="none"/><path d="M447.4 313.8L452.4 318.8M447.4 318.8L452.4 313.8" stroke="#777" stroke-width="0.9" fill="none"/><path d="M450.1 291.7L455.1 296.7M450.1 296.7L455.1 291.7" stroke="#777" stroke-width="0.9" fill="none"/><path d="M452.5 252.0L457.5 257.0M452.5 257.0L457.5 252.0" stroke="#777" stroke-width="0.9" fill="none"/><path d="M451.3 280.9L456.3 285.9M451.3 285.9L456.3 280.9" stroke="#777" stroke-width="0.9" fill="none"/><path d="M449.3 275.7L454.3 280.7M449.3 280.7L454.3 275.7" stroke="#777" stroke-width="0.9" fill="none"/><path d="M450.6 289.0L455.6 294.0M450.6 294.0L455.6 289.0" stroke="#777" stroke-width="0.9" fill="none"/><path d="M454.4 263.5L459.4 268.5M454.4 268.5L459.4 263.5" stroke="#777" stroke-width="0.9" fill="none"/><path d="M448.9 271.4L453.9 276.4M448.9 276.4L453.9 271.4" stroke="#777" stroke-width="0.9" fill="none"/><path d="M450.8 282.4L455.8 287.4M450.8 287.4L455.8 282.4" stroke="#777" stroke-width="0.9" fill="none"/><path d="M453.8 261.8L458.8 266.8M453.8 266.8L458.8 261.8" stroke="#777" stroke-width="0.9" fill="none"/><path d="M447.3 321.2L452.3 326.2M447.3 326.2L452.3 321.2" stroke="#777" stroke-width="0.9" fill="none"/><path d="M445.5 321.1L450.5 326.1M445.5 326.1L450.5 321.1" stroke="#777" stroke-width="0.9" fill="none"/><path d="M450.1 287.8L455.1 292.8M450.1 292.8L455.1 287.8" stroke="#777" stroke-width="0.9" fill="none"/><path d="M452.7 252.3L457.7 257.3M452.7 257.3L457.7 252.3" stroke="#777" stroke-width="0.9" fill="none"/><path d="M453.7 251.4L458.7 256.4M453.7 256.4L458.7 251.4" stroke="#777" stroke-width="0.9" fill="none"/><path d="M449.4 308.8L454.4 313.8M449.4 313.8L454.4 308.8" stroke="#777" stroke-width="0.9" fill="none"/><path d="M449.9 280.7L454.9 285.7M449.9 285.7L454.9 280.7" stroke="#777" stroke-width="0.9" fill="none"/><path d="M452.3 250.5H457.3M454.8 248.0V253.0" stroke="#a8a8a8" stroke-width="0.9" fill="none"/><path d="M443.6 344.3H448.6M446.1 341.8V346.8" stroke="#a8a8a8" stroke-width="0.9" fill="none"/><path d="M453.2 276.3H458.2M455.7 273.8V278.8" stroke="#a8a8a8" stroke-width="0.9" fill="none"/><path d="M452.4 268.1H457.4M454.9 265.6V270.6" stroke="#a8a8a8" stroke-width="0.9" fill="none"/><path d="M450.1 314.4H455.1M452.6 311.9V316.9" stroke="#a8a8a8" stroke-width="0.9" fill="none"/><path d="M451.4 287.2H456.4M453.9 284.7V289.7" stroke="#a8a8a8" stroke-width="0.9" fill="none"/><path d="M443.2 349.8H448.2M445.7 347.3V352.3" stroke="#a8a8a8" stroke-width="0.9" fill="none"/><path d="M449.0 315.8H454.0M451.5 313.3V318.3" stroke="#a8a8a8" stroke-width="0.9" fill="none"/><path d="M450.3 292.4H455.3M452.8 289.9V294.9" stroke="#a8a8a8" stroke-width="0.9" fill="none"/><path d="M454.2 277.8H459.2M456.7 275.3V280.3" stroke="#a8a8a8" stroke-width="0.9" fill="none"/><path d="M443.3 343.0H448.3M445.8 340.5V345.5" stroke="#a8a8a8" stroke-width="0.9" fill="none"/><path d="M442.0 346.2H447.0M444.5 343.7V348.7" stroke="#a8a8a8" stroke-width="0.9" fill="none"/><path d="M453.2 262.7H458.2M455.7 260.2V265.2" stroke="#a8a8a8" stroke-width="0.9" fill="none"/><path d="M450.6 281.3H455.6M453.1 278.8V283.8" stroke="#a8a8a8" stroke-width="0.9" fill="none"/><path d="M441.5 353.5H446.5M444.0 351.0V356.0" stroke="#a8a8a8" stroke-width="0.9" fill="none"/><path d="M450.1 268.8H455.1M452.6 266.3V271.3" stroke="#a8a8a8" stroke-width="0.9" fill="none"/><path d="M446.7 321.5H451.7M449.2 319.0V324.0" stroke="#a8a8a8" stroke-width="0.9" fill="none"/><path d="M454.7 248.1H459.7M457.2 245.6V250.6" stroke="#a8a8a8" stroke-width="0.9" fill="none"/><path d="M449.6 290.5H454.6M452.1 288.0V293.0" stroke="#a8a8a8" stroke-width="0.9" fill="none"/><path d="M450.7 301.3H455.7M453.2 298.8V303.8" stroke="#a8a8a8" stroke-width="0.9" fill="none"/><path d="M450.2 307.2H455.2M452.7 304.7V309.7" stroke="#a8a8a8" stroke-width="0.9" fill="none"/><path d="M450.7 308.6H455.7M453.2 306.1V311.1" stroke="#a8a8a8" stroke-width="0.9" fill="none"/><path d="M441.9 352.6H446.9M444.4 350.1V355.1" stroke="#a8a8a8" stroke-width="0.9" fill="none"/><path d="M453.3 285.4H458.3M455.8 282.9V287.9" stroke="#a8a8a8" stroke-width="0.9" fill="none"/><path d="M452.8 281.8H457.8M455.3 279.3V284.3" stroke="#a8a8a8" stroke-width="0.9" fill="none"/><path d="M447.8 323.1H452.8M450.3 320.6V325.6" stroke="#a8a8a8" stroke-width="0.9" fill="none"/><path d="M442.9 352.1H447.9M445.4 349.6V354.6" stroke="#a8a8a8" stroke-width="0.9" fill="none"/><path d="M454.0 265.2H459.0M456.5 262.7V267.7" stroke="#a8a8a8" stroke-width="0.9" fill="none"/><path d="M450.4 301.0H455.4M452.9 298.5V303.5" stroke="#a8a8a8" stroke-width="0.9" fill="none"/><path d="M449.9 287.9H454.9M452.4 285.4V290.4" stroke="#a8a8a8" stroke-width="0.9" fill="none"/><path d="M446.2 328.9H451.2M448.7 326.4V331.4" stroke="#a8a8a8" stroke-width="0.9" fill="none"/><path d="M450.1 273.6H455.1M452.6 271.1V276.1" stroke="#a8a8a8" stroke-width="0.9" fill="none"/><path d="M449.4 283.1H454.4M451.9 280.6V285.6" stroke="#a8a8a8" stroke-width="0.9" fill="none"/><path d="M448.9 303.5H453.9M451.4 301.0V306.0" stroke="#a8a8a8" stroke-width="0.9" fill="none"/><path d="M449.1 254.8H454.1M451.6 252.3V257.3" stroke="#a8a8a8" stroke-width="0.9" fill="none"/><path d="M455.5 259.0H460.5M458.0 256.5V261.5" stroke="#a8a8a8" stroke-width="0.9" fill="none"/><path d="M452.8 260.2H457.8M455.3 257.7V262.7" stroke="#a8a8a8" stroke-width="0.9" fill="none"/><path d="M445.5 331.4H450.5M448.0 328.9V333.9" stroke="#a8a8a8" stroke-width="0.9" fill="none"/><path d="M456.3 265.6H461.3M458.8 263.1V268.1" stroke="#a8a8a8" stroke-width="0.9" fill="none"/><path d="M442.5 341.9H447.5M445.0 339.4V344.4" stroke="#a8a8a8" stroke-width="0.9" fill="none"/><path d="M452.1 275.4H457.1M454.6 272.9V277.9" stroke="#a8a8a8" stroke-width="0.9" fill="none"/><path d="M444.8 334.0H449.8M447.3 331.5V336.5" stroke="#a8a8a8" stroke-width="0.9" fill="none"/><path d="M445.9 325.3H450.9M448.4 322.8V327.8" stroke="#a8a8a8" stroke-width="0.9" fill="none"/><path d="M446.2 325.3H451.2M448.7 322.8V327.8" stroke="#a8a8a8" stroke-width="0.9" fill="none"/><path d="M452.8 284.1H457.8M455.3 281.6V286.6" stroke="#a8a8a8" stroke-width="0.9" fill="none"/><path d="M445.2 339.0H450.2M447.7 336.5V341.5" stroke="#a8a8a8" stroke-width="0.9" fill="none"/><path d="M449.6 309.3H454.6M452.1 306.8V311.8" stroke="#a8a8a8" stroke-width="0.9" fill="none"/><path d="M447.4 324.3H452.4M449.9 321.8V326.8" stroke="#a8a8a8" stroke-width="0.9" fill="none"/><path d="M445.4 337.7H450.4M447.9 335.2V340.2" stroke="#a8a8a8" stroke-width="0.9" fill="none"/><path d="M451.9 261.5H456.9M454.4 259.0V264.0" stroke="#a8a8a8" stroke-width="0.9" fill="none"/><path d="M446.9 320.3H451.9M449.4 317.8V322.8" stroke="#a8a8a8" stroke-width="0.9" fill="none"/><path d="M448.2 267.9H453.2M450.7 265.4V270.4" stroke="#a8a8a8" stroke-width="0.9" fill="none"/><path d="M450.6 311.2H455.6M453.1 308.7V313.7" stroke="#a8a8a8" stroke-width="0.9" fill="none"/><path d="M441.5 352.8H446.5M444.0 350.3V355.3" stroke="#a8a8a8" stroke-width="0.9" fill="none"/><path d="M447.1 322.3H452.1M449.6 319.8V324.8" stroke="#a8a8a8" stroke-width="0.9" fill="none"/><path d="M448.3 316.2H453.3M450.8 313.7V318.7" stroke="#a8a8a8" stroke-width="0.9" fill="none"/><path d="M443.8 348.8H448.8M446.3 346.3V351.3" stroke="#a8a8a8" stroke-width="0.9" fill="none"/><path d="M456.2 253.3H461.2M458.7 250.8V255.8" stroke="#a8a8a8" stroke-width="0.9" fill="none"/><path d="M448.6 260.8H453.6M451.1 258.3V263.3" stroke="#a8a8a8" stroke-width="0.9" fill="none"/><path d="M453.3 278.9H458.3M455.8 276.4V281.4" stroke="#a8a8a8" stroke-width="0.9" fill="none"/><path d="M441.3 355.3H446.3M443.8 352.8V357.8" stroke="#a8a8a8" stroke-width="0.9" fill="none"/><path d="M448.5 283.6H453.5M451.0 281.1V286.1" stroke="#a8a8a8" stroke-width="0.9" fill="none"/><path d="M449.9 306.6H454.9M452.4 304.1V309.1" stroke="#a8a8a8" stroke-width="0.9" fill="none"/><path d="M450.0 288.3H455.0M452.5 285.8V290.8" stroke="#a8a8a8" stroke-width="0.9" fill="none"/><path d="M446.1 334.5H451.1M448.6 332.0V337.0" stroke="#a8a8a8" stroke-width="0.9" fill="none"/><path d="M451.0 278.6H456.0M453.5 276.1V281.1" stroke="#a8a8a8" stroke-width="0.9" fill="none"/><path d="M449.6 314.7H454.6M452.1 312.2V317.2" stroke="#a8a8a8" stroke-width="0.9" fill="none"/><path d="M441.9 353.9H446.9M444.4 351.4V356.4" stroke="#a8a8a8" stroke-width="0.9" fill="none"/><path d="M447.4 323.0H452.4M449.9 320.5V325.5" stroke="#a8a8a8" stroke-width="0.9" fill="none"/><path d="M443.9 334.4H448.9M446.4 331.9V336.9" stroke="#a8a8a8" stroke-width="0.9" fill="none"/><path d="M449.1 266.9H454.1M451.6 264.4V269.4" stroke="#a8a8a8" stroke-width="0.9" fill="none"/><path d="M442.2 348.8H447.2M444.7 346.3V351.3" stroke="#a8a8a8" stroke-width="0.9" fill="none"/><path d="M448.9 300.7H453.9M451.4 298.2V303.2" stroke="#a8a8a8" stroke-width="0.9" fill="none"/><path d="M448.4 283.0H453.4M450.9 280.5V285.5" stroke="#a8a8a8" stroke-width="0.9" fill="none"/><path d="M448.9 309.1H453.9M451.4 306.6V311.6" stroke="#a8a8a8" stroke-width="0.9" fill="none"/><path d="M448.0 315.5H453.0M450.5 313.0V318.0" stroke="#a8a8a8" stroke-width="0.9" fill="none"/><path d="M452.1 272.6H457.1M454.6 270.1V275.1" stroke="#a8a8a8" stroke-width="0.9" fill="none"/><path d="M449.8 287.5H454.8M452.3 285.0V290.0" stroke="#a8a8a8" stroke-width="0.9" fill="none"/><path d="M449.1 253.5H454.1M451.6 251.0V256.0" stroke="#a8a8a8" stroke-width="0.9" fill="none"/><path d="M442.9 344.4H447.9M445.4 341.9V346.9" stroke="#a8a8a8" stroke-width="0.9" fill="none"/><circle cx="452.7" cy="256.5" r="2.25" stroke="#b0b0b0" stroke-width="0.9" fill="none"/><circle cx="454.5" cy="300.2" r="2.25" stroke="#b0b0b0" stroke-width="0.9" fill="none"/><circle cx="458.3" cy="269.8" r="2.25" stroke="#b0b0b0" stroke-width="0.9" fill="none"/><circle cx="452.4" cy="300.3" r="2.25" stroke="#b0b0b0" stroke-width="0.9" fill="none"/><circle cx="447.1" cy="335.2" r="2.25" stroke="#b0b0b0" stroke-width="0.9" fill="none"/><circle cx="456.8" cy="254.2" r="2.25" stroke="#b0b0b0" stroke-width="0.9" fill="none"/><circle cx="450.9" cy="318.9" r="2.25" stroke="#b0b0b0" stroke-width="0.9" fill="none"/><circle cx="457.5" cy="277.9" r="2.25" stroke="#b0b0b0" stroke-width="0.9" fill="none"/><circle cx="447.7" cy="341.4" r="2.25" stroke="#b0b0b0" stroke-width="0.9" fill="none"/><circle cx="454.3" cy="295.9" r="2.25" stroke="#b0b0b0" stroke-width="0.9" fill="none"/><circle cx="448.0" cy="326.3" r="2.25" stroke="#b0b0b0" stroke-width="0.9" fill="none"/><circle cx="452.8" cy="250.9" r="2.25" stroke="#b0b0b0" stroke-width="0.9" fill="none"/><circle cx="451.5" cy="260.8" r="2.25" stroke="#b0b0b0" stroke-width="0.9" fill="none"/><circle cx="454.9" cy="286.8" r="2.25" stroke="#b0b0b0" stroke-width="0.9" fill="none"/><circle cx="454.1" cy="281.5" r="2.25" stroke="#b0b0b0" stroke-width="0.9" fill="none"/><circle cx="453.4" cy="249.1" r="2.25" stroke="#b0b0b0" stroke-width="0.9" fill="none"/><circle cx="443.9" cy="351.6" r="2.25" stroke="#b0b0b0" stroke-width="0.9" fill="none"/><circle cx="453.4" cy="304.9" r="2.25" stroke="#b0b0b0" stroke-width="0.9" fill="none"/><circle cx="448.5" cy="333.6" r="2.25" stroke="#b0b0b0" stroke-width="0.9" fill="none"/><circle cx="454.5" cy="291.1" r="2.25" stroke="#b0b0b0" stroke-width="0.9" fill="none"/><circle cx="447.8" cy="337.4" r="2.25" stroke="#b0b0b0" stroke-width="0.9" fill="none"/><circle cx="443.8" cy="354.5" r="2.25" stroke="#b0b0b0" stroke-width="0.9" fill="none"/><circle cx="444.8" cy="350.6" r="2.25" stroke="#b0b0b0" stroke-width="0.9" fill="none"/><circle cx="448.7" cy="324.2" r="2.25" stroke="#b0b0b0" stroke-width="0.9" fill="none"/><circle cx="444.5" cy="346.2" r="2.25" stroke="#b0b0b0" stroke-width="0.9" fill="none"/><path d="M414.2 247.0L414.2 250.3L414.2 259.1L414.7 267.8L415.7 276.6L413.7 285.4L413.2 294.1L412.7 302.9L411.7 311.7L410.7 320.5L409.7 329.2L409.7 338.0L410.7 346.8L410.5 354.0L417.5 354.0L417.3 346.8L416.3 338.0L416.3 329.2L417.3 320.5L418.3 311.7L419.3 302.9L419.8 294.1L420.3 285.4L422.3 276.6L421.3 267.8L420.8 259.1L420.8 250.3L420.8 247.0Z" fill="#c6c6c6" opacity="1"/><path d="M411.8 306.9H416.3L414.1 310.7Z" stroke="#adadad" stroke-width="0.8" fill="#b2b2b2"/><path d="M414.0 286.8H418.5L416.2 290.6Z" stroke="#adadad" stroke-width="0.8" fill="#b2b2b2"/><path d="M413.5 315.5H418.0L415.8 319.3Z" stroke="#adadad" stroke-width="0.8" fill="#b2b2b2"/><path d="M415.3 284.2H419.8L417.6 288.0Z" stroke="#adadad" stroke-width="0.8" fill="#b2b2b2"/><path d="M413.8 283.1H418.3L416.1 286.9Z" stroke="#adadad" stroke-width="0.8" fill="#b2b2b2"/><path d="M410.6 342.1H415.1L412.8 345.9Z" stroke="#adadad" stroke-width="0.8" fill="#b2b2b2"/><path d="M414.5 255.3H419.0L416.7 259.1Z" stroke="#adadad" stroke-width="0.8" fill="#b2b2b2"/><path d="M409.8 324.6H414.3L412.0 328.4Z" stroke="#adadad" stroke-width="0.8" fill="#b2b2b2"/><path d="M411.3 324.7H415.8L413.5 328.5Z" stroke="#adadad" stroke-width="0.8" fill="#b2b2b2"/><path d="M410.3 318.0H414.8L412.6 321.8Z" stroke="#adadad" stroke-width="0.8" fill="#b2b2b2"/><path d="M413.6 256.5H418.1L415.9 260.3Z" stroke="#adadad" stroke-width="0.8" fill="#b2b2b2"/><path d="M414.6 282.7H419.1L416.9 286.5Z" stroke="#adadad" stroke-width="0.8" fill="#b2b2b2"/><path d="M415.3 246.2H419.8L417.5 250.0Z" stroke="#adadad" stroke-width="0.8" fill="#b2b2b2"/><path d="M413.7 288.4H418.2L415.9 292.2Z" stroke="#adadad" stroke-width="0.8" fill="#b2b2b2"/><path d="M415.7 302.7H420.2L417.9 306.5Z" stroke="#adadad" stroke-width="0.8" fill="#b2b2b2"/><path d="M417.6 267.1H422.1L419.9 270.9Z" stroke="#adadad" stroke-width="0.8" fill="#b2b2b2"/><path d="M416.8 279.5H421.3L419.1 283.4Z" stroke="#adadad" stroke-width="0.8" fill="#b2b2b2"/><path d="M417.5 256.8H422.0L419.7 260.6Z" stroke="#adadad" stroke-width="0.8" fill="#b2b2b2"/><path d="M416.4 291.2H420.9L418.7 295.0Z" stroke="#adadad" stroke-width="0.8" fill="#b2b2b2"/><path d="M415.6 268.7H420.1L417.9 272.5Z" stroke="#adadad" stroke-width="0.8" fill="#b2b2b2"/><path d="M410.0 320.7H414.5L412.3 324.6Z" stroke="#adadad" stroke-width="0.8" fill="#b2b2b2"/><path d="M417.5 274.5H422.0L419.8 278.3Z" stroke="#adadad" stroke-width="0.8" fill="#b2b2b2"/><path d="M410.9 346.6H415.4L413.2 350.4Z" stroke="#adadad" stroke-width="0.8" fill="#b2b2b2"/><path d="M415.0 264.8H419.5L417.3 268.7Z" stroke="#adadad" stroke-width="0.8" fill="#b2b2b2"/><path d="M410.0 351.1H414.5L412.3 354.9Z" stroke="#adadad" stroke-width="0.8" fill="#b2b2b2"/><path d="M411.8 313.1H416.3L414.1 316.9Z" stroke="#adadad" stroke-width="0.8" fill="#b2b2b2"/><path d="M410.9 314.1H415.4L413.2 317.9Z" stroke="#adadad" stroke-width="0.8" fill="#b2b2b2"/><path d="M414.4 311.1H418.9L416.6 315.0Z" stroke="#adadad" stroke-width="0.8" fill="#b2b2b2"/><path d="M411.4 336.8H415.9L413.7 340.7Z" stroke="#adadad" stroke-width="0.8" fill="#b2b2b2"/><path d="M414.2 299.2H418.7L416.4 303.0Z" stroke="#adadad" stroke-width="0.8" fill="#b2b2b2"/><path d="M416.8 257.4H421.3L419.1 261.2Z" stroke="#adadad" stroke-width="0.8" fill="#b2b2b2"/><path d="M411.5 319.0H416.0L413.7 322.8Z" stroke="#adadad" stroke-width="0.8" fill="#b2b2b2"/><path d="M411.6 316.4H416.1L413.9 320.2Z" stroke="#adadad" stroke-width="0.8" fill="#b2b2b2"/><path d="M413.3 286.4H417.8L415.6 290.2Z" stroke="#adadad" stroke-width="0.8" fill="#b2b2b2"/><path d="M413.1 309.5H417.6L415.4 313.3Z" stroke="#adadad" stroke-width="0.8" fill="#b2b2b2"/><path d="M411.6 300.3H416.1L413.9 304.2Z" stroke="#adadad" stroke-width="0.8" fill="#b2b2b2"/><path d="M412.2 312.3H416.7L414.5 316.1Z" stroke="#adadad" stroke-width="0.8" fill="#b2b2b2"/><path d="M413.3 308.7H417.8L415.6 312.5Z" stroke="#adadad" stroke-width="0.8" fill="#b2b2b2"/><path d="M410.1 344.9H414.6L412.4 348.7Z" stroke="#adadad" stroke-width="0.8" fill="#b2b2b2"/><path d="M416.3 295.3H420.8L418.6 299.2Z" stroke="#adadad" stroke-width="0.8" fill="#b2b2b2"/><path d="M410.3 324.2H414.8L412.5 328.0Z" stroke="#adadad" stroke-width="0.8" fill="#b2b2b2"/><path d="M413.4 324.0H417.9L415.6 327.9Z" stroke="#adadad" stroke-width="0.8" fill="#b2b2b2"/><path d="M416.2 288.2H420.7L418.4 292.0Z" stroke="#adadad" stroke-width="0.8" fill="#b2b2b2"/><path d="M417.6 258.8H422.1L419.8 262.6Z" stroke="#adadad" stroke-width="0.8" fill="#b2b2b2"/><path d="M412.7 297.7H417.2L415.0 301.6Z" stroke="#adadad" stroke-width="0.8" fill="#b2b2b2"/><path d="M411.4 335.1H415.9L413.7 338.9Z" stroke="#adadad" stroke-width="0.8" fill="#b2b2b2"/><path d="M413.3 345.5H417.8L415.5 349.4Z" stroke="#adadad" stroke-width="0.8" fill="#b2b2b2"/><path d="M410.8 330.6H415.3L413.1 334.4Z" stroke="#adadad" stroke-width="0.8" fill="#b2b2b2"/><path d="M409.6 351.5H414.1L411.8 355.3Z" stroke="#adadad" stroke-width="0.8" fill="#b2b2b2"/><path d="M412.0 338.3H416.5L414.2 342.1Z" stroke="#adadad" stroke-width="0.8" fill="#b2b2b2"/><path d="M417.8 272.0H422.3L420.1 275.9Z" stroke="#adadad" stroke-width="0.8" fill="#b2b2b2"/><path d="M414.3 293.8H418.8L416.6 297.6Z" stroke="#adadad" stroke-width="0.8" fill="#b2b2b2"/><path d="M409.5 337.8H414.0L411.8 341.6Z" stroke="#adadad" stroke-width="0.8" fill="#b2b2b2"/><path d="M417.3 275.1H421.8L419.6 278.9Z" stroke="#adadad" stroke-width="0.8" fill="#b2b2b2"/><path d="M415.5 253.1H420.0L417.8 256.9Z" stroke="#adadad" stroke-width="0.8" fill="#b2b2b2"/><path d="M410.7 329.4H415.2L413.0 333.2Z" stroke="#adadad" stroke-width="0.8" fill="#b2b2b2"/><path d="M417.7 271.1H422.2L420.0 274.9Z" stroke="#adadad" stroke-width="0.8" fill="#b2b2b2"/><path d="M412.1 336.7H416.6L414.3 340.5Z" stroke="#adadad" stroke-width="0.8" fill="#b2b2b2"/><path d="M415.3 304.0H419.8L417.5 307.8Z" stroke="#adadad" stroke-width="0.8" fill="#b2b2b2"/><path d="M409.1 330.5H413.6L411.4 334.3Z" stroke="#adadad" stroke-width="0.8" fill="#b2b2b2"/><path d="M417.5 356.3H423.5L420.5 361.4Z" stroke="#c2c2c2" stroke-width="0.8" fill="#c2c2c2"/><path d="M418.3 359.6H424.3L421.3 364.7Z" stroke="#c2c2c2" stroke-width="0.8" fill="#c2c2c2"/><path d="M417.5 365.1H423.5L420.5 370.2Z" stroke="#c2c2c2" stroke-width="0.8" fill="#c2c2c2"/><path d="M418.3 368.4H424.3L421.3 373.5Z" stroke="#c2c2c2" stroke-width="0.8" fill="#c2c2c2"/><path d="M412.5 373.9H418.5L415.5 379.0Z" stroke="#a9a9a9" stroke-width="0.8" fill="#a9a9a9"/><path d="M411.0 382.7H417.0L414.0 387.8Z" stroke="#a9a9a9" stroke-width="0.8" fill="#a9a9a9"/><path d="M411.0 391.4H417.0L414.0 396.5Z" stroke="#a9a9a9" stroke-width="0.8" fill="#a9a9a9"/><path d="M416.5 400.2H422.5L419.5 405.3Z" stroke="#a9a9a9" stroke-width="0.8" fill="#a9a9a9"/><rect x="422.0" y="186.9" width="4.3" height="4.3" stroke="#000" stroke-width="0" fill="#000"/><rect x="421.0" y="187.7" width="4.3" height="4.3" stroke="#000" stroke-width="0" fill="#000"/><rect x="421.5" y="188.8" width="4.3" height="4.3" stroke="#000" stroke-width="0" fill="#000"/><rect x="420.0" y="188.9" width="4.3" height="4.3" stroke="#000" stroke-width="0" fill="#000"/><rect x="419.8" y="190.0" width="4.3" height="4.3" stroke="#000" stroke-width="0" fill="#000"/><rect x="419.5" y="190.7" width="4.3" height="4.3" stroke="#000" stroke-width="0" fill="#000"/><rect x="419.8" y="190.3" width="3.7" height="3.7" stroke="#000" stroke-width="0" fill="#000"/><rect x="419.4" y="191.1" width="3.7" height="3.7" stroke="#000" stroke-width="0" fill="#000"/><rect x="419.2" y="192.0" width="3.7" height="3.7" stroke="#000" stroke-width="0" fill="#000"/><rect x="418.5" y="192.8" width="3.7" height="3.7" stroke="#000" stroke-width="0" fill="#000"/><rect x="418.1" y="193.5" width="3.7" height="3.7" stroke="#000" stroke-width="0" fill="#000"/><rect x="417.8" y="194.4" width="3.7" height="3.7" stroke="#000" stroke-width="0" fill="#000"/><rect x="417.7" y="195.1" width="3.7" height="3.7" stroke="#000" stroke-width="0" fill="#000"/><rect x="417.4" y="196.1" width="3.7" height="3.7" stroke="#000" stroke-width="0" fill="#000"/><rect x="417.0" y="196.6" width="3.7" height="3.7" stroke="#000" stroke-width="0" fill="#000"/><rect x="416.9" y="197.6" width="3.7" height="3.7" stroke="#000" stroke-width="0" fill="#000"/><rect x="416.5" y="198.2" width="3.7" height="3.7" stroke="#000" stroke-width="0" fill="#000"/><rect x="416.5" y="199.2" width="3.7" height="3.7" stroke="#000" stroke-width="0" fill="#000"/><rect x="416.1" y="199.9" width="3.7" height="3.7" stroke="#000" stroke-width="0" fill="#000"/><rect x="416.2" y="201.0" width="3.7" height="3.7" stroke="#000" stroke-width="0" fill="#000"/><rect x="415.9" y="201.7" width="3.7" height="3.7" stroke="#000" stroke-width="0" fill="#000"/><rect x="415.6" y="202.6" width="3.7" height="3.7" stroke="#000" stroke-width="0" fill="#000"/><rect x="415.3" y="203.6" width="3.7" height="3.7" stroke="#000" stroke-width="0" fill="#000"/><rect x="415.3" y="204.5" width="3.7" height="3.7" stroke="#000" stroke-width="0" fill="#000"/><rect x="415.1" y="205.3" width="3.7" height="3.7" stroke="#000" stroke-width="0" fill="#000"/><rect x="415.0" y="206.3" width="3.7" height="3.7" stroke="#000" stroke-width="0" fill="#000"/><rect x="414.8" y="207.0" width="3.7" height="3.7" stroke="#000" stroke-width="0" fill="#000"/><rect x="414.6" y="207.8" width="3.7" height="3.7" stroke="#000" stroke-width="0" fill="#000"/><rect x="414.6" y="208.7" width="3.7" height="3.7" stroke="#000" stroke-width="0" fill="#000"/><rect x="414.5" y="209.5" width="3.7" height="3.7" stroke="#000" stroke-width="0" fill="#000"/><rect x="414.5" y="210.1" width="3.7" height="3.7" stroke="#000" stroke-width="0" fill="#000"/><rect x="414.5" y="210.9" width="3.7" height="3.7" stroke="#000" stroke-width="0" fill="#000"/><rect x="414.3" y="211.8" width="3.7" height="3.7" stroke="#000" stroke-width="0" fill="#000"/><rect x="414.1" y="212.4" width="3.7" height="3.7" stroke="#000" stroke-width="0" fill="#000"/><rect x="414.0" y="213.3" width="3.7" height="3.7" stroke="#000" stroke-width="0" fill="#000"/><rect x="413.9" y="214.3" width="3.7" height="3.7" stroke="#000" stroke-width="0" fill="#000"/><rect x="413.8" y="215.1" width="3.7" height="3.7" stroke="#000" stroke-width="0" fill="#000"/><rect x="414.0" y="215.7" width="3.7" height="3.7" stroke="#000" stroke-width="0" fill="#000"/><rect x="413.8" y="216.5" width="3.7" height="3.7" stroke="#000" stroke-width="0" fill="#000"/><rect x="414.0" y="217.4" width="3.7" height="3.7" stroke="#000" stroke-width="0" fill="#000"/><rect x="413.8" y="218.3" width="3.7" height="3.7" stroke="#000" stroke-width="0" fill="#000"/><rect x="413.9" y="219.4" width="3.7" height="3.7" stroke="#000" stroke-width="0" fill="#000"/><rect x="413.8" y="220.1" width="3.7" height="3.7" stroke="#000" stroke-width="0" fill="#000"/><rect x="413.5" y="221.1" width="3.7" height="3.7" stroke="#000" stroke-width="0" fill="#000"/><rect x="413.5" y="221.7" width="3.7" height="3.7" stroke="#000" stroke-width="0" fill="#000"/><rect x="413.6" y="222.7" width="3.7" height="3.7" stroke="#000" stroke-width="0" fill="#000"/><rect x="413.7" y="223.4" width="3.7" height="3.7" stroke="#000" stroke-width="0" fill="#000"/><rect x="413.7" y="224.5" width="3.7" height="3.7" stroke="#000" stroke-width="0" fill="#000"/><rect x="413.4" y="225.2" width="3.7" height="3.7" stroke="#000" stroke-width="0" fill="#000"/><path d="M463.1 190.5L466.9 194.3M463.1 194.3L466.9 190.5" stroke="#000" stroke-width="1.6" fill="none"/><path d="M466.6 190.9L470.4 194.7M466.6 194.7L470.4 190.9" stroke="#000" stroke-width="1.6" fill="none"/><path d="M470.1 189.9L473.9 193.7M470.1 193.7L473.9 189.9" stroke="#000" stroke-width="1.6" fill="none"/><path d="M473.6 190.1L477.4 193.9M473.6 193.9L477.4 190.1" stroke="#000" stroke-width="1.6" fill="none"/><path d="M477.1 189.1L480.9 192.9M477.1 192.9L480.9 189.1" stroke="#000" stroke-width="1.6" fill="none"/><path d="M481.1 188.7L484.9 192.5M481.1 192.5L484.9 188.7" stroke="#000" stroke-width="1.6" fill="none"/><path d="M484.1 188.5L487.9 192.3M484.1 192.3L487.9 188.5" stroke="#000" stroke-width="1.6" fill="none"/><path d="M469.1 195.3L472.9 199.1M469.1 199.1L472.9 195.3" stroke="#000" stroke-width="1.6" fill="none"/><path d="M468.4 195.6L472.2 199.4M468.4 199.4L472.2 195.6" stroke="#000" stroke-width="1.6" fill="none"/><path d="M468.1 196.3L471.9 200.1M468.1 200.1L471.9 196.3" stroke="#000" stroke-width="1.6" fill="none"/><path d="M467.8 197.1L471.6 200.9M467.8 200.9L471.6 197.1" stroke="#000" stroke-width="1.6" fill="none"/><path d="M467.2 196.9L471.0 200.7M467.2 200.7L471.0 196.9" stroke="#000" stroke-width="1.6" fill="none"/><path d="M466.4 197.5L470.2 201.3M466.4 201.3L470.2 197.5" stroke="#000" stroke-width="1.6" fill="none"/><path d="M465.6 198.3L469.4 202.1M465.6 202.1L469.4 198.3" stroke="#000" stroke-width="1.6" fill="none"/><path d="M464.2 198.2L468.0 202.0M464.2 202.0L468.0 198.2" stroke="#000" stroke-width="1.6" fill="none"/><path d="M464.0 198.8L467.8 202.6M464.0 202.6L467.8 198.8" stroke="#000" stroke-width="1.6" fill="none"/><path d="M463.1 199.5L466.9 203.3M463.1 203.3L466.9 199.5" stroke="#000" stroke-width="1.6" fill="none"/><path d="M462.5 199.3L466.3 203.1M462.5 203.1L466.3 199.3" stroke="#000" stroke-width="1.6" fill="none"/><path d="M461.8 199.8L465.6 203.6M461.8 203.6L465.6 199.8" stroke="#000" stroke-width="1.6" fill="none"/><path d="M462.0 199.9L465.8 203.7M462.0 203.7L465.8 199.9" stroke="#000" stroke-width="1.6" fill="none"/><path d="M460.7 200.9L464.5 204.7M460.7 204.7L464.5 200.9" stroke="#000" stroke-width="1.6" fill="none"/><path d="M460.7 201.4L464.5 205.2M460.7 205.2L464.5 201.4" stroke="#000" stroke-width="1.6" fill="none"/><path d="M459.6 201.9L463.4 205.7M459.6 205.7L463.4 201.9" stroke="#000" stroke-width="1.6" fill="none"/><path d="M459.6 202.3L463.4 206.1M459.6 206.1L463.4 202.3" stroke="#000" stroke-width="1.6" fill="none"/><path d="M458.2 202.4L462.0 206.2M458.2 206.2L462.0 202.4" stroke="#000" stroke-width="1.6" fill="none"/><path d="M457.5 203.3L461.3 207.1M457.5 207.1L461.3 203.3" stroke="#000" stroke-width="1.6" fill="none"/><path d="M458.1 203.8L461.9 207.6M458.1 207.6L461.9 203.8" stroke="#000" stroke-width="1.6" fill="none"/><path d="M456.3 203.7L460.1 207.5M456.3 207.5L460.1 203.7" stroke="#000" stroke-width="1.6" fill="none"/><path d="M456.3 204.3L460.1 208.1M456.3 208.1L460.1 204.3" stroke="#000" stroke-width="1.6" fill="none"/><path d="M455.2 205.1L459.0 208.9M455.2 208.9L459.0 205.1" stroke="#000" stroke-width="1.6" fill="none"/><path d="M454.8 205.3L458.6 209.1M454.8 209.1L458.6 205.3" stroke="#000" stroke-width="1.6" fill="none"/><path d="M454.0 205.8L457.8 209.6M454.0 209.6L457.8 205.8" stroke="#000" stroke-width="1.6" fill="none"/><path d="M453.4 205.8L457.2 209.6M453.4 209.6L457.2 205.8" stroke="#000" stroke-width="1.6" fill="none"/><path d="M453.3 206.5L457.1 210.3M453.3 210.3L457.1 206.5" stroke="#000" stroke-width="1.6" fill="none"/><path d="M453.1 206.9L456.9 210.7M453.1 210.7L456.9 206.9" stroke="#000" stroke-width="1.6" fill="none"/><path d="M452.0 207.2L455.8 211.0M452.0 211.0L455.8 207.2" stroke="#000" stroke-width="1.6" fill="none"/><path d="M451.2 208.1L455.0 211.9M451.2 211.9L455.0 208.1" stroke="#000" stroke-width="1.6" fill="none"/><path d="M451.2 208.6L455.0 212.4M451.2 212.4L455.0 208.6" stroke="#000" stroke-width="1.6" fill="none"/><path d="M451.1 208.7L454.9 212.5M451.1 212.5L454.9 208.7" stroke="#000" stroke-width="1.6" fill="none"/><path d="M450.6 209.3L454.4 213.1M450.6 213.1L454.4 209.3" stroke="#000" stroke-width="1.6" fill="none"/><path d="M450.2 210.1L454.0 213.9M450.2 213.9L454.0 210.1" stroke="#000" stroke-width="1.6" fill="none"/><path d="M449.0 210.7L452.8 214.5M449.0 214.5L452.8 210.7" stroke="#000" stroke-width="1.6" fill="none"/><path d="M449.1 211.6L452.9 215.4M449.1 215.4L452.9 211.6" stroke="#000" stroke-width="1.6" fill="none"/><path d="M448.0 211.1L451.8 214.9M448.0 214.9L451.8 211.1" stroke="#000" stroke-width="1.6" fill="none"/><path d="M447.1 212.4L450.9 216.2M447.1 216.2L450.9 212.4" stroke="#000" stroke-width="1.6" fill="none"/><path d="M447.0 213.8L450.8 217.6M447.0 217.6L450.8 213.8" stroke="#000" stroke-width="1.6" fill="none"/><path d="M446.7 214.4L450.5 218.2M446.7 218.2L450.5 214.4" stroke="#000" stroke-width="1.6" fill="none"/><path d="M447.1 214.9L450.9 218.7M447.1 218.7L450.9 214.9" stroke="#000" stroke-width="1.6" fill="none"/><path d="M448.1 216.4L451.9 220.2M448.1 220.2L451.9 216.4" stroke="#000" stroke-width="1.6" fill="none"/><path d="M449.2 217.1L453.0 220.9M449.2 220.9L453.0 217.1" stroke="#000" stroke-width="1.6" fill="none"/><path d="M448.9 217.5L452.7 221.3M448.9 221.3L452.7 217.5" stroke="#000" stroke-width="1.6" fill="none"/><path d="M448.8 218.4L452.6 222.2M448.8 222.2L452.6 218.4" stroke="#000" stroke-width="1.6" fill="none"/><path d="M448.7 219.9L452.5 223.7M448.7 223.7L452.5 219.9" stroke="#000" stroke-width="1.6" fill="none"/><path d="M448.9 220.6L452.7 224.4M448.9 224.4L452.7 220.6" stroke="#000" stroke-width="1.6" fill="none"/><path d="M449.2 221.9L453.0 225.7M449.2 225.7L453.0 221.9" stroke="#000" stroke-width="1.6" fill="none"/><path d="M449.5 222.7L453.3 226.5M449.5 226.5L453.3 222.7" stroke="#000" stroke-width="1.6" fill="none"/><path d="M448.7 223.9L452.5 227.7M448.7 227.7L452.5 223.9" stroke="#000" stroke-width="1.6" fill="none"/><path d="M448.4 224.4L452.2 228.2M448.4 228.2L452.2 224.4" stroke="#000" stroke-width="1.6" fill="none"/><path d="M448.8 225.4L452.6 229.2M448.8 229.2L452.6 225.4" stroke="#000" stroke-width="1.6" fill="none"/><path d="M444.6 212.6L448.4 216.4M444.6 216.4L448.4 212.6" stroke="#000" stroke-width="1.6" fill="none"/><path d="M493.4 190.5L497.2 194.3M493.4 194.3L497.2 190.5" stroke="#000" stroke-width="1.6" fill="none"/><path d="M497.6 190.7L501.4 194.5M497.6 194.5L501.4 190.7" stroke="#000" stroke-width="1.6" fill="none"/><path d="M501.6 190.1L505.4 193.9M501.6 193.9L505.4 190.1" stroke="#000" stroke-width="1.6" fill="none"/><path d="M505.1 191.3L508.9 195.1M505.1 195.1L508.9 191.3" stroke="#000" stroke-width="1.6" fill="none"/><path d="M507.1 189.7L510.9 193.5M507.1 193.5L510.9 189.7" stroke="#000" stroke-width="1.6" fill="none"/><path d="M505.6 192.6L509.4 196.4M505.6 196.4L509.4 192.6" stroke="#000" stroke-width="1.6" fill="none"/><path d="M511.6 188.7L515.4 192.5M511.6 192.5L515.4 188.7" stroke="#000" stroke-width="1.6" fill="none"/><path d="M514.6 188.3L518.4 192.1M514.6 192.1L518.4 188.3" stroke="#000" stroke-width="1.6" fill="none"/><path d="M516.1 188.9L519.9 192.7M516.1 192.7L519.9 188.9" stroke="#000" stroke-width="1.6" fill="none"/><path d="M499.4 195.5L503.2 199.3M499.4 199.3L503.2 195.5" stroke="#000" stroke-width="1.6" fill="none"/><path d="M499.0 195.8L502.8 199.6M499.0 199.6L502.8 195.8" stroke="#000" stroke-width="1.6" fill="none"/><path d="M498.3 196.3L502.1 200.1M498.3 200.1L502.1 196.3" stroke="#000" stroke-width="1.6" fill="none"/><path d="M497.2 197.1L501.0 200.9M497.2 200.9L501.0 197.1" stroke="#000" stroke-width="1.6" fill="none"/><path d="M496.7 197.2L500.5 201.0M496.7 201.0L500.5 197.2" stroke="#000" stroke-width="1.6" fill="none"/><path d="M496.7 197.5L500.5 201.3M496.7 201.3L500.5 197.5" stroke="#000" stroke-width="1.6" fill="none"/><path d="M495.7 197.5L499.5 201.3M495.7 201.3L499.5 197.5" stroke="#000" stroke-width="1.6" fill="none"/><path d="M495.3 198.2L499.1 202.0M495.3 202.0L499.1 198.2" stroke="#000" stroke-width="1.6" fill="none"/><path d="M494.9 198.5L498.7 202.3M494.9 202.3L498.7 198.5" stroke="#000" stroke-width="1.6" fill="none"/><path d="M494.6 199.1L498.4 202.9M494.6 202.9L498.4 199.1" stroke="#000" stroke-width="1.6" fill="none"/><path d="M493.1 199.4L496.9 203.2M493.1 203.2L496.9 199.4" stroke="#000" stroke-width="1.6" fill="none"/><path d="M493.7 199.4L497.5 203.2M493.7 203.2L497.5 199.4" stroke="#000" stroke-width="1.6" fill="none"/><path d="M492.6 200.8L496.4 204.6M492.6 204.6L496.4 200.8" stroke="#000" stroke-width="1.6" fill="none"/><path d="M491.8 200.8L495.6 204.6M491.8 204.6L495.6 200.8" stroke="#000" stroke-width="1.6" fill="none"/><path d="M491.2 201.0L495.0 204.8M491.2 204.8L495.0 201.0" stroke="#000" stroke-width="1.6" fill="none"/><path d="M490.9 201.7L494.7 205.5M490.9 205.5L494.7 201.7" stroke="#000" stroke-width="1.6" fill="none"/><path d="M489.9 202.0L493.7 205.8M489.9 205.8L493.7 202.0" stroke="#000" stroke-width="1.6" fill="none"/><path d="M489.6 202.7L493.4 206.5M489.6 206.5L493.4 202.7" stroke="#000" stroke-width="1.6" fill="none"/><path d="M488.4 202.4L492.2 206.2M488.4 206.2L492.2 202.4" stroke="#000" stroke-width="1.6" fill="none"/><path d="M488.1 203.0L491.9 206.8M488.1 206.8L491.9 203.0" stroke="#000" stroke-width="1.6" fill="none"/><path d="M488.2 203.6L492.0 207.4M488.2 207.4L492.0 203.6" stroke="#000" stroke-width="1.6" fill="none"/><path d="M487.7 204.0L491.5 207.8M487.7 207.8L491.5 204.0" stroke="#000" stroke-width="1.6" fill="none"/><path d="M486.4 204.7L490.2 208.5M486.4 208.5L490.2 204.7" stroke="#000" stroke-width="1.6" fill="none"/><path d="M485.6 205.4L489.4 209.2M485.6 209.2L489.4 205.4" stroke="#000" stroke-width="1.6" fill="none"/><path d="M486.0 205.2L489.8 209.0M486.0 209.0L489.8 205.2" stroke="#000" stroke-width="1.6" fill="none"/><path d="M484.8 206.3L488.6 210.1M484.8 210.1L488.6 206.3" stroke="#000" stroke-width="1.6" fill="none"/><path d="M484.8 206.6L488.6 210.4M484.8 210.4L488.6 206.6" stroke="#000" stroke-width="1.6" fill="none"/><path d="M483.3 207.2L487.1 211.0M483.3 211.0L487.1 207.2" stroke="#000" stroke-width="1.6" fill="none"/><path d="M482.8 207.6L486.6 211.4M482.8 211.4L486.6 207.6" stroke="#000" stroke-width="1.6" fill="none"/><path d="M482.9 208.4L486.7 212.2M482.9 212.2L486.7 208.4" stroke="#000" stroke-width="1.6" fill="none"/><path d="M482.4 208.1L486.2 211.9M482.4 211.9L486.2 208.1" stroke="#000" stroke-width="1.6" fill="none"/><path d="M482.3 209.3L486.1 213.1M482.3 213.1L486.1 209.3" stroke="#000" stroke-width="1.6" fill="none"/><path d="M481.3 209.1L485.1 212.9M481.3 212.9L485.1 209.1" stroke="#000" stroke-width="1.6" fill="none"/><path d="M480.9 210.0L484.7 213.8M480.9 213.8L484.7 210.0" stroke="#000" stroke-width="1.6" fill="none"/><path d="M480.4 211.2L484.2 215.0M480.4 215.0L484.2 211.2" stroke="#000" stroke-width="1.6" fill="none"/><path d="M480.2 210.8L484.0 214.6M480.2 214.6L484.0 210.8" stroke="#000" stroke-width="1.6" fill="none"/><path d="M479.6 211.8L483.4 215.6M479.6 215.6L483.4 211.8" stroke="#000" stroke-width="1.6" fill="none"/><path d="M479.1 212.3L482.9 216.1M479.1 216.1L482.9 212.3" stroke="#000" stroke-width="1.6" fill="none"/><path d="M478.3 213.0L482.1 216.8M478.3 216.8L482.1 213.0" stroke="#000" stroke-width="1.6" fill="none"/><path d="M477.4 213.4L481.2 217.2M477.4 217.2L481.2 213.4" stroke="#000" stroke-width="1.6" fill="none"/><path d="M479.5 214.8L483.3 218.6M479.5 218.6L483.3 214.8" stroke="#000" stroke-width="1.6" fill="none"/><path d="M479.1 216.2L482.9 220.0M479.1 220.0L482.9 216.2" stroke="#000" stroke-width="1.6" fill="none"/><path d="M480.6 216.9L484.4 220.7M480.6 220.7L484.4 216.9" stroke="#000" stroke-width="1.6" fill="none"/><path d="M480.4 217.4L484.2 221.2M480.4 221.2L484.2 217.4" stroke="#000" stroke-width="1.6" fill="none"/><path d="M481.3 219.0L485.1 222.8M481.3 222.8L485.1 219.0" stroke="#000" stroke-width="1.6" fill="none"/><path d="M481.5 219.8L485.3 223.6M481.5 223.6L485.3 219.8" stroke="#000" stroke-width="1.6" fill="none"/><path d="M480.7 220.3L484.5 224.1M480.7 224.1L484.5 220.3" stroke="#000" stroke-width="1.6" fill="none"/><path d="M481.0 221.5L484.8 225.3M481.0 225.3L484.8 221.5" stroke="#000" stroke-width="1.6" fill="none"/><path d="M480.2 222.4L484.0 226.2M480.2 226.2L484.0 222.4" stroke="#000" stroke-width="1.6" fill="none"/><path d="M480.5 222.6L484.3 226.4M480.5 226.4L484.3 222.6" stroke="#000" stroke-width="1.6" fill="none"/><path d="M480.2 223.8L484.0 227.6M480.2 227.6L484.0 223.8" stroke="#000" stroke-width="1.6" fill="none"/><path d="M480.4 225.1L484.2 228.9M480.4 228.9L484.2 225.1" stroke="#000" stroke-width="1.6" fill="none"/><path d="M479.9 225.8L483.7 229.6M479.9 229.6L483.7 225.8" stroke="#000" stroke-width="1.6" fill="none"/><path d="M475.3 214.1L479.1 217.9M475.3 217.9L479.1 214.1" stroke="#000" stroke-width="1.6" fill="none"/><rect x="518.2" y="188.3" width="4.5" height="4.5" stroke="#d9d9d9" stroke-width="1" fill="none"/><rect x="522.1" y="188.2" width="4.5" height="4.5" stroke="#d9d9d9" stroke-width="1" fill="none"/><circle cx="474.0" cy="227.0" r="2.2" stroke="#9a9a9a" stroke-width="1.2" fill="#eee"/><path d="M428.0 233.0H433.0L430.5 237.2Z" stroke="#cfcfcf" stroke-width="0.9" fill="none"/><path d="M430.5 233.3H435.5L433.0 237.6Z" stroke="#cfcfcf" stroke-width="0.9" fill="none"/><path d="M438.2 232.1H443.8L441.0 236.8Z" stroke="#c4c4c4" stroke-width="0.9" fill="none"/><path d="M441.8 232.1H447.2L444.5 236.8Z" stroke="#c4c4c4" stroke-width="0.9" fill="none"/><path d="M444.8 232.1H450.2L447.5 236.8Z" stroke="#c4c4c4" stroke-width="0.9" fill="none"/><rect x="411.7" y="234.7" width="4.3" height="4.3" stroke="#000" stroke-width="0" fill="#000"/><rect x="412.7" y="234.3" width="4.3" height="4.3" stroke="#000" stroke-width="0" fill="#000"/><rect x="413.7" y="234.1" width="4.3" height="4.3" stroke="#000" stroke-width="0" fill="#000"/><rect x="414.9" y="233.6" width="4.3" height="4.3" stroke="#000" stroke-width="0" fill="#000"/><rect x="415.8" y="233.1" width="4.3" height="4.3" stroke="#000" stroke-width="0" fill="#000"/><rect x="417.0" y="232.4" width="4.3" height="4.3" stroke="#000" stroke-width="0" fill="#000"/><rect x="418.1" y="232.3" width="4.3" height="4.3" stroke="#000" stroke-width="0" fill="#000"/><rect x="419.6" y="232.1" width="4.3" height="4.3" stroke="#000" stroke-width="0" fill="#000"/><rect x="420.4" y="232.9" width="4.3" height="4.3" stroke="#000" stroke-width="0" fill="#000"/><rect x="421.2" y="234.0" width="4.3" height="4.3" stroke="#000" stroke-width="0" fill="#000"/><rect x="422.6" y="233.6" width="4.3" height="4.3" stroke="#000" stroke-width="0" fill="#000"/><rect x="423.6" y="233.8" width="4.3" height="4.3" stroke="#000" stroke-width="0" fill="#000"/><rect x="424.5" y="233.3" width="4.3" height="4.3" stroke="#000" stroke-width="0" fill="#000"/><rect x="425.3" y="232.7" width="4.3" height="4.3" stroke="#000" stroke-width="0" fill="#000"/><path d="M444.6 233.6L448.4 237.4M444.6 237.4L448.4 233.6" stroke="#000" stroke-width="1.6" fill="none"/><path d="M448.8 235.1L452.6 238.9M448.8 238.9L452.6 235.1" stroke="#000" stroke-width="1.6" fill="none"/><path d="M461.3 232.6L465.1 236.4M461.3 236.4L465.1 232.6" stroke="#000" stroke-width="1.6" fill="none"/><path d="M469.6 232.1L473.4 235.9M469.6 235.9L473.4 232.1" stroke="#000" stroke-width="1.6" fill="none"/><path d="M472.6 233.4L476.4 237.2M472.6 237.2L476.4 233.4" stroke="#000" stroke-width="1.6" fill="none"/><path d="M475.6 234.1L479.4 237.9M475.6 237.9L479.4 234.1" stroke="#000" stroke-width="1.6" fill="none"/><path d="M479.6 235.1L483.4 238.9M479.6 238.9L483.4 235.1" stroke="#000" stroke-width="1.6" fill="none"/><path d="M484.1 234.6L487.9 238.4M484.1 238.4L487.9 234.6" stroke="#000" stroke-width="1.6" fill="none"/><path d="M492.6 232.6L496.4 236.4M492.6 236.4L496.4 232.6" stroke="#000" stroke-width="1.6" fill="none"/><path d="M496.6 232.3L500.4 236.1M496.6 236.1L500.4 232.3" stroke="#000" stroke-width="1.6" fill="none"/><path d="M500.6 232.1L504.4 235.9M500.6 235.9L504.4 232.1" stroke="#000" stroke-width="1.6" fill="none"/><path d="M503.6 233.4L507.4 237.2M503.6 237.2L507.4 233.4" stroke="#000" stroke-width="1.6" fill="none"/><path d="M515.1 234.8L518.9 238.6M515.1 238.6L518.9 234.8" stroke="#000" stroke-width="1.6" fill="none"/><path d="M527.6 233.1L531.4 236.9M527.6 236.9L531.4 233.1" stroke="#000" stroke-width="1.6" fill="none"/><path d="M454.8 236.0H460.2M457.5 233.2V238.8" stroke="#858585" stroke-width="0.9" fill="none"/><path d="M480.2 232.8H485.8M483.0 230.1V235.6" stroke="#aaa" stroke-width="0.9" fill="none"/><path d="M516.2 234.6H521.8M519.0 231.8V237.3" stroke="#999" stroke-width="0.9" fill="none"/><circle cx="491.0" cy="234.5" r="2.5" stroke="#999" stroke-width="0.9" fill="#f2f2f2"/><circle cx="498.5" cy="233.6" r="2.5" stroke="#888" stroke-width="0.9" fill="none"/><path d="M507.8 231.8L513.2 237.2M507.8 237.2L513.2 231.8" stroke="#b5b5b5" stroke-width="1" fill="none"/><rect x="519.9" y="233.8" width="4.2" height="4.2" stroke="#d4d4d4" stroke-width="1" fill="none"/><rect x="525.0" y="233.4" width="4.2" height="4.2" stroke="#d4d4d4" stroke-width="1" fill="none"/><rect x="527.3" y="232.5" width="5" height="5" stroke="#c4c4c4" stroke-width="1.0" fill="none"/><path d="M527.6 233.1L531.4 236.9M527.6 236.9L531.4 233.1" stroke="#000" stroke-width="1.6" fill="none"/><rect x="531.4" y="232.7" width="4.2" height="4.2" stroke="#d9d9d9" stroke-width="1" fill="none"/><rect x="535.0" y="232.6" width="4.2" height="4.2" stroke="#d9d9d9" stroke-width="1" fill="none"/><rect x="403.6" y="243.1" width="4.6" height="4.6" stroke="#000" stroke-width="0" fill="#000"/><rect x="404.3" y="242.8" width="4.6" height="4.6" stroke="#000" stroke-width="0" fill="#000"/><rect x="405.4" y="242.4" width="4.6" height="4.6" stroke="#000" stroke-width="0" fill="#000"/><rect x="406.1" y="241.8" width="4.6" height="4.6" stroke="#000" stroke-width="0" fill="#000"/><rect x="407.3" y="242.4" width="4.6" height="4.6" stroke="#000" stroke-width="0" fill="#000"/><rect x="408.0" y="241.4" width="4.6" height="4.6" stroke="#000" stroke-width="0" fill="#000"/><rect x="408.8" y="241.4" width="4.6" height="4.6" stroke="#000" stroke-width="0" fill="#000"/><rect x="409.3" y="241.4" width="4.6" height="4.6" stroke="#000" stroke-width="0" fill="#000"/><rect x="410.3" y="240.6" width="4.6" height="4.6" stroke="#000" stroke-width="0" fill="#000"/><rect x="411.1" y="240.9" width="4.6" height="4.6" stroke="#000" stroke-width="0" fill="#000"/><rect x="411.9" y="241.0" width="4.6" height="4.6" stroke="#000" stroke-width="0" fill="#000"/><rect x="404.4" y="243.7" width="4.3" height="4.3" stroke="#000" stroke-width="0" fill="#000"/><rect x="406.0" y="244.2" width="4.3" height="4.3" stroke="#000" stroke-width="0" fill="#000"/><path d="M419.4 243.1L423.2 246.9M419.4 246.9L423.2 243.1" stroke="#000" stroke-width="1.6" fill="none"/><path d="M425.6 243.1L429.4 246.9M425.6 246.9L429.4 243.1" stroke="#000" stroke-width="1.6" fill="none"/><path d="M430.1 241.8L433.9 245.6M430.1 245.6L433.9 241.8" stroke="#000" stroke-width="1.6" fill="none"/><path d="M434.6 245.1L438.4 248.9M434.6 248.9L438.4 245.1" stroke="#000" stroke-width="1.6" fill="none"/><path d="M439.6 241.3L443.4 245.1M439.6 245.1L443.4 241.3" stroke="#000" stroke-width="1.6" fill="none"/><path d="M439.3 245.6L443.1 249.4M439.3 249.4L443.1 245.6" stroke="#000" stroke-width="1.6" fill="none"/><path d="M443.8 240.8L447.6 244.6M443.8 244.6L447.6 240.8" stroke="#000" stroke-width="1.6" fill="none"/><path d="M448.6 243.1L452.4 246.9M448.6 246.9L452.4 243.1" stroke="#000" stroke-width="1.6" fill="none"/><path d="M455.1 243.3L458.9 247.1M455.1 247.1L458.9 243.3" stroke="#000" stroke-width="1.6" fill="none"/><path d="M459.6 241.1L463.4 244.9M459.6 244.9L463.4 241.1" stroke="#000" stroke-width="1.6" fill="none"/><path d="M464.8 245.1L468.6 248.9M464.8 248.9L468.6 245.1" stroke="#000" stroke-width="1.6" fill="none"/><path d="M469.8 240.8L473.6 244.6M469.8 244.6L473.6 240.8" stroke="#000" stroke-width="1.6" fill="none"/><path d="M474.8 240.3L478.6 244.1M474.8 244.1L478.6 240.3" stroke="#000" stroke-width="1.6" fill="none"/><path d="M465.3 245.6L469.1 249.4M465.3 249.4L469.1 245.6" stroke="#000" stroke-width="1.6" fill="none"/><path d="M470.1 246.1L473.9 249.9M470.1 249.9L473.9 246.1" stroke="#000" stroke-width="1.6" fill="none"/><circle cx="468.0" cy="242.5" r="2.3" stroke="#bbb" stroke-width="1" fill="#f4f4f4"/><rect x="408.5" y="250.2" width="4.3" height="4.3" stroke="#000" stroke-width="0" fill="#000"/><rect x="408.8" y="250.8" width="4.3" height="4.3" stroke="#000" stroke-width="0" fill="#000"/><rect x="408.6" y="251.4" width="4.3" height="4.3" stroke="#000" stroke-width="0" fill="#000"/><rect x="408.3" y="252.0" width="4.3" height="4.3" stroke="#000" stroke-width="0" fill="#000"/><rect x="408.2" y="252.6" width="4.3" height="4.3" stroke="#000" stroke-width="0" fill="#000"/><rect x="408.0" y="253.2" width="4.3" height="4.3" stroke="#000" stroke-width="0" fill="#000"/><rect x="408.2" y="253.8" width="4.3" height="4.3" stroke="#000" stroke-width="0" fill="#000"/><rect x="408.0" y="254.4" width="4.3" height="4.3" stroke="#000" stroke-width="0" fill="#000"/><rect x="407.9" y="255.0" width="4.3" height="4.3" stroke="#000" stroke-width="0" fill="#000"/><path d="M435.0 250.6L438.8 254.4M435.0 254.4L438.8 250.6" stroke="#000" stroke-width="1.6" fill="none"/><path d="M434.3 251.1L438.1 254.9M434.3 254.9L438.1 251.1" stroke="#000" stroke-width="1.6" fill="none"/><path d="M434.6 251.6L438.4 255.4M434.6 255.4L438.4 251.6" stroke="#000" stroke-width="1.6" fill="none"/><path d="M433.7 252.1L437.5 255.9M433.7 255.9L437.5 252.1" stroke="#000" stroke-width="1.6" fill="none"/><path d="M433.3 252.6L437.1 256.4M433.3 256.4L437.1 252.6" stroke="#000" stroke-width="1.6" fill="none"/><path d="M432.9 253.1L436.7 256.9M432.9 256.9L436.7 253.1" stroke="#000" stroke-width="1.6" fill="none"/><path d="M433.0 253.6L436.8 257.4M433.0 257.4L436.8 253.6" stroke="#000" stroke-width="1.6" fill="none"/><path d="M433.4 254.1L437.2 257.9M433.4 257.9L437.2 254.1" stroke="#000" stroke-width="1.6" fill="none"/><path d="M431.4 254.6L435.2 258.4M431.4 258.4L435.2 254.6" stroke="#000" stroke-width="1.6" fill="none"/><path d="M432.5 255.1L436.3 258.9M432.5 258.9L436.3 255.1" stroke="#000" stroke-width="1.6" fill="none"/><path d="M466.3 250.6L470.1 254.4M466.3 254.4L470.1 250.6" stroke="#000" stroke-width="1.6" fill="none"/><path d="M465.3 251.1L469.1 254.9M465.3 254.9L469.1 251.1" stroke="#000" stroke-width="1.6" fill="none"/><path d="M464.8 251.6L468.6 255.4M464.8 255.4L468.6 251.6" stroke="#000" stroke-width="1.6" fill="none"/><path d="M464.7 252.1L468.5 255.9M464.7 255.9L468.5 252.1" stroke="#000" stroke-width="1.6" fill="none"/><path d="M463.9 252.6L467.7 256.4M463.9 256.4L467.7 252.6" stroke="#000" stroke-width="1.6" fill="none"/><path d="M463.7 253.1L467.5 256.9M463.7 256.9L467.5 253.1" stroke="#000" stroke-width="1.6" fill="none"/><path d="M463.9 253.6L467.7 257.4M463.9 257.4L467.7 253.6" stroke="#000" stroke-width="1.6" fill="none"/><path d="M463.1 254.1L466.9 257.9M463.1 257.9L466.9 254.1" stroke="#000" stroke-width="1.6" fill="none"/><path d="M461.6 254.6L465.4 258.4M461.6 258.4L465.4 254.6" stroke="#000" stroke-width="1.6" fill="none"/><path d="M460.7 255.1L464.5 258.9M460.7 258.9L464.5 255.1" stroke="#000" stroke-width="1.6" fill="none"/><rect x="408.9" y="258.9" width="4.3" height="4.3" stroke="#000" stroke-width="0" fill="#000"/><rect x="408.5" y="259.5" width="4.3" height="4.3" stroke="#000" stroke-width="0" fill="#000"/><rect x="408.6" y="260.1" width="4.3" height="4.3" stroke="#000" stroke-width="0" fill="#000"/><rect x="408.3" y="260.8" width="4.3" height="4.3" stroke="#000" stroke-width="0" fill="#000"/><rect x="408.3" y="261.4" width="4.3" height="4.3" stroke="#000" stroke-width="0" fill="#000"/><rect x="408.2" y="262.0" width="4.3" height="4.3" stroke="#000" stroke-width="0" fill="#000"/><rect x="408.3" y="262.6" width="4.3" height="4.3" stroke="#000" stroke-width="0" fill="#000"/><rect x="408.3" y="263.2" width="4.3" height="4.3" stroke="#000" stroke-width="0" fill="#000"/><rect x="408.1" y="263.8" width="4.3" height="4.3" stroke="#000" stroke-width="0" fill="#000"/><path d="M432.6 259.4L436.4 263.2M432.6 263.2L436.4 259.4" stroke="#000" stroke-width="1.6" fill="none"/><path d="M431.7 259.9L435.5 263.7M431.7 263.7L435.5 259.9" stroke="#000" stroke-width="1.6" fill="none"/><path d="M431.1 260.4L434.9 264.2M431.1 264.2L434.9 260.4" stroke="#000" stroke-width="1.6" fill="none"/><path d="M432.2 260.9L436.0 264.7M432.2 264.7L436.0 260.9" stroke="#000" stroke-width="1.6" fill="none"/><path d="M430.0 261.4L433.8 265.2M430.0 265.2L433.8 261.4" stroke="#000" stroke-width="1.6" fill="none"/><path d="M431.4 261.9L435.2 265.7M431.4 265.7L435.2 261.9" stroke="#000" stroke-width="1.6" fill="none"/><path d="M430.3 262.4L434.1 266.2M430.3 266.2L434.1 262.4" stroke="#000" stroke-width="1.6" fill="none"/><path d="M428.6 262.9L432.4 266.7M428.6 266.7L432.4 262.9" stroke="#000" stroke-width="1.6" fill="none"/><path d="M430.0 263.4L433.8 267.2M430.0 267.2L433.8 263.4" stroke="#000" stroke-width="1.6" fill="none"/><path d="M427.8 263.9L431.6 267.7M427.8 267.7L431.6 263.9" stroke="#000" stroke-width="1.6" fill="none"/><path d="M463.1 259.4L466.9 263.2M463.1 263.2L466.9 259.4" stroke="#000" stroke-width="1.6" fill="none"/><path d="M461.7 259.9L465.5 263.7M461.7 263.7L465.5 259.9" stroke="#000" stroke-width="1.6" fill="none"/><path d="M463.2 260.4L467.0 264.2M463.2 264.2L467.0 260.4" stroke="#000" stroke-width="1.6" fill="none"/><path d="M461.3 260.9L465.1 264.7M461.3 264.7L465.1 260.9" stroke="#000" stroke-width="1.6" fill="none"/><path d="M462.1 261.4L465.9 265.2M462.1 265.2L465.9 261.4" stroke="#000" stroke-width="1.6" fill="none"/><path d="M459.9 261.9L463.7 265.7M459.9 265.7L463.7 261.9" stroke="#000" stroke-width="1.6" fill="none"/><path d="M460.8 262.4L464.6 266.2M460.8 266.2L464.6 262.4" stroke="#000" stroke-width="1.6" fill="none"/><path d="M459.1 262.9L462.9 266.7M459.1 266.7L462.9 262.9" stroke="#000" stroke-width="1.6" fill="none"/><path d="M458.6 263.4L462.4 267.2M458.6 267.2L462.4 263.4" stroke="#000" stroke-width="1.6" fill="none"/><path d="M459.4 263.9L463.2 267.7M459.4 267.7L463.2 263.9" stroke="#000" stroke-width="1.6" fill="none"/><rect x="408.4" y="267.7" width="4.3" height="4.3" stroke="#000" stroke-width="0" fill="#000"/><rect x="408.2" y="268.3" width="4.3" height="4.3" stroke="#000" stroke-width="0" fill="#000"/><rect x="408.2" y="268.9" width="4.3" height="4.3" stroke="#000" stroke-width="0" fill="#000"/><rect x="408.1" y="269.5" width="4.3" height="4.3" stroke="#000" stroke-width="0" fill="#000"/><rect x="407.9" y="270.1" width="4.3" height="4.3" stroke="#000" stroke-width="0" fill="#000"/><rect x="407.6" y="270.8" width="4.3" height="4.3" stroke="#000" stroke-width="0" fill="#000"/><rect x="407.7" y="271.4" width="4.3" height="4.3" stroke="#000" stroke-width="0" fill="#000"/><rect x="407.5" y="272.0" width="4.3" height="4.3" stroke="#000" stroke-width="0" fill="#000"/><rect x="407.6" y="272.6" width="4.3" height="4.3" stroke="#000" stroke-width="0" fill="#000"/><path d="M429.2 268.1L433.0 271.9M429.2 271.9L433.0 268.1" stroke="#000" stroke-width="1.6" fill="none"/><path d="M429.1 268.6L432.9 272.4M429.1 272.4L432.9 268.6" stroke="#000" stroke-width="1.6" fill="none"/><path d="M428.0 269.1L431.8 272.9M428.0 272.9L431.8 269.1" stroke="#000" stroke-width="1.6" fill="none"/><path d="M428.7 269.6L432.5 273.4M428.7 273.4L432.5 269.6" stroke="#000" stroke-width="1.6" fill="none"/><path d="M427.6 270.1L431.4 273.9M427.6 273.9L431.4 270.1" stroke="#000" stroke-width="1.6" fill="none"/><path d="M427.4 270.6L431.2 274.4M427.4 274.4L431.2 270.6" stroke="#000" stroke-width="1.6" fill="none"/><path d="M426.0 271.1L429.8 274.9M426.0 274.9L429.8 271.1" stroke="#000" stroke-width="1.6" fill="none"/><path d="M426.5 271.6L430.3 275.4M426.5 275.4L430.3 271.6" stroke="#000" stroke-width="1.6" fill="none"/><path d="M426.2 272.1L430.0 275.9M426.2 275.9L430.0 272.1" stroke="#000" stroke-width="1.6" fill="none"/><path d="M426.7 272.6L430.5 276.4M426.7 276.4L430.5 272.6" stroke="#000" stroke-width="1.6" fill="none"/><path d="M462.1 268.1L465.9 271.9M462.1 271.9L465.9 268.1" stroke="#000" stroke-width="1.6" fill="none"/><path d="M460.8 268.6L464.6 272.4M460.8 272.4L464.6 268.6" stroke="#000" stroke-width="1.6" fill="none"/><path d="M460.7 269.1L464.5 272.9M460.7 272.9L464.5 269.1" stroke="#000" stroke-width="1.6" fill="none"/><path d="M460.4 269.6L464.2 273.4M460.4 273.4L464.2 269.6" stroke="#000" stroke-width="1.6" fill="none"/><path d="M460.8 270.1L464.6 273.9M460.8 273.9L464.6 270.1" stroke="#000" stroke-width="1.6" fill="none"/><path d="M460.9 270.6L464.7 274.4M460.9 274.4L464.7 270.6" stroke="#000" stroke-width="1.6" fill="none"/><path d="M460.5 271.1L464.3 274.9M460.5 274.9L464.3 271.1" stroke="#000" stroke-width="1.6" fill="none"/><path d="M460.0 271.6L463.8 275.4M460.0 275.4L463.8 271.6" stroke="#000" stroke-width="1.6" fill="none"/><path d="M459.6 272.1L463.4 275.9M459.6 275.9L463.4 272.1" stroke="#000" stroke-width="1.6" fill="none"/><path d="M459.0 272.6L462.8 276.4M459.0 276.4L462.8 272.6" stroke="#000" stroke-width="1.6" fill="none"/><rect x="408.4" y="276.5" width="4.3" height="4.3" stroke="#000" stroke-width="0" fill="#000"/><rect x="407.8" y="277.1" width="4.3" height="4.3" stroke="#000" stroke-width="0" fill="#000"/><rect x="408.0" y="277.7" width="4.3" height="4.3" stroke="#000" stroke-width="0" fill="#000"/><rect x="408.0" y="278.3" width="4.3" height="4.3" stroke="#000" stroke-width="0" fill="#000"/><rect x="407.9" y="278.9" width="4.3" height="4.3" stroke="#000" stroke-width="0" fill="#000"/><rect x="407.8" y="279.5" width="4.3" height="4.3" stroke="#000" stroke-width="0" fill="#000"/><rect x="407.8" y="280.1" width="4.3" height="4.3" stroke="#000" stroke-width="0" fill="#000"/><rect x="407.8" y="280.7" width="4.3" height="4.3" stroke="#000" stroke-width="0" fill="#000"/><rect x="407.3" y="281.4" width="4.3" height="4.3" stroke="#000" stroke-width="0" fill="#000"/><path d="M430.0 276.9L433.8 280.7M430.0 280.7L433.8 276.9" stroke="#000" stroke-width="1.6" fill="none"/><path d="M430.6 277.4L434.4 281.2M430.6 281.2L434.4 277.4" stroke="#000" stroke-width="1.6" fill="none"/><path d="M428.1 277.9L431.9 281.7M428.1 281.7L431.9 277.9" stroke="#000" stroke-width="1.6" fill="none"/><path d="M427.9 278.4L431.7 282.2M427.9 282.2L431.7 278.4" stroke="#000" stroke-width="1.6" fill="none"/><path d="M429.1 278.9L432.9 282.7M429.1 282.7L432.9 278.9" stroke="#000" stroke-width="1.6" fill="none"/><path d="M428.9 279.4L432.7 283.2M428.9 283.2L432.7 279.4" stroke="#000" stroke-width="1.6" fill="none"/><path d="M426.4 279.9L430.2 283.7M426.4 283.7L430.2 279.9" stroke="#000" stroke-width="1.6" fill="none"/><path d="M426.0 280.4L429.8 284.2M426.0 284.2L429.8 280.4" stroke="#000" stroke-width="1.6" fill="none"/><path d="M427.3 280.9L431.1 284.7M427.3 284.7L431.1 280.9" stroke="#000" stroke-width="1.6" fill="none"/><path d="M426.6 281.4L430.4 285.2M426.6 285.2L430.4 281.4" stroke="#000" stroke-width="1.6" fill="none"/><path d="M460.0 276.9L463.8 280.7M460.0 280.7L463.8 276.9" stroke="#000" stroke-width="1.6" fill="none"/><path d="M459.8 277.4L463.6 281.2M459.8 281.2L463.6 277.4" stroke="#000" stroke-width="1.6" fill="none"/><path d="M459.7 277.9L463.5 281.7M459.7 281.7L463.5 277.9" stroke="#000" stroke-width="1.6" fill="none"/><path d="M459.4 278.4L463.2 282.2M459.4 282.2L463.2 278.4" stroke="#000" stroke-width="1.6" fill="none"/><path d="M457.2 278.9L461.0 282.7M457.2 282.7L461.0 278.9" stroke="#000" stroke-width="1.6" fill="none"/><path d="M456.9 279.4L460.7 283.2M456.9 283.2L460.7 279.4" stroke="#000" stroke-width="1.6" fill="none"/><path d="M458.1 279.9L461.9 283.7M458.1 283.7L461.9 279.9" stroke="#000" stroke-width="1.6" fill="none"/><path d="M458.1 280.4L461.9 284.2M458.1 284.2L461.9 280.4" stroke="#000" stroke-width="1.6" fill="none"/><path d="M457.4 280.9L461.2 284.7M457.4 284.7L461.2 280.9" stroke="#000" stroke-width="1.6" fill="none"/><path d="M456.0 281.4L459.8 285.2M456.0 285.2L459.8 281.4" stroke="#000" stroke-width="1.6" fill="none"/><rect x="407.1" y="285.2" width="4.3" height="4.3" stroke="#000" stroke-width="0" fill="#000"/><rect x="407.0" y="285.8" width="4.3" height="4.3" stroke="#000" stroke-width="0" fill="#000"/><rect x="406.8" y="286.5" width="4.3" height="4.3" stroke="#000" stroke-width="0" fill="#000"/><rect x="407.1" y="287.1" width="4.3" height="4.3" stroke="#000" stroke-width="0" fill="#000"/><rect x="406.7" y="287.7" width="4.3" height="4.3" stroke="#000" stroke-width="0" fill="#000"/><rect x="406.8" y="288.3" width="4.3" height="4.3" stroke="#000" stroke-width="0" fill="#000"/><rect x="406.7" y="288.9" width="4.3" height="4.3" stroke="#000" stroke-width="0" fill="#000"/><rect x="406.5" y="289.5" width="4.3" height="4.3" stroke="#000" stroke-width="0" fill="#000"/><rect x="406.6" y="290.1" width="4.3" height="4.3" stroke="#000" stroke-width="0" fill="#000"/><path d="M428.4 285.7L432.2 289.5M428.4 289.5L432.2 285.7" stroke="#000" stroke-width="1.6" fill="none"/><path d="M427.5 286.2L431.3 290.0M427.5 290.0L431.3 286.2" stroke="#000" stroke-width="1.6" fill="none"/><path d="M428.5 286.7L432.3 290.5M428.5 290.5L432.3 286.7" stroke="#000" stroke-width="1.6" fill="none"/><path d="M426.5 287.2L430.3 291.0M426.5 291.0L430.3 287.2" stroke="#000" stroke-width="1.6" fill="none"/><path d="M426.0 287.7L429.8 291.5M426.0 291.5L429.8 287.7" stroke="#000" stroke-width="1.6" fill="none"/><path d="M425.8 288.2L429.6 292.0M425.8 292.0L429.6 288.2" stroke="#000" stroke-width="1.6" fill="none"/><path d="M425.9 288.7L429.7 292.5M425.9 292.5L429.7 288.7" stroke="#000" stroke-width="1.6" fill="none"/><path d="M426.2 289.2L430.0 293.0M426.2 293.0L430.0 289.2" stroke="#000" stroke-width="1.6" fill="none"/><path d="M424.8 289.7L428.6 293.5M424.8 293.5L428.6 289.7" stroke="#000" stroke-width="1.6" fill="none"/><path d="M424.1 290.2L427.9 294.0M424.1 294.0L427.9 290.2" stroke="#000" stroke-width="1.6" fill="none"/><path d="M457.8 285.7L461.6 289.5M457.8 289.5L461.6 285.7" stroke="#000" stroke-width="1.6" fill="none"/><path d="M456.6 286.2L460.4 290.0M456.6 290.0L460.4 286.2" stroke="#000" stroke-width="1.6" fill="none"/><path d="M456.7 286.7L460.5 290.5M456.7 290.5L460.5 286.7" stroke="#000" stroke-width="1.6" fill="none"/><path d="M455.7 287.2L459.5 291.0M455.7 291.0L459.5 287.2" stroke="#000" stroke-width="1.6" fill="none"/><path d="M456.6 287.7L460.4 291.5M456.6 291.5L460.4 287.7" stroke="#000" stroke-width="1.6" fill="none"/><path d="M454.7 288.2L458.5 292.0M454.7 292.0L458.5 288.2" stroke="#000" stroke-width="1.6" fill="none"/><path d="M454.4 288.7L458.2 292.5M454.4 292.5L458.2 288.7" stroke="#000" stroke-width="1.6" fill="none"/><path d="M454.1 289.2L457.9 293.0M454.1 293.0L457.9 289.2" stroke="#000" stroke-width="1.6" fill="none"/><path d="M453.7 289.7L457.5 293.5M453.7 293.5L457.5 289.7" stroke="#000" stroke-width="1.6" fill="none"/><path d="M454.2 290.2L458.0 294.0M454.2 294.0L458.0 290.2" stroke="#000" stroke-width="1.6" fill="none"/><rect x="407.2" y="294.0" width="4.3" height="4.3" stroke="#000" stroke-width="0" fill="#000"/><rect x="407.2" y="294.6" width="4.3" height="4.3" stroke="#000" stroke-width="0" fill="#000"/><rect x="407.0" y="295.2" width="4.3" height="4.3" stroke="#000" stroke-width="0" fill="#000"/><rect x="406.7" y="295.8" width="4.3" height="4.3" stroke="#000" stroke-width="0" fill="#000"/><rect x="407.0" y="296.4" width="4.3" height="4.3" stroke="#000" stroke-width="0" fill="#000"/><rect x="406.6" y="297.1" width="4.3" height="4.3" stroke="#000" stroke-width="0" fill="#000"/><rect x="406.6" y="297.7" width="4.3" height="4.3" stroke="#000" stroke-width="0" fill="#000"/><rect x="406.6" y="298.3" width="4.3" height="4.3" stroke="#000" stroke-width="0" fill="#000"/><rect x="406.8" y="298.9" width="4.3" height="4.3" stroke="#000" stroke-width="0" fill="#000"/><path d="M426.7 294.4L430.5 298.2M426.7 298.2L430.5 294.4" stroke="#000" stroke-width="1.6" fill="none"/><path d="M426.3 294.9L430.1 298.7M426.3 298.7L430.1 294.9" stroke="#000" stroke-width="1.6" fill="none"/><path d="M427.1 295.4L430.9 299.2M427.1 299.2L430.9 295.4" stroke="#000" stroke-width="1.6" fill="none"/><path d="M426.8 295.9L430.6 299.7M426.8 299.7L430.6 295.9" stroke="#000" stroke-width="1.6" fill="none"/><path d="M425.1 296.4L428.9 300.2M425.1 300.2L428.9 296.4" stroke="#000" stroke-width="1.6" fill="none"/><path d="M424.1 296.9L427.9 300.7M424.1 300.7L427.9 296.9" stroke="#000" stroke-width="1.6" fill="none"/><path d="M425.1 297.4L428.9 301.2M425.1 301.2L428.9 297.4" stroke="#000" stroke-width="1.6" fill="none"/><path d="M424.7 297.9L428.5 301.7M424.7 301.7L428.5 297.9" stroke="#000" stroke-width="1.6" fill="none"/><path d="M423.3 298.4L427.1 302.2M423.3 302.2L427.1 298.4" stroke="#000" stroke-width="1.6" fill="none"/><path d="M423.8 298.9L427.6 302.7M423.8 302.7L427.6 298.9" stroke="#000" stroke-width="1.6" fill="none"/><path d="M456.7 294.4L460.5 298.2M456.7 298.2L460.5 294.4" stroke="#000" stroke-width="1.6" fill="none"/><path d="M456.1 294.9L459.9 298.7M456.1 298.7L459.9 294.9" stroke="#000" stroke-width="1.6" fill="none"/><path d="M456.4 295.4L460.2 299.2M456.4 299.2L460.2 295.4" stroke="#000" stroke-width="1.6" fill="none"/><path d="M456.3 295.9L460.1 299.7M456.3 299.7L460.1 295.9" stroke="#000" stroke-width="1.6" fill="none"/><path d="M455.3 296.4L459.1 300.2M455.3 300.2L459.1 296.4" stroke="#000" stroke-width="1.6" fill="none"/><path d="M455.6 296.9L459.4 300.7M455.6 300.7L459.4 296.9" stroke="#000" stroke-width="1.6" fill="none"/><path d="M453.4 297.4L457.2 301.2M453.4 301.2L457.2 297.4" stroke="#000" stroke-width="1.6" fill="none"/><path d="M454.0 297.9L457.8 301.7M454.0 301.7L457.8 297.9" stroke="#000" stroke-width="1.6" fill="none"/><path d="M453.4 298.4L457.2 302.2M453.4 302.2L457.2 298.4" stroke="#000" stroke-width="1.6" fill="none"/><path d="M452.2 298.9L456.0 302.7M452.2 302.7L456.0 298.9" stroke="#000" stroke-width="1.6" fill="none"/><rect x="406.9" y="302.8" width="4.3" height="4.3" stroke="#000" stroke-width="0" fill="#000"/><rect x="406.4" y="303.5" width="4.3" height="4.3" stroke="#000" stroke-width="0" fill="#000"/><rect x="406.3" y="304.1" width="4.3" height="4.3" stroke="#000" stroke-width="0" fill="#000"/><rect x="406.5" y="304.8" width="4.3" height="4.3" stroke="#000" stroke-width="0" fill="#000"/><rect x="406.5" y="305.5" width="4.3" height="4.3" stroke="#000" stroke-width="0" fill="#000"/><rect x="406.4" y="306.2" width="4.3" height="4.3" stroke="#000" stroke-width="0" fill="#000"/><rect x="406.0" y="306.9" width="4.3" height="4.3" stroke="#000" stroke-width="0" fill="#000"/><path d="M425.1 303.2L428.9 307.0M425.1 307.0L428.9 303.2" stroke="#000" stroke-width="1.6" fill="none"/><path d="M423.4 303.7L427.2 307.5M423.4 307.5L427.2 303.7" stroke="#000" stroke-width="1.6" fill="none"/><path d="M424.0 304.3L427.8 308.1M424.0 308.1L427.8 304.3" stroke="#000" stroke-width="1.6" fill="none"/><path d="M424.0 304.8L427.8 308.6M424.0 308.6L427.8 304.8" stroke="#000" stroke-width="1.6" fill="none"/><path d="M422.4 305.3L426.2 309.1M422.4 309.1L426.2 305.3" stroke="#000" stroke-width="1.6" fill="none"/><path d="M421.9 305.9L425.7 309.7M421.9 309.7L425.7 305.9" stroke="#000" stroke-width="1.6" fill="none"/><path d="M422.5 306.4L426.3 310.2M422.5 310.2L426.3 306.4" stroke="#000" stroke-width="1.6" fill="none"/><path d="M422.5 306.9L426.3 310.7M422.5 310.7L426.3 306.9" stroke="#000" stroke-width="1.6" fill="none"/><path d="M454.3 303.2L458.1 307.0M454.3 307.0L458.1 303.2" stroke="#000" stroke-width="1.6" fill="none"/><path d="M454.3 303.7L458.1 307.5M454.3 307.5L458.1 303.7" stroke="#000" stroke-width="1.6" fill="none"/><path d="M453.1 304.3L456.9 308.1M453.1 308.1L456.9 304.3" stroke="#000" stroke-width="1.6" fill="none"/><path d="M452.6 304.8L456.4 308.6M452.6 308.6L456.4 304.8" stroke="#000" stroke-width="1.6" fill="none"/><path d="M451.8 305.3L455.6 309.1M451.8 309.1L455.6 305.3" stroke="#000" stroke-width="1.6" fill="none"/><path d="M451.7 305.9L455.5 309.7M451.7 309.7L455.5 305.9" stroke="#000" stroke-width="1.6" fill="none"/><path d="M452.4 306.4L456.2 310.2M452.4 310.2L456.2 306.4" stroke="#000" stroke-width="1.6" fill="none"/><path d="M450.6 306.9L454.4 310.7M450.6 310.7L454.4 306.9" stroke="#000" stroke-width="1.6" fill="none"/><rect x="405.2" y="311.5" width="4.3" height="4.3" stroke="#000" stroke-width="0" fill="#000"/><rect x="405.3" y="311.6" width="4.3" height="4.3" stroke="#000" stroke-width="0" fill="#000"/><rect x="403.9" y="314.2" width="4.3" height="4.3" stroke="#000" stroke-width="0" fill="#000"/><rect x="404.2" y="314.0" width="4.3" height="4.3" stroke="#000" stroke-width="0" fill="#000"/><rect x="404.9" y="314.4" width="4.3" height="4.3" stroke="#000" stroke-width="0" fill="#000"/><rect x="405.0" y="314.6" width="4.3" height="4.3" stroke="#000" stroke-width="0" fill="#000"/><rect x="404.9" y="314.8" width="4.3" height="4.3" stroke="#000" stroke-width="0" fill="#000"/><rect x="404.0" y="314.1" width="4.3" height="4.3" stroke="#000" stroke-width="0" fill="#000"/><rect x="404.0" y="314.2" width="4.3" height="4.3" stroke="#000" stroke-width="0" fill="#000"/><rect x="405.4" y="314.8" width="4.3" height="4.3" stroke="#000" stroke-width="0" fill="#000"/><path d="M420.6 313.7L424.4 317.5M420.6 317.5L424.4 313.7" stroke="#000" stroke-width="1.6" fill="none"/><path d="M419.1 313.9L422.9 317.7M419.1 317.7L422.9 313.9" stroke="#000" stroke-width="1.6" fill="none"/><path d="M418.8 314.1L422.6 317.9M418.8 317.9L422.6 314.1" stroke="#000" stroke-width="1.6" fill="none"/><path d="M424.7 313.9L428.5 317.7M424.7 317.7L428.5 313.9" stroke="#000" stroke-width="1.6" fill="none"/><path d="M421.5 314.1L425.3 317.9M421.5 317.9L425.3 314.1" stroke="#000" stroke-width="1.6" fill="none"/><path d="M420.3 313.7L424.1 317.5M420.3 317.5L424.1 313.7" stroke="#000" stroke-width="1.6" fill="none"/><path d="M424.4 314.2L428.2 318.0M424.4 318.0L428.2 314.2" stroke="#000" stroke-width="1.6" fill="none"/><path d="M416.5 314.1L420.3 317.9M416.5 317.9L420.3 314.1" stroke="#000" stroke-width="1.6" fill="none"/><path d="M419.7 313.6L423.5 317.4M419.7 317.4L423.5 313.6" stroke="#000" stroke-width="1.6" fill="none"/><path d="M417.7 313.7L421.5 317.5M417.7 317.5L421.5 313.7" stroke="#000" stroke-width="1.6" fill="none"/><path d="M422.6 313.7L426.4 317.5M422.6 317.5L426.4 313.7" stroke="#000" stroke-width="1.6" fill="none"/><path d="M423.8 311.2L427.6 315.0M423.8 315.0L427.6 311.2" stroke="#000" stroke-width="1.6" fill="none"/><path d="M423.7 311.3L427.5 315.1M423.7 315.1L427.5 311.3" stroke="#000" stroke-width="1.6" fill="none"/><path d="M451.7 313.9L455.5 317.7M451.7 317.7L455.5 313.9" stroke="#000" stroke-width="1.6" fill="none"/><path d="M450.4 313.9L454.2 317.7M450.4 317.7L454.2 313.9" stroke="#000" stroke-width="1.6" fill="none"/><path d="M446.4 313.6L450.2 317.4M446.4 317.4L450.2 313.6" stroke="#000" stroke-width="1.6" fill="none"/><path d="M447.4 313.6L451.2 317.4M447.4 317.4L451.2 313.6" stroke="#000" stroke-width="1.6" fill="none"/><path d="M447.0 314.0L450.8 317.8M447.0 317.8L450.8 314.0" stroke="#000" stroke-width="1.6" fill="none"/><path d="M448.0 313.9L451.8 317.7M448.0 317.7L451.8 313.9" stroke="#000" stroke-width="1.6" fill="none"/><path d="M450.2 313.8L454.0 317.6M450.2 317.6L454.0 313.8" stroke="#000" stroke-width="1.6" fill="none"/><path d="M447.9 314.1L451.7 317.9M447.9 317.9L451.7 314.1" stroke="#000" stroke-width="1.6" fill="none"/><path d="M449.8 313.9L453.6 317.7M449.8 317.7L453.6 313.9" stroke="#000" stroke-width="1.6" fill="none"/><path d="M449.4 313.9L453.2 317.7M449.4 317.7L453.2 313.9" stroke="#000" stroke-width="1.6" fill="none"/><path d="M447.7 314.1L451.5 317.9M447.7 317.9L451.5 314.1" stroke="#000" stroke-width="1.6" fill="none"/><path d="M452.5 311.2L456.3 315.0M452.5 315.0L456.3 311.2" stroke="#000" stroke-width="1.6" fill="none"/><path d="M452.9 311.3L456.7 315.1M452.9 315.1L456.7 311.3" stroke="#000" stroke-width="1.6" fill="none"/><rect x="406.3" y="320.3" width="4.3" height="4.3" stroke="#000" stroke-width="0" fill="#000"/><rect x="406.2" y="321.0" width="4.3" height="4.3" stroke="#000" stroke-width="0" fill="#000"/><rect x="405.8" y="321.7" width="4.3" height="4.3" stroke="#000" stroke-width="0" fill="#000"/><rect x="405.9" y="322.4" width="4.3" height="4.3" stroke="#000" stroke-width="0" fill="#000"/><rect x="406.0" y="323.0" width="4.3" height="4.3" stroke="#000" stroke-width="0" fill="#000"/><rect x="405.5" y="323.7" width="4.3" height="4.3" stroke="#000" stroke-width="0" fill="#000"/><rect x="405.4" y="324.4" width="4.3" height="4.3" stroke="#000" stroke-width="0" fill="#000"/><path d="M423.8 320.8L427.6 324.6M423.8 324.6L427.6 320.8" stroke="#000" stroke-width="1.6" fill="none"/><path d="M422.6 321.3L426.4 325.1M422.6 325.1L426.4 321.3" stroke="#000" stroke-width="1.6" fill="none"/><path d="M422.8 321.8L426.6 325.6M422.8 325.6L426.6 321.8" stroke="#000" stroke-width="1.6" fill="none"/><path d="M421.7 322.3L425.5 326.1M421.7 326.1L425.5 322.3" stroke="#000" stroke-width="1.6" fill="none"/><path d="M422.7 322.9L426.5 326.7M422.7 326.7L426.5 322.9" stroke="#000" stroke-width="1.6" fill="none"/><path d="M421.2 323.4L425.0 327.2M421.2 327.2L425.0 323.4" stroke="#000" stroke-width="1.6" fill="none"/><path d="M420.5 323.9L424.3 327.7M420.5 327.7L424.3 323.9" stroke="#000" stroke-width="1.6" fill="none"/><path d="M421.1 324.5L424.9 328.3M421.1 328.3L424.9 324.5" stroke="#000" stroke-width="1.6" fill="none"/><path d="M452.1 320.8L455.9 324.6M452.1 324.6L455.9 320.8" stroke="#000" stroke-width="1.6" fill="none"/><path d="M452.1 321.3L455.9 325.1M452.1 325.1L455.9 321.3" stroke="#000" stroke-width="1.6" fill="none"/><path d="M451.7 321.8L455.5 325.6M451.7 325.6L455.5 321.8" stroke="#000" stroke-width="1.6" fill="none"/><path d="M452.0 322.3L455.8 326.1M452.0 326.1L455.8 322.3" stroke="#000" stroke-width="1.6" fill="none"/><path d="M450.9 322.9L454.7 326.7M450.9 326.7L454.7 322.9" stroke="#000" stroke-width="1.6" fill="none"/><path d="M450.3 323.4L454.1 327.2M450.3 327.2L454.1 323.4" stroke="#000" stroke-width="1.6" fill="none"/><path d="M449.3 323.9L453.1 327.7M449.3 327.7L453.1 323.9" stroke="#000" stroke-width="1.6" fill="none"/><path d="M449.8 324.5L453.6 328.3M449.8 328.3L453.6 324.5" stroke="#000" stroke-width="1.6" fill="none"/><rect x="405.0" y="329.1" width="4.3" height="4.3" stroke="#000" stroke-width="0" fill="#000"/><rect x="405.1" y="329.7" width="4.3" height="4.3" stroke="#000" stroke-width="0" fill="#000"/><rect x="405.0" y="330.4" width="4.3" height="4.3" stroke="#000" stroke-width="0" fill="#000"/><rect x="404.8" y="331.1" width="4.3" height="4.3" stroke="#000" stroke-width="0" fill="#000"/><rect x="404.5" y="331.7" width="4.3" height="4.3" stroke="#000" stroke-width="0" fill="#000"/><rect x="404.6" y="332.4" width="4.3" height="4.3" stroke="#000" stroke-width="0" fill="#000"/><rect x="404.5" y="333.1" width="4.3" height="4.3" stroke="#000" stroke-width="0" fill="#000"/><path d="M421.1 329.5L424.9 333.3M421.1 333.3L424.9 329.5" stroke="#000" stroke-width="1.6" fill="none"/><path d="M421.2 330.1L425.0 333.8M421.2 333.8L425.0 330.1" stroke="#000" stroke-width="1.6" fill="none"/><path d="M419.5 330.6L423.3 334.4M419.5 334.4L423.3 330.6" stroke="#000" stroke-width="1.6" fill="none"/><path d="M419.2 331.1L423.0 334.9M419.2 334.9L423.0 331.1" stroke="#000" stroke-width="1.6" fill="none"/><path d="M418.1 331.6L421.9 335.4M418.1 335.4L421.9 331.6" stroke="#000" stroke-width="1.6" fill="none"/><path d="M418.8 332.1L422.6 335.9M418.8 335.9L422.6 332.1" stroke="#000" stroke-width="1.6" fill="none"/><path d="M449.4 329.5L453.2 333.3M449.4 333.3L453.2 329.5" stroke="#000" stroke-width="1.6" fill="none"/><path d="M449.9 330.1L453.7 333.8M449.9 333.8L453.7 330.1" stroke="#000" stroke-width="1.6" fill="none"/><path d="M449.4 330.6L453.2 334.4M449.4 334.4L453.2 330.6" stroke="#000" stroke-width="1.6" fill="none"/><path d="M447.9 331.1L451.7 334.9M447.9 334.9L451.7 331.1" stroke="#000" stroke-width="1.6" fill="none"/><path d="M448.5 331.6L452.3 335.4M448.5 335.4L452.3 331.6" stroke="#000" stroke-width="1.6" fill="none"/><path d="M447.3 332.1L451.1 335.9M447.3 335.9L451.1 332.1" stroke="#000" stroke-width="1.6" fill="none"/><rect x="404.6" y="337.9" width="4.3" height="4.3" stroke="#000" stroke-width="0" fill="#000"/><rect x="404.6" y="338.5" width="4.3" height="4.3" stroke="#000" stroke-width="0" fill="#000"/><rect x="404.7" y="339.2" width="4.3" height="4.3" stroke="#000" stroke-width="0" fill="#000"/><rect x="404.3" y="339.9" width="4.3" height="4.3" stroke="#000" stroke-width="0" fill="#000"/><rect x="404.2" y="340.5" width="4.3" height="4.3" stroke="#000" stroke-width="0" fill="#000"/><rect x="404.0" y="341.2" width="4.3" height="4.3" stroke="#000" stroke-width="0" fill="#000"/><rect x="404.2" y="341.9" width="4.3" height="4.3" stroke="#000" stroke-width="0" fill="#000"/><path d="M419.9 338.3L423.7 342.1M419.9 342.1L423.7 338.3" stroke="#000" stroke-width="1.6" fill="none"/><path d="M419.1 338.8L422.9 342.6M419.1 342.6L422.9 338.8" stroke="#000" stroke-width="1.6" fill="none"/><path d="M418.3 339.3L422.1 343.1M418.3 343.1L422.1 339.3" stroke="#000" stroke-width="1.6" fill="none"/><path d="M417.9 339.9L421.7 343.7M417.9 343.7L421.7 339.9" stroke="#000" stroke-width="1.6" fill="none"/><path d="M418.4 340.4L422.2 344.2M418.4 344.2L422.2 340.4" stroke="#000" stroke-width="1.6" fill="none"/><path d="M417.8 340.9L421.6 344.7M417.8 344.7L421.6 340.9" stroke="#000" stroke-width="1.6" fill="none"/><path d="M449.7 338.3L453.5 342.1M449.7 342.1L453.5 338.3" stroke="#000" stroke-width="1.6" fill="none"/><path d="M449.1 338.8L452.9 342.6M449.1 342.6L452.9 338.8" stroke="#000" stroke-width="1.6" fill="none"/><path d="M448.2 339.3L452.0 343.1M448.2 343.1L452.0 339.3" stroke="#000" stroke-width="1.6" fill="none"/><path d="M447.8 339.9L451.6 343.7M447.8 343.7L451.6 339.9" stroke="#000" stroke-width="1.6" fill="none"/><path d="M447.2 340.4L451.0 344.2M447.2 344.2L451.0 340.4" stroke="#000" stroke-width="1.6" fill="none"/><path d="M446.8 340.9L450.6 344.7M446.8 344.7L450.6 340.9" stroke="#000" stroke-width="1.6" fill="none"/><rect x="404.3" y="346.6" width="4.3" height="4.3" stroke="#000" stroke-width="0" fill="#000"/><rect x="403.9" y="347.3" width="4.3" height="4.3" stroke="#000" stroke-width="0" fill="#000"/><rect x="404.1" y="348.0" width="4.3" height="4.3" stroke="#000" stroke-width="0" fill="#000"/><rect x="403.8" y="348.6" width="4.3" height="4.3" stroke="#000" stroke-width="0" fill="#000"/><rect x="403.6" y="349.3" width="4.3" height="4.3" stroke="#000" stroke-width="0" fill="#000"/><rect x="403.9" y="350.0" width="4.3" height="4.3" stroke="#000" stroke-width="0" fill="#000"/><rect x="403.3" y="350.6" width="4.3" height="4.3" stroke="#000" stroke-width="0" fill="#000"/><path d="M417.4 347.1L421.2 350.9M417.4 350.9L421.2 347.1" stroke="#000" stroke-width="1.6" fill="none"/><path d="M416.6 347.6L420.4 351.4M416.6 351.4L420.4 347.6" stroke="#000" stroke-width="1.6" fill="none"/><path d="M416.9 348.1L420.7 351.9M416.9 351.9L420.7 348.1" stroke="#000" stroke-width="1.6" fill="none"/><path d="M416.0 348.6L419.8 352.4M416.0 352.4L419.8 348.6" stroke="#000" stroke-width="1.6" fill="none"/><path d="M416.0 349.1L419.8 352.9M416.0 352.9L419.8 349.1" stroke="#000" stroke-width="1.6" fill="none"/><path d="M415.5 349.7L419.3 353.5M415.5 353.5L419.3 349.7" stroke="#000" stroke-width="1.6" fill="none"/><path d="M446.6 347.1L450.4 350.9M446.6 350.9L450.4 347.1" stroke="#000" stroke-width="1.6" fill="none"/><path d="M445.1 347.6L448.9 351.4M445.1 351.4L448.9 347.6" stroke="#000" stroke-width="1.6" fill="none"/><path d="M445.6 348.1L449.4 351.9M445.6 351.9L449.4 348.1" stroke="#000" stroke-width="1.6" fill="none"/><path d="M444.2 348.6L448.0 352.4M444.2 352.4L448.0 348.6" stroke="#000" stroke-width="1.6" fill="none"/><path d="M445.1 349.1L448.9 352.9M445.1 352.9L448.9 349.1" stroke="#000" stroke-width="1.6" fill="none"/><path d="M444.4 349.7L448.2 353.5M444.4 353.5L448.2 349.7" stroke="#000" stroke-width="1.6" fill="none"/><rect x="402.0" y="355.2" width="4.3" height="4.3" stroke="#000" stroke-width="0" fill="#000"/><rect x="402.2" y="356.4" width="4.3" height="4.3" stroke="#000" stroke-width="0" fill="#000"/><rect x="402.3" y="356.1" width="4.3" height="4.3" stroke="#000" stroke-width="0" fill="#000"/><rect x="401.9" y="356.3" width="4.3" height="4.3" stroke="#000" stroke-width="0" fill="#000"/><rect x="401.9" y="356.6" width="4.3" height="4.3" stroke="#000" stroke-width="0" fill="#000"/><rect x="402.2" y="356.4" width="4.3" height="4.3" stroke="#000" stroke-width="0" fill="#000"/><path d="M413.5 356.5L417.3 360.3M413.5 360.3L417.3 356.5" stroke="#000" stroke-width="1.6" fill="none"/><path d="M413.8 356.6L417.6 360.4M413.8 360.4L417.6 356.6" stroke="#000" stroke-width="1.6" fill="none"/><path d="M411.6 356.2L415.4 360.0M411.6 360.0L415.4 356.2" stroke="#000" stroke-width="1.6" fill="none"/><path d="M410.9 355.6L414.7 359.4M410.9 359.4L414.7 355.6" stroke="#000" stroke-width="1.6" fill="none"/><path d="M409.9 356.9L413.7 360.7M409.9 360.7L413.7 356.9" stroke="#000" stroke-width="1.6" fill="none"/><path d="M410.2 356.7L414.0 360.5M410.2 360.5L414.0 356.7" stroke="#000" stroke-width="1.6" fill="none"/><path d="M413.0 356.7L416.8 360.5M413.0 360.5L416.8 356.7" stroke="#000" stroke-width="1.6" fill="none"/><path d="M411.7 356.1L415.5 359.9M411.7 359.9L415.5 356.1" stroke="#000" stroke-width="1.6" fill="none"/><path d="M410.5 355.9L414.3 359.7M410.5 359.7L414.3 355.9" stroke="#000" stroke-width="1.6" fill="none"/><path d="M412.3 356.7L416.1 360.5M412.3 360.5L416.1 356.7" stroke="#000" stroke-width="1.6" fill="none"/><path d="M441.3 356.1L445.1 359.9M441.3 359.9L445.1 356.1" stroke="#000" stroke-width="1.6" fill="none"/><path d="M441.2 357.1L445.0 360.9M441.2 360.9L445.0 357.1" stroke="#000" stroke-width="1.6" fill="none"/><path d="M438.1 357.2L441.9 361.0M438.1 361.0L441.9 357.2" stroke="#000" stroke-width="1.6" fill="none"/><path d="M439.7 357.2L443.5 361.0M439.7 361.0L443.5 357.2" stroke="#000" stroke-width="1.6" fill="none"/><path d="M440.5 356.1L444.3 359.9M440.5 359.9L444.3 356.1" stroke="#000" stroke-width="1.6" fill="none"/><path d="M438.0 356.4L441.8 360.2M438.0 360.2L441.8 356.4" stroke="#000" stroke-width="1.6" fill="none"/><path d="M439.0 355.6L442.8 359.4M439.0 359.4L442.8 355.6" stroke="#000" stroke-width="1.6" fill="none"/><path d="M440.9 356.5L444.7 360.3M440.9 360.3L444.7 356.5" stroke="#000" stroke-width="1.6" fill="none"/><path d="M439.0 356.8L442.8 360.6M439.0 360.6L442.8 356.8" stroke="#000" stroke-width="1.6" fill="none"/><path d="M437.8 355.9L441.6 359.7M437.8 359.7L441.6 355.9" stroke="#000" stroke-width="1.6" fill="none"/><rect x="402.2" y="364.2" width="4.3" height="4.3" stroke="#000" stroke-width="0" fill="#000"/><rect x="401.9" y="364.8" width="4.3" height="4.3" stroke="#000" stroke-width="0" fill="#000"/><rect x="401.8" y="365.4" width="4.3" height="4.3" stroke="#000" stroke-width="0" fill="#000"/><rect x="401.6" y="366.0" width="4.3" height="4.3" stroke="#000" stroke-width="0" fill="#000"/><rect x="401.4" y="366.6" width="4.3" height="4.3" stroke="#000" stroke-width="0" fill="#000"/><rect x="401.5" y="367.2" width="4.3" height="4.3" stroke="#000" stroke-width="0" fill="#000"/><path d="M411.7 365.9L415.5 369.7M411.7 369.7L415.5 365.9" stroke="#000" stroke-width="1.6" fill="none"/><path d="M412.3 365.0L416.1 368.8M412.3 368.8L416.1 365.0" stroke="#000" stroke-width="1.6" fill="none"/><path d="M411.1 364.7L414.9 368.5M411.1 368.5L414.9 364.7" stroke="#000" stroke-width="1.6" fill="none"/><path d="M411.5 365.9L415.3 369.7M411.5 369.7L415.3 365.9" stroke="#000" stroke-width="1.6" fill="none"/><path d="M409.7 365.0L413.5 368.8M409.7 368.8L413.5 365.0" stroke="#000" stroke-width="1.6" fill="none"/><path d="M412.5 365.6L416.3 369.4M412.5 369.4L416.3 365.6" stroke="#000" stroke-width="1.6" fill="none"/><path d="M411.9 365.4L415.7 369.2M411.9 369.2L415.7 365.4" stroke="#000" stroke-width="1.6" fill="none"/><path d="M413.8 365.8L417.6 369.6M413.8 369.6L417.6 365.8" stroke="#000" stroke-width="1.6" fill="none"/><path d="M410.4 365.2L414.2 369.0M410.4 369.0L414.2 365.2" stroke="#000" stroke-width="1.6" fill="none"/><path d="M414.1 365.2L417.9 369.0M414.1 369.0L417.9 365.2" stroke="#000" stroke-width="1.6" fill="none"/><path d="M437.5 365.6L441.3 369.4M437.5 369.4L441.3 365.6" stroke="#000" stroke-width="1.6" fill="none"/><path d="M436.9 364.6L440.7 368.4M436.9 368.4L440.7 364.6" stroke="#000" stroke-width="1.6" fill="none"/><path d="M439.4 364.8L443.2 368.6M439.4 368.6L443.2 364.8" stroke="#000" stroke-width="1.6" fill="none"/><path d="M440.2 365.5L444.0 369.3M440.2 369.3L444.0 365.5" stroke="#000" stroke-width="1.6" fill="none"/><path d="M438.2 365.6L442.0 369.4M438.2 369.4L442.0 365.6" stroke="#000" stroke-width="1.6" fill="none"/><path d="M439.8 365.5L443.6 369.3M439.8 369.3L443.6 365.5" stroke="#000" stroke-width="1.6" fill="none"/><path d="M438.9 365.0L442.7 368.8M438.9 368.8L442.7 365.0" stroke="#000" stroke-width="1.6" fill="none"/><path d="M437.1 365.1L440.9 368.9M437.1 368.9L440.9 365.1" stroke="#000" stroke-width="1.6" fill="none"/><path d="M441.4 365.8L445.2 369.6M441.4 369.6L445.2 365.8" stroke="#000" stroke-width="1.6" fill="none"/><path d="M436.9 364.4L440.7 368.2M436.9 368.2L440.7 364.4" stroke="#000" stroke-width="1.6" fill="none"/><rect x="405.8" y="373.7" width="4.3" height="4.3" stroke="#000" stroke-width="0" fill="#000"/><rect x="406.0" y="373.0" width="4.3" height="4.3" stroke="#000" stroke-width="0" fill="#000"/><rect x="406.0" y="373.5" width="4.3" height="4.3" stroke="#000" stroke-width="0" fill="#000"/><rect x="406.5" y="373.3" width="4.3" height="4.3" stroke="#000" stroke-width="0" fill="#000"/><rect x="406.3" y="373.7" width="4.3" height="4.3" stroke="#000" stroke-width="0" fill="#000"/><rect x="406.3" y="372.9" width="4.3" height="4.3" stroke="#000" stroke-width="0" fill="#000"/><rect x="406.4" y="373.0" width="4.3" height="4.3" stroke="#000" stroke-width="0" fill="#000"/><rect x="405.4" y="373.4" width="4.3" height="4.3" stroke="#000" stroke-width="0" fill="#000"/><path d="M417.6 374.2L421.4 378.0M417.6 378.0L421.4 374.2" stroke="#000" stroke-width="1.6" fill="none"/><path d="M418.6 374.5L422.4 378.3M418.6 378.3L422.4 374.5" stroke="#000" stroke-width="1.6" fill="none"/><path d="M419.3 375.0L423.1 378.8M419.3 378.8L423.1 375.0" stroke="#000" stroke-width="1.6" fill="none"/><path d="M420.4 374.1L424.2 377.9M420.4 377.9L424.2 374.1" stroke="#000" stroke-width="1.6" fill="none"/><path d="M421.1 373.6L424.9 377.4M421.1 377.4L424.9 373.6" stroke="#000" stroke-width="1.6" fill="none"/><path d="M422.1 373.1L425.9 376.9M422.1 376.9L425.9 373.1" stroke="#000" stroke-width="1.6" fill="none"/><path d="M422.7 373.0L426.5 376.8M422.7 376.8L426.5 373.0" stroke="#000" stroke-width="1.6" fill="none"/><path d="M423.7 373.2L427.5 377.0M423.7 377.0L427.5 373.2" stroke="#000" stroke-width="1.6" fill="none"/><path d="M424.4 372.8L428.2 376.6M424.4 376.6L428.2 372.8" stroke="#000" stroke-width="1.6" fill="none"/><path d="M446.0 374.4L449.8 378.2M446.0 378.2L449.8 374.4" stroke="#000" stroke-width="1.6" fill="none"/><path d="M446.7 374.8L450.5 378.6M446.7 378.6L450.5 374.8" stroke="#000" stroke-width="1.6" fill="none"/><path d="M447.4 374.1L451.2 377.9M447.4 377.9L451.2 374.1" stroke="#000" stroke-width="1.6" fill="none"/><path d="M448.2 374.0L452.0 377.8M448.2 377.8L452.0 374.0" stroke="#000" stroke-width="1.6" fill="none"/><path d="M449.0 374.1L452.8 377.9M449.0 377.9L452.8 374.1" stroke="#000" stroke-width="1.6" fill="none"/><path d="M449.9 373.4L453.7 377.2M449.9 377.2L453.7 373.4" stroke="#000" stroke-width="1.6" fill="none"/><path d="M450.9 373.4L454.7 377.2M450.9 377.2L454.7 373.4" stroke="#000" stroke-width="1.6" fill="none"/><path d="M451.6 373.7L455.4 377.5M451.6 377.5L455.4 373.7" stroke="#000" stroke-width="1.6" fill="none"/><path d="M452.4 372.8L456.2 376.6M452.4 376.6L456.2 372.8" stroke="#000" stroke-width="1.6" fill="none"/><rect x="404.3" y="381.7" width="4.3" height="4.3" stroke="#000" stroke-width="0" fill="#000"/><rect x="404.2" y="382.3" width="4.3" height="4.3" stroke="#000" stroke-width="0" fill="#000"/><rect x="403.9" y="382.8" width="4.3" height="4.3" stroke="#000" stroke-width="0" fill="#000"/><rect x="403.5" y="383.4" width="4.3" height="4.3" stroke="#000" stroke-width="0" fill="#000"/><path d="M418.3 382.2L422.1 385.9M418.3 385.9L422.1 382.2" stroke="#000" stroke-width="1.6" fill="none"/><path d="M418.1 382.6L421.9 386.4M418.1 386.4L421.9 382.6" stroke="#000" stroke-width="1.6" fill="none"/><path d="M417.1 383.0L420.9 386.8M417.1 386.8L420.9 383.0" stroke="#000" stroke-width="1.6" fill="none"/><path d="M417.6 383.5L421.4 387.2M417.6 387.2L421.4 383.5" stroke="#000" stroke-width="1.6" fill="none"/><path d="M446.8 382.2L450.6 385.9M446.8 385.9L450.6 382.2" stroke="#000" stroke-width="1.6" fill="none"/><path d="M446.0 382.6L449.8 386.4M446.0 386.4L449.8 382.6" stroke="#000" stroke-width="1.6" fill="none"/><path d="M445.8 383.0L449.6 386.8M445.8 386.8L449.6 383.0" stroke="#000" stroke-width="1.6" fill="none"/><path d="M445.1 383.5L448.9 387.2M445.1 387.2L448.9 383.5" stroke="#000" stroke-width="1.6" fill="none"/><rect x="404.2" y="390.5" width="4.3" height="4.3" stroke="#000" stroke-width="0" fill="#000"/><rect x="403.8" y="391.0" width="4.3" height="4.3" stroke="#000" stroke-width="0" fill="#000"/><rect x="403.9" y="391.6" width="4.3" height="4.3" stroke="#000" stroke-width="0" fill="#000"/><rect x="403.6" y="392.2" width="4.3" height="4.3" stroke="#000" stroke-width="0" fill="#000"/><path d="M418.8 390.9L422.6 394.7M418.8 394.7L422.6 390.9" stroke="#000" stroke-width="1.6" fill="none"/><path d="M417.5 391.4L421.3 395.2M417.5 395.2L421.3 391.4" stroke="#000" stroke-width="1.6" fill="none"/><path d="M417.8 391.8L421.6 395.6M417.8 395.6L421.6 391.8" stroke="#000" stroke-width="1.6" fill="none"/><path d="M416.4 392.2L420.2 396.0M416.4 396.0L420.2 392.2" stroke="#000" stroke-width="1.6" fill="none"/><path d="M447.4 390.9L451.2 394.7M447.4 394.7L451.2 390.9" stroke="#000" stroke-width="1.6" fill="none"/><path d="M447.7 391.4L451.5 395.2M447.7 395.2L451.5 391.4" stroke="#000" stroke-width="1.6" fill="none"/><path d="M446.6 391.8L450.4 395.6M446.6 395.6L450.4 391.8" stroke="#000" stroke-width="1.6" fill="none"/><path d="M446.9 392.2L450.7 396.0M446.9 396.0L450.7 392.2" stroke="#000" stroke-width="1.6" fill="none"/><rect x="403.0" y="399.2" width="4.3" height="4.3" stroke="#000" stroke-width="0" fill="#000"/><rect x="402.9" y="399.8" width="4.3" height="4.3" stroke="#000" stroke-width="0" fill="#000"/><rect x="403.1" y="400.4" width="4.3" height="4.3" stroke="#000" stroke-width="0" fill="#000"/><rect x="402.5" y="401.0" width="4.3" height="4.3" stroke="#000" stroke-width="0" fill="#000"/><rect x="402.8" y="401.6" width="4.3" height="4.3" stroke="#000" stroke-width="0" fill="#000"/><path d="M412.2 400.9L416.0 404.7M412.2 404.7L416.0 400.9" stroke="#000" stroke-width="1.6" fill="none"/><path d="M414.6 401.4L418.4 405.2M414.6 405.2L418.4 401.4" stroke="#000" stroke-width="1.6" fill="none"/><path d="M413.3 400.9L417.1 404.7M413.3 404.7L417.1 400.9" stroke="#000" stroke-width="1.6" fill="none"/><path d="M414.3 401.2L418.1 405.0M414.3 405.0L418.1 401.2" stroke="#000" stroke-width="1.6" fill="none"/><path d="M414.4 400.8L418.2 404.6M414.4 404.6L418.2 400.8" stroke="#000" stroke-width="1.6" fill="none"/><path d="M412.8 401.1L416.6 404.9M412.8 404.9L416.6 401.1" stroke="#000" stroke-width="1.6" fill="none"/><path d="M413.8 400.8L417.6 404.6M413.8 404.6L417.6 400.8" stroke="#000" stroke-width="1.6" fill="none"/><path d="M415.2 400.0L419.0 403.8M415.2 403.8L419.0 400.0" stroke="#000" stroke-width="1.6" fill="none"/><path d="M414.5 400.3L418.3 404.1M414.5 404.1L418.3 400.3" stroke="#000" stroke-width="1.6" fill="none"/><path d="M442.8 401.6L446.6 405.4M442.8 405.4L446.6 401.6" stroke="#000" stroke-width="1.6" fill="none"/><path d="M441.4 400.8L445.2 404.6M441.4 404.6L445.2 400.8" stroke="#000" stroke-width="1.6" fill="none"/><path d="M442.2 400.7L446.0 404.5M442.2 404.5L446.0 400.7" stroke="#000" stroke-width="1.6" fill="none"/><path d="M441.0 400.9L444.8 404.7M441.0 404.7L444.8 400.9" stroke="#000" stroke-width="1.6" fill="none"/><path d="M443.4 401.0L447.2 404.8M443.4 404.8L447.2 401.0" stroke="#000" stroke-width="1.6" fill="none"/><path d="M441.4 401.3L445.2 405.1M441.4 405.1L445.2 401.3" stroke="#000" stroke-width="1.6" fill="none"/><path d="M441.8 400.0L445.6 403.8M441.8 403.8L445.6 400.0" stroke="#000" stroke-width="1.6" fill="none"/><path d="M442.4 400.6L446.2 404.4M442.4 404.4L446.2 400.6" stroke="#000" stroke-width="1.6" fill="none"/><path d="M442.2 401.7L446.0 405.5M442.2 405.5L446.0 401.7" stroke="#000" stroke-width="1.6" fill="none"/><rect x="412.9" y="278.4" width="4.3" height="4.3" stroke="#000" stroke-width="0" fill="#000"/><rect x="448.2" y="278.4" width="4.3" height="4.3" stroke="#000" stroke-width="0" fill="#000"/><path d="M429.6 373.1L433.4 376.9M429.6 376.9L433.4 373.1" stroke="#000" stroke-width="1.6" fill="none"/><path d="M469.2 278.2L474.8 283.8M469.2 283.8L474.8 278.2" stroke="#b0b0b0" stroke-width="1" fill="none"/><circle cx="477.0" cy="281.0" r="2.5" stroke="#8a8a8a" stroke-width="0.9" fill="none"/><path d="M479.4 279.4L483.2 283.2M479.4 283.2L483.2 279.4" stroke="#000" stroke-width="1.6" fill="none"/><circle cx="459.5" cy="314.5" r="2.5" stroke="#8a8a8a" stroke-width="0.9" fill="none"/><circle cx="464.0" cy="313.3" r="2.5" stroke="#8a8a8a" stroke-width="0.9" fill="none"/><circle cx="460.0" cy="308.0" r="2.5" stroke="#999" stroke-width="0.9" fill="none"/><circle cx="448.0" cy="357.5" r="2.2" stroke="#aaa" stroke-width="1.1" fill="#f2f2f2"/><circle cx="448.7" cy="366.5" r="2.3" stroke="#aaa" stroke-width="1.1" fill="#f2f2f2"/><circle cx="458.2" cy="375.0" r="2.5" stroke="#555" stroke-width="0.9" fill="none"/><circle cx="464.0" cy="375.0" r="2.5" stroke="#777" stroke-width="0.9" fill="none"/><path d="M465.8 375.0H471.2M468.5 372.2V377.8" stroke="#858585" stroke-width="0.9" fill="none"/><circle cx="450.5" cy="393.5" r="2.8" stroke="#5a5a5a" stroke-width="1.1" fill="none"/><circle cx="450.3" cy="404.0" r="2.6" stroke="#8a8a8a" stroke-width="1.1" fill="#e8e8e8"/><path d="M436.2 316.5H441.8M439.0 313.8V319.2" stroke="#a0a0a0" stroke-width="0.9" fill="none"/></g>
<rect x="395" y="180" width="177.5" height="231" fill="none" stroke="#000" stroke-width="4"/>
<path d="M410.6 408.6H416.1L413.3 413.3Z" stroke="#bdbdbd" stroke-width="1" fill="none"/><rect x="432.4" y="408.9" width="4.2" height="4.2" stroke="#a8a8a8" stroke-width="1" fill="none"/><rect x="441.4" y="408.9" width="4.2" height="4.2" stroke="#a8a8a8" stroke-width="1" fill="none"/><rect x="449.9" y="408.9" width="4.2" height="4.2" stroke="#a8a8a8" stroke-width="1" fill="none"/>
<text x="428.5" y="155.6" font-size="12.5" font-weight="bold" fill="#111">N<tspan dy="3.5" font-size="12">kt,C</tspan><tspan dy="-3.5"> and N</tspan><tspan dy="3.5" font-size="12">kt,Cem</tspan></text>
<text x="394.7" y="172.8" font-size="12.2" fill="#333" text-anchor="middle">10</text>
<text x="453.6" y="172.8" font-size="12.2" fill="#333" text-anchor="middle">20</text>
<text x="513" y="172.8" font-size="12.2" fill="#333" text-anchor="middle">30</text>
<text x="572.3" y="172.8" font-size="12.2" fill="#333" text-anchor="middle">40</text>
<text x="386.5" y="185.2" font-size="12.2" fill="#333" text-anchor="end">0</text>
<text x="386.5" y="242.9" font-size="12.2" fill="#333" text-anchor="end">20</text>
<text x="386.5" y="300.7" font-size="12.2" fill="#333" text-anchor="end">40</text>
<text x="386.5" y="358.4" font-size="12.2" fill="#333" text-anchor="end">60</text>
<text x="386.5" y="416.2" font-size="12.2" fill="#333" text-anchor="end">80</text>
<text transform="translate(368.6,296.3) rotate(-90)" font-size="12.7" font-weight="bold" fill="#111" text-anchor="middle">Depth (m)</text>
<text x="360" y="437.7" font-size="15.3" font-weight="bold" class="ser" fill="#111">(b)</text>
</svg></body></html>
